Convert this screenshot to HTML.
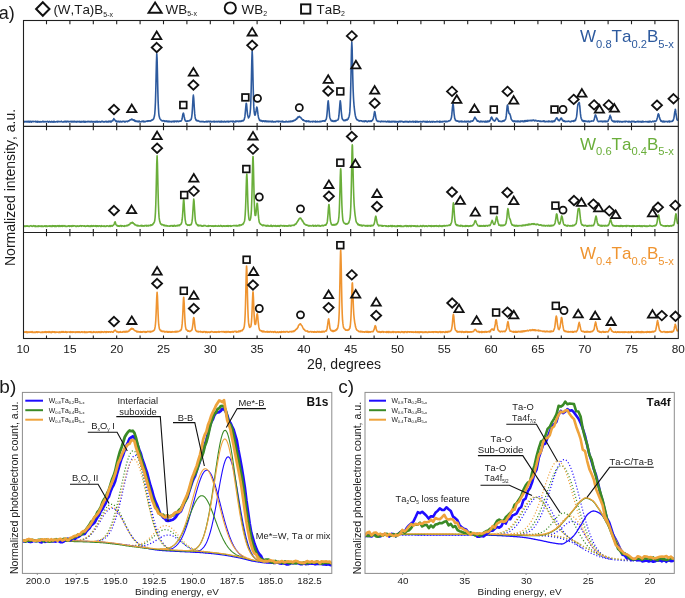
<!DOCTYPE html>
<html><head><meta charset="utf-8"><style>
html,body{margin:0;padding:0;background:#fff;}
body{width:685px;height:598px;overflow:hidden;}
svg{display:block;will-change:transform;}
text{font-family:"Liberation Sans", sans-serif;font-kerning:none;}
</style></head><body>
<svg width="685" height="598" viewBox="0 0 685 598" font-family="Liberation Sans, sans-serif">
<rect width="685" height="598" fill="#fff"/>
<path d="M24.1 121.37 L24.43 122.01 L24.76 121.94 L25.09 121.48 L25.42 121.7 L25.75 121.65 L26.08 121.84 L26.41 121.96 L26.74 121.33 L27.07 121.28 L27.4 122 L27.73 121.64 L28.06 121.94 L28.39 121.25 L28.72 121.65 L29.05 121.9 L29.38 121.46 L29.71 122.1 L30.04 122.06 L30.37 121.28 L30.7 121.27 L31.03 121.74 L31.36 122.1 L31.69 121.59 L32.02 121.44 L32.35 121.63 L32.68 121.28 L33.01 121.45 L33.34 121.64 L33.67 121.7 L34 121.46 L34.33 121.46 L34.66 121.45 L34.99 121.66 L35.32 121.51 L35.65 121.27 L35.98 122 L36.31 121.75 L36.64 121.83 L36.97 121.42 L37.3 122.14 L37.63 122.02 L37.96 121.36 L38.29 121.55 L38.62 121.9 L38.95 121.89 L39.28 122.09 L39.61 121.63 L39.94 122 L40.27 121.85 L40.6 121.52 L40.93 121.78 L41.26 122.04 L41.59 122.01 L41.92 121.7 L42.25 121.78 L42.58 121.28 L42.91 121.47 L43.24 121.97 L43.57 121.62 L43.9 121.41 L44.23 121.74 L44.56 121.88 L44.89 121.86 L45.22 121.59 L45.55 121.65 L45.88 121.71 L46.21 121.95 L46.54 121.72 L46.87 121.6 L47.2 121.69 L47.53 121.28 L47.86 121.29 L48.19 121.88 L48.52 122.13 L48.85 121.78 L49.18 121.6 L49.51 121.4 L49.84 121.7 L50.17 122.13 L50.5 121.94 L50.83 121.74 L51.16 122.02 L51.49 121.46 L51.82 121.71 L52.15 122.11 L52.48 121.77 L52.81 121.66 L53.14 121.49 L53.47 121.74 L53.8 122.11 L54.13 121.25 L54.46 121.95 L54.79 121.99 L55.12 122.05 L55.45 121.92 L55.78 121.98 L56.11 121.72 L56.44 121.75 L56.77 121.63 L57.1 121.3 L57.43 122.03 L57.76 121.76 L58.09 121.43 L58.42 121.7 L58.75 121.69 L59.08 121.57 L59.41 121.56 L59.74 121.73 L60.07 121.81 L60.4 121.8 L60.73 121.66 L61.06 121.27 L61.39 121.46 L61.72 121.41 L62.05 121.78 L62.38 122.02 L62.71 121.97 L63.04 121.97 L63.37 121.98 L63.7 121.48 L64.03 122.01 L64.36 121.86 L64.69 121.32 L65.02 121.26 L65.35 121.26 L65.68 121.93 L66.01 121.47 L66.34 121.35 L66.67 121.81 L67 121.56 L67.33 121.31 L67.66 121.39 L67.99 121.72 L68.32 121.4 L68.65 121.5 L68.98 121.89 L69.31 121.66 L69.64 121.54 L69.97 121.68 L70.3 121.27 L70.63 121.6 L70.96 121.63 L71.29 121.42 L71.62 121.35 L71.95 122.06 L72.28 121.71 L72.61 121.44 L72.94 121.79 L73.27 121.98 L73.6 121.27 L73.93 121.26 L74.26 121.38 L74.59 121.89 L74.92 121.39 L75.25 121.88 L75.58 121.86 L75.91 121.74 L76.24 121.45 L76.57 122.12 L76.9 121.96 L77.23 121.71 L77.56 121.45 L77.89 121.83 L78.22 121.6 L78.55 121.76 L78.88 121.54 L79.21 121.81 L79.54 121.3 L79.87 121.52 L80.2 122.12 L80.53 122.03 L80.86 121.52 L81.19 122.02 L81.52 121.53 L81.85 122.09 L82.18 121.92 L82.51 121.62 L82.84 121.47 L83.17 121.25 L83.5 122.04 L83.83 121.28 L84.16 121.98 L84.49 122.11 L84.82 121.76 L85.15 121.4 L85.48 122.03 L85.81 122.12 L86.14 121.88 L86.47 121.7 L86.8 121.59 L87.13 121.56 L87.46 121.43 L87.79 121.85 L88.12 121.63 L88.45 121.42 L88.78 121.34 L89.11 121.84 L89.44 121.51 L89.77 121.69 L90.1 121.54 L90.43 122.03 L90.76 122.05 L91.09 121.26 L91.42 121.42 L91.75 121.54 L92.08 122.13 L92.41 121.95 L92.74 121.55 L93.07 121.43 L93.4 121.85 L93.73 122 L94.06 122.08 L94.39 121.55 L94.72 122.04 L95.05 121.86 L95.38 121.68 L95.71 122.13 L96.04 121.45 L96.37 121.89 L96.7 121.32 L97.03 121.38 L97.36 122.05 L97.69 121.42 L98.02 121.91 L98.35 121.77 L98.68 121.99 L99.01 121.56 L99.34 121.53 L99.67 121.49 L100 122.01 L100.33 121.77 L100.66 122.08 L100.99 122.02 L101.32 121.35 L101.65 121.72 L101.98 121.32 L102.31 121.26 L102.64 121.29 L102.97 122 L103.3 121.93 L103.63 121.96 L103.96 121.52 L104.29 121.77 L104.62 121.92 L104.95 121.55 L105.28 121.73 L105.61 121.41 L105.94 121.28 L106.27 121.45 L106.6 122.01 L106.93 121.71 L107.26 122.03 L107.59 121.61 L107.92 121.44 L108.25 121.9 L108.58 121.93 L108.91 121.19 L109.24 121.77 L109.57 121.24 L109.9 121.26 L110.23 121.94 L110.56 121.16 L110.89 121.32 L111.22 121.96 L111.55 121.41 L111.88 121.06 L112.21 120.97 L112.54 120.78 L112.87 120.8 L113.2 119.6 L113.53 119.61 L113.86 118.61 L114.19 119.19 L114.52 119.71 L114.85 119.87 L115.18 120.43 L115.51 121.03 L115.84 120.92 L116.17 121.54 L116.5 121.06 L116.83 121.07 L117.16 121.97 L117.49 121.37 L117.82 121.65 L118.15 121.53 L118.48 121.41 L118.81 121.19 L119.14 121.96 L119.47 122.02 L119.8 122.02 L120.13 121.25 L120.46 121.34 L120.79 121.7 L121.12 122.03 L121.45 121.63 L121.78 121.76 L122.11 121.73 L122.44 121.37 L122.77 121.62 L123.1 121.4 L123.43 121.34 L123.76 121.19 L124.09 121.36 L124.42 121.98 L124.75 121.49 L125.08 121.66 L125.41 121.64 L125.74 121.89 L126.07 121.37 L126.4 121.26 L126.73 121.25 L127.06 121.19 L127.39 121.61 L127.72 121.58 L128.05 120.96 L128.38 120.89 L128.71 120.96 L129.04 120.85 L129.37 120.7 L129.7 120.21 L130.03 119.82 L130.36 119.83 L130.69 119.49 L131.02 119.75 L131.35 119.18 L131.68 119.09 L132.01 119.56 L132.34 119.28 L132.67 119.83 L133 119.7 L133.33 120.2 L133.66 119.74 L133.99 120.25 L134.32 120.69 L134.65 120.22 L134.98 121.16 L135.31 120.6 L135.64 121.26 L135.97 121.55 L136.3 121.48 L136.63 121.1 L136.96 120.96 L137.29 121.37 L137.62 121.76 L137.95 121.22 L138.28 121.78 L138.61 121.12 L138.94 121.82 L139.27 121.04 L139.6 121.3 L139.93 121.84 L140.26 121.75 L140.59 121.84 L140.92 121.78 L141.25 121.7 L141.58 121.65 L141.91 121.18 L142.24 121.41 L142.57 121.16 L142.9 121.66 L143.23 121.61 L143.56 121.23 L143.89 121.05 L144.22 121.85 L144.55 121.7 L144.88 121.46 L145.21 121.44 L145.54 121.71 L145.87 121.33 L146.2 121.27 L146.53 121.2 L146.86 121.1 L147.19 120.87 L147.52 121.41 L147.85 121.17 L148.18 121.28 L148.51 120.79 L148.84 121.01 L149.17 120.77 L149.5 120.71 L149.83 120.77 L150.16 121.22 L150.49 120.75 L150.82 120.66 L151.15 120.74 L151.48 120.28 L151.81 119.92 L152.14 120.21 L152.47 119.96 L152.8 119.81 L153.13 119.27 L153.46 119.04 L153.79 118.47 L154.12 117.15 L154.45 115.99 L154.78 113.56 L155.11 109.06 L155.44 101.98 L155.77 91.05 L156.1 76.89 L156.43 62.15 L156.76 53.71 L156.8 53.94 L157.09 58.49 L157.42 72.38 L157.75 87.75 L158.08 100.08 L158.41 107.56 L158.74 113 L159.07 115.87 L159.4 116.94 L159.73 118.25 L160.06 119.06 L160.39 119.11 L160.72 119.78 L161.05 120.11 L161.38 120.22 L161.71 120.64 L162.04 120.84 L162.37 121.03 L162.7 120.79 L163.03 120.53 L163.36 120.68 L163.69 120.72 L164.02 121.09 L164.35 121.32 L164.68 120.73 L165.01 121.34 L165.34 121.4 L165.67 121.1 L166 121.28 L166.33 120.99 L166.66 121.53 L166.99 120.93 L167.32 121.79 L167.65 121.65 L167.98 121.51 L168.31 121.19 L168.64 121.79 L168.97 121.84 L169.3 121.11 L169.63 121.7 L169.96 121.76 L170.29 121.61 L170.62 121.65 L170.95 121.43 L171.28 121.86 L171.61 121.91 L171.94 121.38 L172.27 121.77 L172.6 121.44 L172.93 121.2 L173.26 121.34 L173.59 121.17 L173.92 121.87 L174.25 121.92 L174.58 121.16 L174.91 121.59 L175.24 121.42 L175.57 121.15 L175.9 121.31 L176.23 121.26 L176.56 121.71 L176.89 121.03 L177.22 121.18 L177.55 121.4 L177.88 121.01 L178.21 121.54 L178.54 121.5 L178.87 121.68 L179.2 121.08 L179.53 121.11 L179.86 121.3 L180.19 120.99 L180.52 121.17 L180.85 120.73 L181.18 120.86 L181.51 120.5 L181.84 119.71 L182.17 118.57 L182.5 116.43 L182.83 114.43 L183.16 113.39 L183.3 113.16 L183.49 113.26 L183.82 114.6 L184.15 116.45 L184.48 117.97 L184.81 119.79 L185.14 119.9 L185.47 120.87 L185.8 120.9 L186.13 121.39 L186.46 121.27 L186.79 121.49 L187.12 120.76 L187.45 121.09 L187.78 121.14 L188.11 120.88 L188.44 121.01 L188.77 120.82 L189.1 120.9 L189.43 120.33 L189.76 120.6 L190.09 120.43 L190.42 120.07 L190.75 119.8 L191.08 119.59 L191.41 118.52 L191.74 116.61 L192.07 113.82 L192.4 109.15 L192.73 103.3 L193.06 97.51 L193.39 95.11 L193.4 95.4 L193.72 98.03 L194.05 103.51 L194.38 108.97 L194.71 113.91 L195.04 116.46 L195.37 118.61 L195.7 119.24 L196.03 120.13 L196.36 120.71 L196.69 120.35 L197.02 120.41 L197.35 120.96 L197.68 120.99 L198.01 120.93 L198.34 120.68 L198.67 121.09 L199 121.18 L199.33 121.2 L199.66 121.65 L199.99 121.43 L200.32 121.59 L200.65 121.76 L200.98 121.65 L201.31 121.44 L201.64 121.68 L201.97 121.6 L202.3 121.62 L202.63 121.62 L202.96 121.43 L203.29 121.64 L203.62 121.65 L203.95 121.93 L204.28 121.8 L204.61 121.86 L204.94 121.8 L205.27 121.85 L205.6 121.66 L205.93 121.44 L206.26 121.36 L206.59 121.77 L206.92 121.92 L207.25 121.63 L207.58 121.28 L207.91 121.89 L208.24 121.58 L208.57 121.57 L208.9 121.19 L209.23 121.61 L209.56 121.82 L209.89 121.54 L210.22 121.48 L210.55 121.75 L210.88 121.18 L211.21 121.62 L211.54 122.01 L211.87 121.79 L212.2 121.53 L212.53 121.79 L212.86 121.71 L213.19 121.36 L213.52 121.36 L213.85 121.97 L214.18 121.41 L214.51 121.24 L214.84 121.92 L215.17 121.64 L215.5 121.5 L215.83 121.63 L216.16 121.83 L216.49 121.32 L216.82 121.77 L217.15 121.82 L217.48 121.91 L217.81 121.42 L218.14 121.73 L218.47 121.39 L218.8 121.68 L219.13 121.33 L219.46 121.89 L219.79 121.96 L220.12 121.47 L220.45 121.38 L220.78 122.04 L221.11 121.81 L221.44 121.93 L221.77 121.2 L222.1 121.98 L222.43 121.73 L222.76 121.46 L223.09 121.56 L223.42 121.85 L223.75 121.88 L224.08 121.34 L224.41 121.73 L224.74 121.31 L225.07 122.04 L225.4 121.56 L225.73 121.98 L226.06 121.81 L226.39 121.7 L226.72 121.39 L227.05 121.63 L227.38 121.27 L227.71 121.27 L228.04 121.79 L228.37 121.47 L228.7 121.82 L229.03 121.35 L229.36 121.78 L229.69 121.78 L230.02 121.4 L230.35 121.22 L230.68 121.48 L231.01 121.56 L231.34 121.2 L231.67 121.28 L232 121.15 L232.33 121.64 L232.66 121.89 L232.99 121.28 L233.32 121.11 L233.65 121.71 L233.98 121.8 L234.31 121.93 L234.64 121.61 L234.97 121.36 L235.3 121.79 L235.63 121.14 L235.96 121.64 L236.29 121.1 L236.62 121.36 L236.95 121.43 L237.28 121.31 L237.61 121.11 L237.94 121.15 L238.27 121.66 L238.6 121.32 L238.93 121.4 L239.26 121.05 L239.59 121.47 L239.92 121.09 L240.25 121.29 L240.58 121.54 L240.91 121.57 L241.24 120.67 L241.57 121.28 L241.9 121.27 L242.23 120.7 L242.56 120.65 L242.89 120.7 L243.22 120.84 L243.55 120.15 L243.88 120.24 L244.21 119.56 L244.54 118 L244.87 116.94 L245.2 113.42 L245.53 109.88 L245.86 106.41 L246.19 103.24 L246.3 103.31 L246.52 103.76 L246.85 107.12 L247.18 111.19 L247.51 114.37 L247.84 115.67 L248.17 116.81 L248.5 117.95 L248.83 117.2 L249.16 117.04 L249.49 116.18 L249.82 114.9 L250.15 112.57 L250.48 108.99 L250.81 101.99 L251.14 90.95 L251.47 76.45 L251.8 60.89 L252.13 51.54 L252.2 51.43 L252.46 55.98 L252.79 69.44 L253.12 84.57 L253.45 97.02 L253.78 106.39 L254.11 111.18 L254.44 113.64 L254.77 115.03 L255.1 115.11 L255.43 114.36 L255.76 112.48 L256.09 110.71 L256.42 108.62 L256.75 107.05 L256.9 107.56 L257.08 107.54 L257.41 109.67 L257.74 112.35 L258.07 114.9 L258.4 116.92 L258.73 118.41 L259.06 118.92 L259.39 120.17 L259.72 119.81 L260.05 120.74 L260.38 120.86 L260.71 120.99 L261.04 120.38 L261.37 120.51 L261.7 121.23 L262.03 120.99 L262.36 120.95 L262.69 121.55 L263.02 120.75 L263.35 121.23 L263.68 121.18 L264.01 120.93 L264.34 121.19 L264.67 121.5 L265 121.68 L265.33 120.92 L265.66 121.39 L265.99 121.02 L266.32 121.67 L266.65 121.04 L266.98 121.01 L267.31 121.33 L267.64 121.66 L267.97 121.29 L268.3 121.13 L268.63 121.74 L268.96 121.76 L269.29 121.81 L269.62 121.32 L269.95 121.43 L270.28 121.28 L270.61 121.56 L270.94 121.37 L271.27 121.38 L271.6 121.78 L271.93 121.94 L272.26 121.61 L272.59 121.18 L272.92 121.68 L273.25 121.5 L273.58 121.99 L273.91 121.75 L274.24 121.86 L274.57 121.74 L274.9 121.59 L275.23 121.92 L275.56 121.86 L275.89 121.38 L276.22 121.26 L276.55 121.45 L276.88 121.59 L277.21 121.21 L277.54 121.43 L277.87 121.64 L278.2 121.16 L278.53 121.85 L278.86 121.71 L279.19 121.4 L279.52 121.39 L279.85 121.44 L280.18 121.41 L280.51 121.79 L280.84 121.57 L281.17 121.59 L281.5 121.25 L281.83 121.94 L282.16 121.4 L282.49 121.4 L282.82 121.17 L283.15 121.99 L283.48 121.53 L283.81 121.92 L284.14 121.93 L284.47 121.97 L284.8 121.82 L285.13 121.92 L285.46 121.91 L285.79 121.8 L286.12 121.19 L286.45 121.54 L286.78 121.58 L287.11 121.95 L287.44 121.75 L287.77 121.67 L288.1 121.71 L288.43 121.35 L288.76 121.86 L289.09 121.58 L289.42 121.35 L289.75 121.39 L290.08 121.84 L290.41 121.42 L290.74 121.07 L291.07 121.03 L291.4 121.49 L291.73 121.34 L292.06 121.6 L292.39 120.9 L292.72 121.05 L293.05 121.26 L293.38 120.56 L293.71 120.5 L294.04 120.77 L294.37 120.37 L294.7 120.05 L295.03 119.99 L295.36 120.09 L295.69 119.73 L296.02 119.03 L296.35 118.71 L296.68 119.07 L297.01 118.52 L297.34 117.74 L297.67 118 L298 116.91 L298.33 116.94 L298.66 117.14 L298.99 116.88 L299.3 116.45 L299.32 116.99 L299.65 116.79 L299.98 117.18 L300.31 117.44 L300.64 117.31 L300.97 117.87 L301.3 118.11 L301.63 118.84 L301.96 119.06 L302.29 119.33 L302.62 119.73 L302.95 120.18 L303.28 119.77 L303.61 119.95 L303.94 120.64 L304.27 120.84 L304.6 120.75 L304.93 120.85 L305.26 120.88 L305.59 121.39 L305.92 121.39 L306.25 121.25 L306.58 120.81 L306.91 121.58 L307.24 121.26 L307.57 121.05 L307.9 121.17 L308.23 121.54 L308.56 120.94 L308.89 121.06 L309.22 121.23 L309.55 121.77 L309.88 121.66 L310.21 121.87 L310.54 121.49 L310.87 121.52 L311.2 121.51 L311.53 121.49 L311.86 121.51 L312.19 121.76 L312.52 121.9 L312.85 121.41 L313.18 121.61 L313.51 121.33 L313.84 121.32 L314.17 121.51 L314.5 121.58 L314.83 121.55 L315.16 121.93 L315.49 121.2 L315.82 121.62 L316.15 121.94 L316.48 121.71 L316.81 121.55 L317.14 121.37 L317.47 121.4 L317.8 121.87 L318.13 121.83 L318.46 121.62 L318.79 121.82 L319.12 121.84 L319.45 121.76 L319.78 121.33 L320.11 121.39 L320.44 121.68 L320.77 121.28 L321.1 121.6 L321.43 121.34 L321.76 121.18 L322.09 121.27 L322.42 120.93 L322.75 121.1 L323.08 121.11 L323.41 120.7 L323.74 120.78 L324.07 120.78 L324.4 121.21 L324.73 120.85 L325.06 120.41 L325.39 120.81 L325.72 119.79 L326.05 119.43 L326.38 118.59 L326.71 116.73 L327.04 113.59 L327.37 109.83 L327.7 104.91 L328.03 101.57 L328.2 100.81 L328.36 101.73 L328.69 104.96 L329.02 109.05 L329.35 113.17 L329.68 116.86 L330.01 118.03 L330.34 118.9 L330.67 119.69 L331 120.24 L331.33 120.88 L331.66 120.54 L331.99 120.94 L332.32 121.13 L332.65 120.52 L332.98 121.03 L333.31 121.41 L333.64 121.03 L333.97 121.02 L334.3 120.85 L334.63 121.38 L334.96 121.38 L335.29 120.57 L335.62 120.93 L335.95 120.75 L336.28 120.9 L336.61 120.3 L336.94 120.3 L337.27 120.13 L337.6 120.05 L337.93 119.93 L338.26 119.28 L338.59 117.96 L338.92 115.73 L339.25 111.93 L339.58 107.87 L339.91 103.62 L340.24 100.7 L340.3 100.82 L340.57 102.51 L340.9 105.87 L341.23 111.06 L341.56 114.05 L341.89 116.8 L342.22 118.77 L342.55 118.97 L342.88 119.71 L343.21 119.88 L343.54 120.46 L343.87 120.66 L344.2 120.08 L344.53 120.29 L344.86 120.65 L345.19 120.31 L345.52 119.97 L345.85 120.38 L346.18 119.9 L346.51 119.91 L346.84 119.32 L347.17 119.99 L347.5 119.43 L347.83 119.35 L348.16 118.97 L348.49 117.79 L348.82 117.3 L349.15 116.15 L349.48 114.74 L349.81 111.88 L350.14 106.16 L350.47 97.52 L350.8 84.81 L351.13 67.63 L351.46 50.48 L351.79 41.98 L351.8 42.26 L352.12 48 L352.45 62.87 L352.78 77.49 L353.11 89.13 L353.44 96.51 L353.6 99.53 L353.77 101.89 L354.1 106.21 L354.43 109.07 L354.76 111.74 L355.09 114.09 L355.42 115.91 L355.75 117.09 L356.08 118.27 L356.41 118.55 L356.74 119.65 L357.07 119.83 L357.4 119.95 L357.73 119.73 L358.06 120.14 L358.39 120.61 L358.72 120.68 L359.05 120.94 L359.38 121.1 L359.71 120.66 L360.04 120.89 L360.37 120.8 L360.7 120.67 L361.03 120.73 L361.36 120.87 L361.69 120.76 L362.02 121.2 L362.35 121.37 L362.68 121.28 L363.01 121.41 L363.34 121.02 L363.67 121.01 L364 121.36 L364.33 121.66 L364.66 121.26 L364.99 120.9 L365.32 120.92 L365.65 121.19 L365.98 121.47 L366.31 121 L366.64 121.13 L366.97 121.55 L367.3 121.82 L367.63 121.25 L367.96 121.48 L368.29 121.4 L368.62 120.95 L368.95 121.22 L369.28 121.04 L369.61 121.12 L369.94 121.57 L370.27 121.46 L370.6 120.85 L370.93 120.84 L371.26 121.37 L371.59 120.73 L371.92 120.81 L372.25 120.57 L372.58 120.04 L372.91 119.43 L373.24 118.52 L373.57 117.24 L373.9 115.73 L374.23 113.35 L374.56 111.54 L374.7 111.78 L374.89 111.71 L375.22 113.55 L375.55 115.52 L375.88 118.02 L376.21 118.93 L376.54 120.27 L376.87 120.67 L377.2 121.17 L377.53 121.14 L377.86 121.49 L378.19 121.16 L378.52 121.46 L378.85 121.46 L379.18 121.41 L379.51 121.48 L379.84 121.48 L380.17 121.37 L380.5 121.85 L380.83 121.62 L381.16 121.56 L381.49 121.13 L381.82 121.55 L382.15 121.26 L382.48 121.3 L382.81 121.51 L383.14 121.62 L383.47 121.36 L383.8 121.38 L384.13 121.62 L384.46 121.57 L384.79 121.51 L385.12 121.25 L385.45 121.49 L385.78 121.75 L386.11 121.65 L386.44 121.66 L386.77 121.93 L387.1 121.82 L387.43 121.79 L387.76 121.2 L388.09 121.46 L388.42 121.8 L388.75 121.33 L389.08 122.01 L389.41 121.32 L389.74 121.98 L390.07 121.39 L390.4 121.95 L390.73 121.96 L391.06 121.5 L391.39 122 L391.72 121.34 L392.05 121.96 L392.38 121.55 L392.71 121.6 L393.04 121.31 L393.37 121.74 L393.7 121.45 L394.03 121.8 L394.36 121.92 L394.69 121.75 L395.02 121.21 L395.35 122.06 L395.68 122.04 L396.01 121.79 L396.34 121.55 L396.67 121.72 L397 122.01 L397.33 121.62 L397.66 121.91 L397.99 121.75 L398.32 121.59 L398.65 122.05 L398.98 121.58 L399.31 121.76 L399.64 121.26 L399.97 121.64 L400.3 121.25 L400.63 121.85 L400.96 121.22 L401.29 121.26 L401.62 121.32 L401.95 121.35 L402.28 121.68 L402.61 121.54 L402.94 121.47 L403.27 122.11 L403.6 122.04 L403.93 121.81 L404.26 121.94 L404.59 121.96 L404.92 121.44 L405.25 121.95 L405.58 121.44 L405.91 121.73 L406.24 121.55 L406.57 121.37 L406.9 121.92 L407.23 122.05 L407.56 121.51 L407.89 122.02 L408.22 121.54 L408.55 121.82 L408.88 122.12 L409.21 121.92 L409.54 121.28 L409.87 121.62 L410.2 121.57 L410.53 121.49 L410.86 121.96 L411.19 121.62 L411.52 121.86 L411.85 121.81 L412.18 121.71 L412.51 121.29 L412.84 121.84 L413.17 122.04 L413.5 121.39 L413.83 121.82 L414.16 121.68 L414.49 121.55 L414.82 121.88 L415.15 122.12 L415.48 121.26 L415.81 122.05 L416.14 121.58 L416.47 121.99 L416.8 121.4 L417.13 121.88 L417.46 121.33 L417.79 121.54 L418.12 122.11 L418.45 121.83 L418.78 121.94 L419.11 121.65 L419.44 121.66 L419.77 121.68 L420.1 121.93 L420.43 121.89 L420.76 121.41 L421.09 121.63 L421.42 121.72 L421.75 121.75 L422.08 122.07 L422.41 121.99 L422.74 121.37 L423.07 121.57 L423.4 121.33 L423.73 121.26 L424.06 121.3 L424.39 121.4 L424.72 121.92 L425.05 121.83 L425.38 121.95 L425.71 121.49 L426.04 121.37 L426.37 122.11 L426.7 121.98 L427.03 122.08 L427.36 121.25 L427.69 121.59 L428.02 121.8 L428.35 121.89 L428.68 122.05 L429.01 121.71 L429.34 121.58 L429.67 121.23 L430 121.95 L430.33 122.11 L430.66 122.04 L430.99 121.82 L431.32 121.53 L431.65 121.44 L431.98 121.92 L432.31 122.06 L432.64 122.09 L432.97 121.38 L433.3 121.75 L433.63 121.68 L433.96 121.6 L434.29 121.93 L434.62 122.06 L434.95 121.87 L435.28 121.85 L435.61 121.84 L435.94 121.8 L436.27 121.69 L436.6 121.43 L436.93 121.91 L437.26 121.31 L437.59 121.78 L437.92 121.55 L438.25 121.7 L438.58 121.78 L438.91 121.63 L439.24 122.07 L439.57 121.41 L439.9 121.2 L440.23 122.05 L440.56 121.46 L440.89 121.43 L441.22 121.55 L441.55 121.71 L441.88 122.05 L442.21 121.8 L442.54 121.44 L442.87 121.63 L443.2 121.55 L443.53 121.59 L443.86 121.5 L444.19 121.27 L444.52 121.47 L444.85 121.45 L445.18 121.27 L445.51 121.81 L445.84 121.38 L446.17 121.17 L446.5 121.53 L446.83 121.75 L447.16 121.67 L447.49 121.49 L447.82 121.55 L448.15 121.14 L448.48 120.91 L448.81 120.94 L449.14 120.94 L449.47 120.76 L449.8 120.78 L450.13 120.28 L450.46 119.94 L450.79 119.52 L451.12 118.55 L451.45 117.55 L451.78 114.91 L452.11 111.29 L452.44 107.67 L452.77 104.93 L453 103.89 L453.1 104.02 L453.43 106.22 L453.76 109.79 L454.09 113.78 L454.42 116.06 L454.75 118.56 L455.08 119.04 L455.41 120.32 L455.74 120.38 L456.07 120.89 L456.4 120.98 L456.73 120.69 L457.06 121.15 L457.39 120.81 L457.72 121.02 L458.05 121.2 L458.38 121.16 L458.71 121.53 L459.04 121.85 L459.37 121.31 L459.7 121.77 L460.03 121.23 L460.36 121.68 L460.69 121.37 L461.02 121.55 L461.35 121.16 L461.68 121.84 L462.01 121.29 L462.34 121.52 L462.67 121.37 L463 121.85 L463.33 121.66 L463.66 121.68 L463.99 121.81 L464.32 121.36 L464.65 121.19 L464.98 121.88 L465.31 121.42 L465.64 121.87 L465.97 122 L466.3 121.7 L466.63 121.23 L466.96 121.9 L467.29 121.7 L467.62 121.35 L467.95 121.31 L468.28 121.57 L468.61 121.22 L468.94 121.92 L469.27 121.73 L469.6 121.82 L469.93 121.41 L470.26 121.88 L470.59 121.15 L470.92 121.65 L471.25 121.2 L471.58 120.93 L471.91 120.96 L472.24 120.92 L472.57 121.26 L472.9 120.64 L473.23 120.32 L473.56 119.88 L473.89 118.88 L474.22 118.43 L474.55 117.75 L474.88 117.56 L475 117.15 L475.21 117.57 L475.54 118.19 L475.87 118.76 L476.2 119.21 L476.53 119.74 L476.86 120.1 L477.19 121.12 L477.52 120.73 L477.85 121.27 L478.18 121.27 L478.51 120.97 L478.84 121.16 L479.17 121.74 L479.5 121.51 L479.83 121.87 L480.16 121.87 L480.49 121.15 L480.82 121.69 L481.15 121.13 L481.48 121.47 L481.81 121.5 L482.14 121.96 L482.47 121.64 L482.8 121.28 L483.13 121.57 L483.46 121.58 L483.79 121.28 L484.12 121.43 L484.45 121.89 L484.78 121.98 L485.11 121.79 L485.44 121.14 L485.77 121.89 L486.1 121.48 L486.43 121.81 L486.76 121.2 L487.09 121.16 L487.42 121.82 L487.75 121.24 L488.08 120.98 L488.41 121.35 L488.74 121.72 L489.07 121.48 L489.4 120.9 L489.73 121.14 L490.06 120.5 L490.39 119.89 L490.72 118.88 L491.05 117.77 L491.38 117.56 L491.6 117.01 L491.71 117.46 L492.04 117.61 L492.37 118.76 L492.7 119.22 L493.03 119.86 L493.36 120.5 L493.69 120.55 L494.02 120.53 L494.35 120.94 L494.68 121.06 L495.01 120.29 L495.34 120.4 L495.67 119.75 L496 119.06 L496.33 118.1 L496.66 118.32 L496.99 118.34 L497.32 118.74 L497.65 119.03 L497.98 120.08 L498.31 120.06 L498.64 121.19 L498.97 120.88 L499.3 121.03 L499.63 121.26 L499.96 121.37 L500.29 121.34 L500.62 121.26 L500.95 121.39 L501.28 121.58 L501.61 121.2 L501.94 121.23 L502.27 121.47 L502.6 120.71 L502.93 120.8 L503.26 120.89 L503.59 120.7 L503.92 121.22 L504.25 120.41 L504.58 120.18 L504.91 120.09 L505.24 119.8 L505.57 119.3 L505.9 118.14 L506.23 115.95 L506.56 112.82 L506.89 108.82 L507.22 105.71 L507.5 105.03 L507.55 105.19 L507.88 106.09 L508.21 109.43 L508.54 111.53 L508.87 113.09 L509.2 113.74 L509.53 113.4 L509.8 113.74 L509.86 114.54 L510.19 114.88 L510.52 116.03 L510.85 117.53 L511.18 119.04 L511.51 119.45 L511.84 119.96 L512.17 120.38 L512.5 120.78 L512.83 121.16 L513.16 120.87 L513.49 121.46 L513.82 121.61 L514.15 121.52 L514.48 120.89 L514.81 121.13 L515.14 121.71 L515.47 121.67 L515.8 121.04 L516.13 121.33 L516.46 121.27 L516.79 121.63 L517.12 120.99 L517.45 121.25 L517.78 121.64 L518.11 121.77 L518.44 121.01 L518.77 121.5 L519.1 121.57 L519.43 121.75 L519.76 121.34 L520.09 121.83 L520.42 121.12 L520.75 121.04 L521.08 121.04 L521.41 121.44 L521.74 121.01 L522.07 121.12 L522.4 121.04 L522.73 120.9 L523.06 121.7 L523.39 121.11 L523.72 121.65 L524.05 121.41 L524.38 120.94 L524.71 121.55 L525.04 120.69 L525.37 121.54 L525.7 120.65 L526.03 120.82 L526.36 121.06 L526.69 120.53 L527.02 121.18 L527.35 120.53 L527.68 121.15 L528.01 120.41 L528.34 120.82 L528.67 120.5 L529 120.53 L529.33 120.68 L529.66 120.54 L529.99 120.52 L530.32 120.73 L530.65 120.29 L530.98 120.25 L531.31 120.68 L531.64 120.31 L531.97 120.87 L532.3 120.4 L532.63 120.44 L532.96 120.03 L533.29 120.03 L533.62 120.11 L533.95 120.59 L534.28 120.64 L534.61 120.92 L534.94 120.47 L535.27 120.75 L535.6 120.45 L535.93 120.24 L536.26 120.58 L536.59 120.87 L536.92 121 L537.25 121.17 L537.58 121.09 L537.91 120.89 L538.24 120.91 L538.57 120.91 L538.9 120.92 L539.23 121.14 L539.56 121.08 L539.89 121.37 L540.22 121.04 L540.55 121.09 L540.88 121.44 L541.21 121.33 L541.54 121.22 L541.87 121.29 L542.2 121.53 L542.53 121.37 L542.86 121.08 L543.19 121.15 L543.52 121.44 L543.85 120.95 L544.18 121.34 L544.51 121.75 L544.84 121.17 L545.17 121.37 L545.5 121.61 L545.83 121.83 L546.16 121.63 L546.49 121.58 L546.82 121.37 L547.15 121.42 L547.48 121.61 L547.81 121.36 L548.14 121.75 L548.47 121.05 L548.8 121.72 L549.13 121.72 L549.46 121.32 L549.79 121.06 L550.12 121.35 L550.45 121.57 L550.78 121.74 L551.11 121.81 L551.44 121.21 L551.77 121.08 L552.1 121.1 L552.43 121.86 L552.76 121.53 L553.09 121.03 L553.42 121.49 L553.75 121.66 L554.08 121.24 L554.41 120.73 L554.74 121.12 L555.07 120.51 L555.4 119.54 L555.73 119.46 L556.06 118.6 L556.39 118.16 L556.72 117.78 L557.05 117.92 L557.38 118.53 L557.71 119.22 L558.04 119.69 L558.37 120.47 L558.7 120 L559.03 120.18 L559.36 120.74 L559.69 120.18 L560.02 119.77 L560.35 119.28 L560.68 118.43 L561.01 118.24 L561.34 118.06 L561.67 118.34 L562 119.61 L562.33 119.95 L562.66 120.57 L562.99 120.17 L563.32 121.09 L563.65 120.93 L563.98 121.22 L564.31 121.46 L564.64 120.93 L564.97 121.27 L565.3 121.46 L565.63 121.77 L565.96 121.45 L566.29 121.29 L566.62 121.55 L566.95 121.54 L567.28 121.28 L567.61 121.52 L567.94 121.27 L568.27 121.03 L568.6 121.3 L568.93 121.09 L569.26 121.45 L569.59 121.45 L569.92 121.77 L570.25 121.65 L570.58 121.64 L570.91 121.84 L571.24 121.17 L571.57 121.24 L571.9 121.09 L572.23 120.94 L572.56 121.28 L572.89 121.23 L573.22 120.84 L573.55 121.49 L573.88 121.46 L574.21 120.55 L574.54 120.37 L574.87 120.26 L575.2 120.63 L575.53 120.38 L575.86 119.08 L576.19 118.03 L576.52 116.88 L576.85 114.3 L577.18 110.89 L577.51 107.45 L577.84 104.87 L577.9 104.5 L578.17 103.63 L578.5 103.45 L578.83 102.74 L579.16 102.46 L579.4 103.05 L579.49 104.16 L579.82 106.53 L580.15 110.57 L580.48 113.9 L580.81 116.4 L581.14 118.22 L581.47 118.94 L581.8 119.72 L582.13 120.5 L582.46 120.85 L582.79 120.53 L583.12 120.62 L583.45 121.38 L583.78 120.73 L584.11 121.42 L584.44 121.55 L584.77 120.94 L585.1 121.59 L585.43 121.01 L585.76 120.94 L586.09 121.18 L586.42 121.25 L586.75 121.49 L587.08 121.37 L587.41 121.69 L587.74 121.59 L588.07 121.1 L588.4 121.18 L588.73 121.67 L589.06 121.11 L589.39 121.86 L589.72 121.73 L590.05 121.19 L590.38 121.24 L590.71 121.19 L591.04 121.33 L591.37 121.15 L591.7 120.92 L592.03 121.08 L592.36 120.97 L592.69 121.02 L593.02 120.97 L593.35 121.11 L593.68 120.51 L594.01 119.82 L594.34 119.11 L594.67 117.46 L595 116.16 L595.33 114.92 L595.6 115.11 L595.66 115.17 L595.99 115.85 L596.32 116.81 L596.65 117.69 L596.98 118.78 L597.31 120.27 L597.64 120.9 L597.97 120.92 L598.3 121.48 L598.63 121.61 L598.96 121.53 L599.29 121.24 L599.62 121.35 L599.95 121.29 L600.28 121.36 L600.61 121.44 L600.94 121.05 L601.27 121.16 L601.6 121.21 L601.93 121.58 L602.26 121.86 L602.59 121.72 L602.92 121.21 L603.25 121.49 L603.58 121.64 L603.91 121.2 L604.24 121.14 L604.57 121.61 L604.9 121.27 L605.23 121.62 L605.56 121.18 L605.89 121.77 L606.22 121.25 L606.55 121.33 L606.88 121.39 L607.21 121.62 L607.54 121.53 L607.87 121.28 L608.2 120.81 L608.53 119.74 L608.86 119.08 L609.19 118.36 L609.52 117.59 L609.85 116.3 L610.18 115.33 L610.2 115.48 L610.51 116.41 L610.84 117.02 L611.17 118.53 L611.5 119.58 L611.83 120.31 L612.16 120.72 L612.49 121.1 L612.82 121.02 L613.15 120.94 L613.48 121.76 L613.81 120.99 L614.14 121.25 L614.47 121.59 L614.8 121.93 L615.13 121.27 L615.46 121.32 L615.79 121.87 L616.12 121.42 L616.45 121.5 L616.78 121.47 L617.11 121.2 L617.44 122.01 L617.77 121.79 L618.1 121.18 L618.43 121.26 L618.76 121.3 L619.09 121.51 L619.42 121.99 L619.75 121.32 L620.08 121.4 L620.41 121.47 L620.74 121.66 L621.07 122.01 L621.4 121.69 L621.73 122.02 L622.06 121.69 L622.39 121.6 L622.72 121.99 L623.05 121.73 L623.38 121.64 L623.71 121.67 L624.04 121.53 L624.37 121.6 L624.7 121.28 L625.03 121.4 L625.36 121.9 L625.69 121.34 L626.02 121.41 L626.35 121.37 L626.68 121.55 L627.01 121.26 L627.34 121.54 L627.67 121.77 L628 121.83 L628.33 122 L628.66 121.3 L628.99 121.8 L629.32 121.4 L629.65 121.53 L629.98 121.74 L630.31 121.98 L630.64 121.83 L630.97 122.11 L631.3 121.24 L631.63 121.51 L631.96 121.66 L632.29 121.26 L632.62 121.27 L632.95 121.55 L633.28 121.73 L633.61 121.35 L633.94 121.29 L634.27 121.51 L634.6 121.89 L634.93 121.74 L635.26 122.12 L635.59 121.77 L635.92 122.03 L636.25 121.74 L636.58 121.66 L636.91 121.6 L637.24 121.29 L637.57 121.28 L637.9 121.82 L638.23 122 L638.56 121.24 L638.89 121.39 L639.22 121.52 L639.55 121.51 L639.88 121.98 L640.21 121.45 L640.54 121.5 L640.87 121.66 L641.2 122.08 L641.53 121.49 L641.86 121.79 L642.19 121.26 L642.52 121.61 L642.85 122.05 L643.18 121.41 L643.51 121.54 L643.84 121.81 L644.17 121.72 L644.5 121.73 L644.83 121.76 L645.16 121.82 L645.49 121.5 L645.82 121.53 L646.15 121.56 L646.48 121.68 L646.81 121.71 L647.14 121.99 L647.47 121.56 L647.8 121.6 L648.13 121.94 L648.46 122.06 L648.79 121.41 L649.12 121.84 L649.45 121.4 L649.78 121.84 L650.11 121.2 L650.44 121.62 L650.77 121.67 L651.1 121.78 L651.43 121.97 L651.76 121.85 L652.09 121.63 L652.42 121.56 L652.75 121.11 L653.08 121.57 L653.41 121.56 L653.74 121.7 L654.07 121.15 L654.4 121.5 L654.73 120.97 L655.06 121.51 L655.39 121.51 L655.72 121.04 L656.05 121.05 L656.38 120.68 L656.71 119.78 L657.04 118.69 L657.37 118.06 L657.7 116.18 L658.03 114.49 L658.36 113.76 L658.5 114.01 L658.69 114.31 L659.02 115.07 L659.35 116.97 L659.68 117.73 L660.01 119.2 L660.34 119.61 L660.67 120.35 L661 121.25 L661.33 120.71 L661.66 121.36 L661.99 121.31 L662.32 121.8 L662.65 121.84 L662.98 121.09 L663.31 121.25 L663.64 121.92 L663.97 121.34 L664.3 121.22 L664.63 121.89 L664.96 121.64 L665.29 121.37 L665.62 121.59 L665.95 121.48 L666.28 121.51 L666.61 121.6 L666.94 121.25 L667.27 121.65 L667.6 121.95 L667.93 121.62 L668.26 121.79 L668.59 121.33 L668.92 121.2 L669.25 121.05 L669.58 121.92 L669.91 121.12 L670.24 121.33 L670.57 121.55 L670.9 121.59 L671.23 121.44 L671.56 121.22 L671.89 121.48 L672.22 121.04 L672.55 121.25 L672.88 120.3 L673.21 120.47 L673.54 119.16 L673.87 118.16 L674.2 116.33 L674.53 113.67 L674.86 111.38 L675.19 110.15 L675.3 109.29 L675.52 109.91 L675.85 112.66 L676.18 114.76 L676.51 116.99 L676.84 119.12 L677.17 120.07 L677.5 120.16" fill="none" stroke="#2d5a9e" stroke-width="1.6" stroke-linejoin="round" stroke-linecap="round" />
<path d="M24.1 226.51 L24.43 226.5 L24.76 225.7 L25.09 225.73 L25.42 226.4 L25.75 226.31 L26.08 226.25 L26.41 225.93 L26.74 226.2 L27.07 226.2 L27.4 226.17 L27.73 225.79 L28.06 226.04 L28.39 226 L28.72 226.3 L29.05 226.55 L29.38 226.5 L29.71 226.14 L30.04 226.05 L30.37 225.89 L30.7 225.68 L31.03 225.67 L31.36 226.07 L31.69 225.94 L32.02 225.99 L32.35 226.45 L32.68 226.12 L33.01 226.15 L33.34 225.86 L33.67 225.67 L34 225.94 L34.33 225.77 L34.66 226.11 L34.99 226.55 L35.32 226.26 L35.65 225.81 L35.98 226.45 L36.31 226.37 L36.64 226.31 L36.97 226.47 L37.3 226.34 L37.63 226.36 L37.96 225.97 L38.29 226.53 L38.62 226.52 L38.95 225.8 L39.28 226.33 L39.61 226.29 L39.94 226.07 L40.27 226.13 L40.6 226.09 L40.93 226.48 L41.26 226.1 L41.59 226.4 L41.92 225.97 L42.25 226.44 L42.58 226.46 L42.91 226.06 L43.24 226.16 L43.57 226.48 L43.9 226.3 L44.23 226.09 L44.56 225.85 L44.89 225.94 L45.22 226.28 L45.55 225.8 L45.88 226.47 L46.21 225.89 L46.54 226.47 L46.87 225.93 L47.2 226.51 L47.53 226.29 L47.86 226.1 L48.19 226.12 L48.52 226.24 L48.85 226.18 L49.18 225.93 L49.51 225.84 L49.84 226.11 L50.17 226.49 L50.5 226.21 L50.83 225.72 L51.16 226.39 L51.49 226.3 L51.82 226.47 L52.15 225.82 L52.48 226.32 L52.81 225.7 L53.14 226.24 L53.47 225.9 L53.8 225.85 L54.13 226.44 L54.46 225.75 L54.79 226.12 L55.12 226.42 L55.45 225.87 L55.78 225.84 L56.11 226.44 L56.44 226.03 L56.77 226.29 L57.1 225.68 L57.43 225.98 L57.76 225.8 L58.09 226.25 L58.42 225.72 L58.75 226.51 L59.08 225.67 L59.41 226.31 L59.74 225.67 L60.07 225.88 L60.4 226.38 L60.73 225.79 L61.06 225.81 L61.39 226.27 L61.72 226 L62.05 225.69 L62.38 226.54 L62.71 225.79 L63.04 225.68 L63.37 225.96 L63.7 226.2 L64.03 226.32 L64.36 225.75 L64.69 225.95 L65.02 225.68 L65.35 226.05 L65.68 226.34 L66.01 226.32 L66.34 226.46 L66.67 226.33 L67 226.43 L67.33 226.28 L67.66 226.07 L67.99 225.85 L68.32 226.24 L68.65 225.93 L68.98 225.74 L69.31 226.05 L69.64 226.44 L69.97 225.76 L70.3 226.18 L70.63 226 L70.96 226.11 L71.29 225.78 L71.62 226.51 L71.95 225.88 L72.28 226.19 L72.61 226.02 L72.94 225.66 L73.27 226.15 L73.6 225.77 L73.93 225.7 L74.26 225.68 L74.59 225.79 L74.92 225.73 L75.25 226.22 L75.58 226.1 L75.91 226.53 L76.24 226.49 L76.57 226.54 L76.9 225.85 L77.23 226.05 L77.56 225.87 L77.89 226.18 L78.22 226.21 L78.55 226.37 L78.88 226.28 L79.21 225.88 L79.54 226.03 L79.87 226.12 L80.2 225.65 L80.53 225.68 L80.86 226.01 L81.19 225.74 L81.52 226.3 L81.85 225.86 L82.18 225.73 L82.51 225.81 L82.84 225.85 L83.17 225.84 L83.5 226.11 L83.83 226.06 L84.16 225.92 L84.49 226.22 L84.82 225.83 L85.15 226.46 L85.48 226.51 L85.81 226.3 L86.14 226.03 L86.47 226.1 L86.8 226.17 L87.13 225.69 L87.46 226.02 L87.79 226.11 L88.12 225.81 L88.45 225.73 L88.78 226.36 L89.11 225.97 L89.44 226.11 L89.77 226.47 L90.1 226.19 L90.43 225.9 L90.76 226.53 L91.09 225.98 L91.42 225.66 L91.75 226.26 L92.08 225.73 L92.41 225.92 L92.74 226.4 L93.07 226.24 L93.4 225.65 L93.73 226.05 L94.06 226.01 L94.39 226.08 L94.72 225.83 L95.05 226.17 L95.38 225.7 L95.71 225.89 L96.04 225.97 L96.37 226.48 L96.7 225.71 L97.03 226.32 L97.36 225.8 L97.69 226.14 L98.02 225.98 L98.35 226.04 L98.68 226.3 L99.01 225.98 L99.34 225.73 L99.67 225.73 L100 225.69 L100.33 226.39 L100.66 226.2 L100.99 226.48 L101.32 226.24 L101.65 225.64 L101.98 226.21 L102.31 226.32 L102.64 226.27 L102.97 226.06 L103.3 225.93 L103.63 226.02 L103.96 226.33 L104.29 225.85 L104.62 226.08 L104.95 226.04 L105.28 226.46 L105.61 226.33 L105.94 226.44 L106.27 226.35 L106.6 225.86 L106.93 225.8 L107.26 226.03 L107.59 225.82 L107.92 225.97 L108.25 226.19 L108.58 226.4 L108.91 226.1 L109.24 226.3 L109.57 225.65 L109.9 225.87 L110.23 226.44 L110.56 225.66 L110.89 225.89 L111.22 225.56 L111.55 225.56 L111.88 226.26 L112.21 226.3 L112.54 225.94 L112.87 225.37 L113.2 225.34 L113.53 224.95 L113.86 224.78 L114.19 223.96 L114.52 222.79 L114.85 222.16 L115.18 221.82 L115.51 222.96 L115.84 224.28 L116.17 224.9 L116.5 224.85 L116.83 225.54 L117.16 225.89 L117.49 225.57 L117.82 226.19 L118.15 225.84 L118.48 226.08 L118.81 225.82 L119.14 226.37 L119.47 226.19 L119.8 226 L120.13 225.62 L120.46 225.89 L120.79 225.52 L121.12 226.03 L121.45 226.29 L121.78 225.65 L122.11 225.94 L122.44 225.91 L122.77 225.84 L123.1 226.11 L123.43 226.3 L123.76 226.08 L124.09 225.86 L124.42 226.29 L124.75 225.7 L125.08 226.06 L125.41 225.96 L125.74 226.02 L126.07 226.06 L126.4 225.45 L126.73 225.75 L127.06 225.49 L127.39 225.63 L127.72 225.8 L128.05 225.36 L128.38 224.63 L128.71 224.84 L129.04 224.84 L129.37 224.74 L129.7 224.26 L130.03 224.11 L130.36 223.08 L130.69 223.62 L131.02 223.15 L131.35 222.82 L131.68 222.95 L132.01 222.88 L132.34 222.23 L132.67 223.02 L133 223.2 L133.33 222.96 L133.66 223.74 L133.99 223.9 L134.32 223.84 L134.65 224.66 L134.98 224.31 L135.31 224.96 L135.64 224.99 L135.97 224.99 L136.3 225.4 L136.63 225.42 L136.96 225.27 L137.29 226.02 L137.62 225.27 L137.95 225.25 L138.28 225.71 L138.61 226.06 L138.94 225.91 L139.27 226.02 L139.6 225.79 L139.93 225.97 L140.26 225.67 L140.59 225.61 L140.92 225.83 L141.25 225.4 L141.58 225.45 L141.91 226.06 L142.24 225.54 L142.57 226.05 L142.9 226.08 L143.23 225.74 L143.56 225.98 L143.89 226.07 L144.22 226.13 L144.55 225.47 L144.88 225.49 L145.21 225.67 L145.54 225.74 L145.87 225.57 L146.2 225.3 L146.53 225.78 L146.86 226.13 L147.19 225.57 L147.52 225.7 L147.85 225.53 L148.18 225.56 L148.51 225.91 L148.84 225.37 L149.17 225.63 L149.5 225.44 L149.83 225.44 L150.16 225.71 L150.49 224.89 L150.82 225.48 L151.15 224.92 L151.48 225.11 L151.81 225.12 L152.14 224.83 L152.47 224.4 L152.8 224.57 L153.13 223.6 L153.46 223.72 L153.79 223.02 L154.12 222.5 L154.45 221.85 L154.78 220.29 L155.11 217.53 L155.44 212.6 L155.77 204.73 L156.1 193.17 L156.43 177.83 L156.76 162.95 L157.09 156.53 L157.1 155.76 L157.42 162.7 L157.75 176.99 L158.08 192.24 L158.41 204.21 L158.74 212.02 L159.07 217.16 L159.4 219.6 L159.73 221.4 L160.06 222.23 L160.39 223.44 L160.72 223.95 L161.05 223.89 L161.38 224.37 L161.71 224.87 L162.04 224.52 L162.37 224.47 L162.7 224.73 L163.03 224.8 L163.36 225.34 L163.69 225.14 L164.02 225.2 L164.35 225.66 L164.68 225.2 L165.01 225.77 L165.34 225.65 L165.67 225.48 L166 225.89 L166.33 225.48 L166.66 225.99 L166.99 226.06 L167.32 225.7 L167.65 225.88 L167.98 226.13 L168.31 225.96 L168.64 225.98 L168.97 226.1 L169.3 226.17 L169.63 226.01 L169.96 226.22 L170.29 225.61 L170.62 225.91 L170.95 225.96 L171.28 225.69 L171.61 225.72 L171.94 225.52 L172.27 226.23 L172.6 225.68 L172.93 225.79 L173.26 226.16 L173.59 225.52 L173.92 226.22 L174.25 225.46 L174.58 225.36 L174.91 225.65 L175.24 225.64 L175.57 226.13 L175.9 226.09 L176.23 225.96 L176.56 225.65 L176.89 225.72 L177.22 225.42 L177.55 225.92 L177.88 225.49 L178.21 225.35 L178.54 225.61 L178.87 225.11 L179.2 225.18 L179.53 225.63 L179.86 224.76 L180.19 224.65 L180.52 224.5 L180.85 224.26 L181.18 223.98 L181.51 223.13 L181.84 221.97 L182.17 219.71 L182.5 216.18 L182.83 211.5 L183.16 205.32 L183.49 200.49 L183.7 199.76 L183.82 199.48 L184.15 203.56 L184.48 210.1 L184.81 215.08 L185.14 219.31 L185.47 221.22 L185.8 223 L186.13 224.09 L186.46 224.1 L186.79 224.77 L187.12 224.82 L187.45 224.76 L187.78 225.4 L188.11 224.91 L188.44 225.02 L188.77 225.16 L189.1 224.88 L189.43 225.31 L189.76 225.03 L190.09 224.92 L190.42 224.73 L190.75 224.93 L191.08 224.62 L191.41 223.99 L191.74 222.78 L192.07 221.19 L192.4 218.61 L192.73 214.03 L193.06 208.52 L193.39 203.41 L193.72 199.04 L193.8 199.61 L194.05 200.9 L194.38 206.33 L194.71 211.54 L195.04 216.66 L195.37 220.48 L195.7 221.83 L196.03 223.1 L196.36 223.98 L196.69 224.23 L197.02 224.49 L197.35 225.15 L197.68 224.79 L198.01 225.7 L198.34 225.51 L198.67 225.05 L199 225.88 L199.33 225.35 L199.66 225.61 L199.99 225.72 L200.32 225.38 L200.65 225.73 L200.98 225.36 L201.31 225.51 L201.64 226.18 L201.97 226.11 L202.3 225.85 L202.63 226.01 L202.96 226.2 L203.29 225.55 L203.62 225.88 L203.95 225.56 L204.28 225.56 L204.61 225.56 L204.94 225.66 L205.27 225.52 L205.6 225.67 L205.93 225.83 L206.26 226.05 L206.59 226.27 L206.92 226.31 L207.25 226.15 L207.58 225.96 L207.91 226.33 L208.24 225.66 L208.57 225.61 L208.9 226.25 L209.23 226.08 L209.56 225.71 L209.89 225.86 L210.22 225.79 L210.55 225.92 L210.88 225.92 L211.21 225.89 L211.54 226.25 L211.87 226.26 L212.2 226.04 L212.53 225.96 L212.86 225.79 L213.19 226.23 L213.52 226.43 L213.85 225.75 L214.18 226.17 L214.51 226.17 L214.84 226.13 L215.17 225.57 L215.5 226.04 L215.83 225.72 L216.16 225.72 L216.49 226.06 L216.82 226.12 L217.15 226.11 L217.48 226.22 L217.81 226.18 L218.14 225.98 L218.47 225.59 L218.8 226.24 L219.13 226.29 L219.46 226.3 L219.79 226.08 L220.12 225.58 L220.45 225.72 L220.78 225.64 L221.11 226.11 L221.44 226.03 L221.77 225.71 L222.1 226.4 L222.43 226.42 L222.76 226.34 L223.09 225.95 L223.42 225.79 L223.75 225.72 L224.08 226.27 L224.41 226.15 L224.74 225.77 L225.07 226.33 L225.4 226.03 L225.73 225.89 L226.06 225.88 L226.39 226.16 L226.72 225.91 L227.05 226.09 L227.38 225.61 L227.71 226.13 L228.04 225.74 L228.37 226.31 L228.7 225.67 L229.03 225.78 L229.36 225.96 L229.69 225.82 L230.02 225.94 L230.35 226.29 L230.68 225.63 L231.01 226.14 L231.34 226.06 L231.67 226.14 L232 225.83 L232.33 225.82 L232.66 225.72 L232.99 225.82 L233.32 225.62 L233.65 225.55 L233.98 225.79 L234.31 225.53 L234.64 225.76 L234.97 225.84 L235.3 225.59 L235.63 225.45 L235.96 225.82 L236.29 226.03 L236.62 225.44 L236.95 225.77 L237.28 225.78 L237.61 225.96 L237.94 225.75 L238.27 225.38 L238.6 225.25 L238.93 225.78 L239.26 225.25 L239.59 224.94 L239.92 225.65 L240.25 224.97 L240.58 225 L240.91 224.92 L241.24 224.76 L241.57 225.07 L241.9 224.59 L242.23 224.51 L242.56 224.29 L242.89 224.41 L243.22 223.37 L243.55 223.48 L243.88 222.54 L244.21 221.77 L244.54 220.93 L244.87 218.55 L245.2 214.45 L245.53 208.63 L245.86 199.69 L246.19 188.01 L246.52 177.4 L246.8 173.99 L246.85 174.2 L247.18 179.61 L247.51 190.84 L247.84 202.19 L248.17 210.26 L248.5 214.8 L248.83 218.17 L249.16 219.79 L249.49 220.15 L249.82 220.37 L250.15 219.91 L250.48 218.87 L250.81 217.27 L251.14 214.08 L251.47 209.12 L251.8 199.59 L252.13 187.05 L252.46 171.45 L252.79 158.86 L253 156.54 L253.12 156.94 L253.45 167.39 L253.78 182.56 L254.11 196.19 L254.44 206.12 L254.77 212.37 L255.1 215.48 L255.43 215.42 L255.76 215.08 L256.09 212.39 L256.42 208.45 L256.75 205.58 L257.08 203.23 L257.2 203.24 L257.41 203.66 L257.74 207.25 L258.07 211.49 L258.4 215.71 L258.73 218.7 L259.06 221.06 L259.39 222.55 L259.72 223 L260.05 223.39 L260.38 224.16 L260.71 224.11 L261.04 224.32 L261.37 224.64 L261.7 224.96 L262.03 225.14 L262.36 225.27 L262.69 225.61 L263.02 224.92 L263.35 225.4 L263.68 225.02 L264.01 225.6 L264.34 225.43 L264.67 225.2 L265 225.39 L265.33 225.73 L265.66 225.59 L265.99 226.04 L266.32 225.53 L266.65 225.54 L266.98 226.08 L267.31 225.81 L267.64 225.38 L267.97 226.01 L268.3 225.64 L268.63 226.18 L268.96 225.91 L269.29 226.07 L269.62 226.16 L269.95 225.82 L270.28 226.24 L270.61 225.41 L270.94 225.7 L271.27 226.15 L271.6 225.41 L271.93 226.01 L272.26 226.31 L272.59 226.06 L272.92 226.2 L273.25 225.5 L273.58 225.92 L273.91 225.99 L274.24 225.83 L274.57 225.82 L274.9 226.16 L275.23 225.6 L275.56 225.49 L275.89 225.99 L276.22 226.33 L276.55 226.2 L276.88 226.07 L277.21 225.73 L277.54 226.28 L277.87 225.5 L278.2 225.69 L278.53 226.17 L278.86 226.27 L279.19 225.83 L279.52 226.28 L279.85 225.57 L280.18 226 L280.51 225.53 L280.84 225.67 L281.17 225.63 L281.5 225.46 L281.83 225.82 L282.16 225.9 L282.49 225.7 L282.82 226.03 L283.15 225.49 L283.48 225.9 L283.81 225.91 L284.14 225.79 L284.47 226.25 L284.8 225.54 L285.13 225.8 L285.46 225.82 L285.79 225.74 L286.12 226.27 L286.45 225.91 L286.78 225.85 L287.11 225.77 L287.44 225.76 L287.77 226.21 L288.1 226.07 L288.43 225.92 L288.76 225.47 L289.09 225.84 L289.42 225.41 L289.75 225.59 L290.08 225.28 L290.41 225.87 L290.74 226.09 L291.07 225.76 L291.4 225.67 L291.73 225.35 L292.06 225.48 L292.39 225.44 L292.72 225.35 L293.05 225.14 L293.38 225.01 L293.71 225.39 L294.04 225.45 L294.37 225.18 L294.7 224.83 L295.03 224.08 L295.36 224.08 L295.69 224.27 L296.02 224.05 L296.35 223.28 L296.68 222.86 L297.01 222.49 L297.34 221.57 L297.67 221.43 L298 220.55 L298.33 220.4 L298.66 219.49 L298.99 219.16 L299.32 218.62 L299.65 218.28 L299.98 218.02 L300.2 218.43 L300.31 218.26 L300.64 218.09 L300.97 218.45 L301.3 219.21 L301.63 219.57 L301.96 220.03 L302.29 220.88 L302.62 220.7 L302.95 221.7 L303.28 222.25 L303.61 222.6 L303.94 223.5 L304.27 223.91 L304.6 223.75 L304.93 224.26 L305.26 224.65 L305.59 224.81 L305.92 224.7 L306.25 225.25 L306.58 224.97 L306.91 224.91 L307.24 225.46 L307.57 225.52 L307.9 225.36 L308.23 225.49 L308.56 225.97 L308.89 225.84 L309.22 225.51 L309.55 225.99 L309.88 225.71 L310.21 225.58 L310.54 225.82 L310.87 225.96 L311.2 226.07 L311.53 225.88 L311.86 225.89 L312.19 225.66 L312.52 225.34 L312.85 225.73 L313.18 225.44 L313.51 226.19 L313.84 225.67 L314.17 225.89 L314.5 226.01 L314.83 225.52 L315.16 226.11 L315.49 225.65 L315.82 225.43 L316.15 225.9 L316.48 225.72 L316.81 226.19 L317.14 225.76 L317.47 225.45 L317.8 225.37 L318.13 225.38 L318.46 225.79 L318.79 225.99 L319.12 225.38 L319.45 225.63 L319.78 225.75 L320.11 226.12 L320.44 226.18 L320.77 226.08 L321.1 225.85 L321.43 225.78 L321.76 225.44 L322.09 225.77 L322.42 225.34 L322.75 225.44 L323.08 225.88 L323.41 225.6 L323.74 225.7 L324.07 225.41 L324.4 225.17 L324.73 225.29 L325.06 225.25 L325.39 224.82 L325.72 225.2 L326.05 225.09 L326.38 224.02 L326.71 223.5 L327.04 223 L327.37 221.16 L327.7 217.86 L328.03 214.12 L328.36 209 L328.69 205.62 L328.9 204.5 L329.02 204.71 L329.35 207.63 L329.68 212.62 L330.01 217 L330.34 220.06 L330.67 221.9 L331 223.07 L331.33 224.16 L331.66 224.72 L331.99 224.87 L332.32 224.81 L332.65 225.07 L332.98 224.54 L333.31 224.65 L333.64 225.11 L333.97 224.47 L334.3 224.52 L334.63 225.11 L334.96 224.53 L335.29 224.44 L335.62 224.52 L335.95 224.79 L336.28 223.88 L336.61 224.45 L336.94 223.66 L337.27 223.55 L337.6 223 L337.93 222.02 L338.26 221.75 L338.59 219.32 L338.92 216.81 L339.25 211.57 L339.58 202.82 L339.91 191.78 L340.24 178.22 L340.57 169.41 L340.7 168.8 L340.9 170.53 L341.23 181.45 L341.56 193.97 L341.89 205.08 L342.22 212.26 L342.55 216.75 L342.88 220.22 L343.21 221.11 L343.54 222.18 L343.87 222.48 L344.2 223.29 L344.53 223.46 L344.86 223.43 L345.19 223.42 L345.52 223.78 L345.85 224.23 L346.18 223.67 L346.51 223.71 L346.84 224 L347.17 223.91 L347.5 223.91 L347.83 223.56 L348.16 223.48 L348.49 222.5 L348.82 222.73 L349.15 221.3 L349.48 220.51 L349.81 219.16 L350.14 217.53 L350.47 213.33 L350.8 206.82 L351.13 195.83 L351.46 180.24 L351.79 161.81 L352.12 147.17 L352.3 144.83 L352.45 145.77 L352.78 156.78 L353.11 173.13 L353.44 186.62 L353.77 196.57 L354.1 203.71 L354.43 208.39 L354.76 212.15 L355.09 215.07 L355.42 217.02 L355.75 219.56 L356.08 221.31 L356.41 222.16 L356.74 222.78 L357.07 223.19 L357.4 223.39 L357.73 224.21 L358.06 224.75 L358.39 224.18 L358.72 224.97 L359.05 225.17 L359.38 224.8 L359.71 225.34 L360.04 224.81 L360.37 225.02 L360.7 225.33 L361.03 225.67 L361.36 225.41 L361.69 225.05 L362.02 225.85 L362.35 225.57 L362.68 225.79 L363.01 225.32 L363.34 225.44 L363.67 225.25 L364 225.36 L364.33 225.6 L364.66 225.6 L364.99 225.83 L365.32 226.01 L365.65 225.57 L365.98 226.12 L366.31 225.88 L366.64 225.61 L366.97 225.48 L367.3 226.18 L367.63 225.91 L367.96 225.36 L368.29 225.94 L368.62 225.67 L368.95 225.71 L369.28 226.02 L369.61 225.52 L369.94 225.56 L370.27 225.79 L370.6 226.11 L370.93 225.35 L371.26 226 L371.59 225.87 L371.92 225.35 L372.25 225.73 L372.58 225.63 L372.91 225.61 L373.24 225.3 L373.57 224.83 L373.9 224.52 L374.23 223.46 L374.56 222.36 L374.89 220.53 L375.22 218.18 L375.55 216.57 L375.8 216.18 L375.88 216.28 L376.21 217.61 L376.54 219.78 L376.87 221.34 L377.2 223.17 L377.53 224.04 L377.86 224.58 L378.19 224.87 L378.52 225.82 L378.85 225.92 L379.18 225.92 L379.51 225.39 L379.84 225.42 L380.17 225.42 L380.5 225.63 L380.83 225.77 L381.16 225.41 L381.49 225.81 L381.82 226.06 L382.15 226.21 L382.48 225.64 L382.81 225.48 L383.14 226.21 L383.47 225.84 L383.8 225.79 L384.13 225.65 L384.46 225.76 L384.79 225.77 L385.12 225.76 L385.45 225.75 L385.78 226.01 L386.11 226.28 L386.44 225.83 L386.77 225.93 L387.1 225.99 L387.43 226.32 L387.76 226.25 L388.09 226.45 L388.42 225.72 L388.75 226.29 L389.08 225.84 L389.41 226.1 L389.74 226.05 L390.07 226.1 L390.4 225.87 L390.73 225.65 L391.06 225.59 L391.39 226.42 L391.72 226.39 L392.05 226 L392.38 225.67 L392.71 226.35 L393.04 226.05 L393.37 226.02 L393.7 226.17 L394.03 225.74 L394.36 225.79 L394.69 226.33 L395.02 226.26 L395.35 226.48 L395.68 225.99 L396.01 226.47 L396.34 226.4 L396.67 226.06 L397 226.41 L397.33 225.75 L397.66 225.67 L397.99 226.34 L398.32 225.73 L398.65 226.07 L398.98 226.27 L399.31 226.22 L399.64 225.81 L399.97 226.32 L400.3 225.65 L400.63 226.12 L400.96 226.43 L401.29 226.11 L401.62 225.89 L401.95 226.52 L402.28 226.27 L402.61 226.33 L402.94 226.43 L403.27 226.46 L403.6 226.14 L403.93 226.36 L404.26 226.07 L404.59 225.85 L404.92 225.87 L405.25 225.86 L405.58 225.65 L405.91 226.18 L406.24 225.98 L406.57 226.44 L406.9 225.67 L407.23 226.33 L407.56 225.8 L407.89 225.92 L408.22 225.89 L408.55 226.49 L408.88 226.21 L409.21 226.05 L409.54 225.79 L409.87 225.67 L410.2 225.96 L410.53 226.5 L410.86 226.03 L411.19 226.23 L411.52 226.42 L411.85 225.67 L412.18 225.91 L412.51 226.01 L412.84 225.84 L413.17 225.98 L413.5 226.25 L413.83 225.76 L414.16 226.26 L414.49 225.91 L414.82 226.23 L415.15 225.79 L415.48 226.35 L415.81 226.01 L416.14 226.39 L416.47 226.51 L416.8 226.16 L417.13 225.66 L417.46 225.97 L417.79 226.51 L418.12 226.22 L418.45 226.32 L418.78 226.06 L419.11 226.48 L419.44 226.45 L419.77 226.19 L420.1 226.17 L420.43 225.73 L420.76 225.64 L421.09 225.82 L421.42 226.28 L421.75 226.4 L422.08 226.33 L422.41 226.43 L422.74 225.66 L423.07 225.66 L423.4 225.86 L423.73 225.65 L424.06 226.16 L424.39 226.47 L424.72 226.44 L425.05 225.73 L425.38 226.23 L425.71 226.23 L426.04 226.22 L426.37 226 L426.7 225.84 L427.03 226.43 L427.36 226.44 L427.69 226.27 L428.02 226.12 L428.35 225.66 L428.68 225.87 L429.01 225.84 L429.34 225.84 L429.67 225.82 L430 226.22 L430.33 226.23 L430.66 225.78 L430.99 226.43 L431.32 225.62 L431.65 226.48 L431.98 226.14 L432.31 226.2 L432.64 225.87 L432.97 226.24 L433.3 226.4 L433.63 225.8 L433.96 225.73 L434.29 226.32 L434.62 225.83 L434.95 225.7 L435.28 226.05 L435.61 225.77 L435.94 225.8 L436.27 225.86 L436.6 225.68 L436.93 226.34 L437.26 226.11 L437.59 226.18 L437.92 225.85 L438.25 226.29 L438.58 226.45 L438.91 226.48 L439.24 225.62 L439.57 225.86 L439.9 225.66 L440.23 226 L440.56 226.16 L440.89 226.11 L441.22 225.88 L441.55 226.42 L441.88 226.11 L442.21 226.44 L442.54 225.92 L442.87 226.11 L443.2 225.61 L443.53 226 L443.86 226.09 L444.19 225.71 L444.52 226.05 L444.85 225.59 L445.18 225.87 L445.51 225.99 L445.84 225.86 L446.17 225.54 L446.5 225.55 L446.83 225.69 L447.16 225.91 L447.49 225.68 L447.82 225.43 L448.15 225.5 L448.48 225.42 L448.81 225.19 L449.14 225.51 L449.47 225.3 L449.8 225.03 L450.13 224.56 L450.46 225.13 L450.79 223.97 L451.12 223.43 L451.45 222.54 L451.78 221.21 L452.11 218.51 L452.44 214.34 L452.77 209.01 L453.1 205.19 L453.4 202.8 L453.43 202.89 L453.76 205.2 L454.09 210.23 L454.42 215 L454.75 218.83 L455.08 221.74 L455.41 223.19 L455.74 224.13 L456.07 224.16 L456.4 225.17 L456.73 225.41 L457.06 225.5 L457.39 224.96 L457.72 225.63 L458.05 225.54 L458.38 225.62 L458.71 225.43 L459.04 225.93 L459.37 226 L459.7 226 L460.03 225.61 L460.36 226.03 L460.69 225.46 L461.02 226.02 L461.35 225.45 L461.68 225.44 L462.01 225.54 L462.34 226.04 L462.67 226.35 L463 225.89 L463.33 226.06 L463.66 226.01 L463.99 226.25 L464.32 226.37 L464.65 226.23 L464.98 225.8 L465.31 225.57 L465.64 226.31 L465.97 225.76 L466.3 226.19 L466.63 226.28 L466.96 225.65 L467.29 225.68 L467.62 225.88 L467.95 226.25 L468.28 226.26 L468.61 226.38 L468.94 225.72 L469.27 226.03 L469.6 226.24 L469.93 225.78 L470.26 225.95 L470.59 225.61 L470.92 226.15 L471.25 225.74 L471.58 225.74 L471.91 225.83 L472.24 225.44 L472.57 225.74 L472.9 225.2 L473.23 224.82 L473.56 224.58 L473.89 223.83 L474.22 223 L474.55 222.2 L474.88 221.29 L475.21 220.47 L475.3 220.65 L475.54 221.02 L475.87 220.97 L476.2 222.44 L476.53 223.25 L476.86 223.93 L477.19 224.28 L477.52 224.86 L477.85 225.56 L478.18 225.86 L478.51 226.06 L478.84 225.93 L479.17 226.09 L479.5 226.08 L479.83 225.51 L480.16 226.01 L480.49 226.19 L480.82 226.1 L481.15 225.68 L481.48 226.07 L481.81 225.8 L482.14 225.84 L482.47 226.12 L482.8 226.07 L483.13 225.58 L483.46 226.04 L483.79 225.52 L484.12 225.65 L484.45 226.2 L484.78 226.28 L485.11 225.68 L485.44 226.13 L485.77 225.6 L486.1 225.87 L486.43 225.73 L486.76 225.48 L487.09 225.77 L487.42 225.86 L487.75 226.11 L488.08 225.41 L488.41 225.54 L488.74 225.23 L489.07 225.35 L489.4 225.3 L489.73 225.64 L490.06 225.49 L490.39 224.42 L490.72 224.03 L491.05 223.22 L491.38 222.2 L491.71 221.69 L492.04 221.18 L492.1 220.34 L492.37 220.89 L492.7 221.74 L493.03 222.77 L493.36 223.48 L493.69 224.32 L494.02 223.98 L494.35 224.32 L494.68 224.36 L495.01 223.11 L495.34 222.04 L495.67 220.95 L496 218.78 L496.33 217.54 L496.66 216.38 L496.7 216.43 L496.99 217.08 L497.32 218.98 L497.65 220.62 L497.98 222.23 L498.31 223.48 L498.64 224.12 L498.97 225.17 L499.3 225.14 L499.63 225.35 L499.96 224.96 L500.29 225.19 L500.62 225.54 L500.95 225.9 L501.28 225.7 L501.61 225.12 L501.94 225.79 L502.27 225.25 L502.6 225.57 L502.93 225.18 L503.26 225.02 L503.59 225.6 L503.92 225.27 L504.25 225.28 L504.58 225.24 L504.91 224.97 L505.24 224.55 L505.57 224.04 L505.9 223.51 L506.23 222.03 L506.56 220.08 L506.89 217.74 L507.22 213.77 L507.55 210.65 L507.88 208.79 L507.9 208.58 L508.21 209.8 L508.54 212.06 L508.87 214.49 L509.2 217.19 L509.53 218.19 L509.86 218.84 L510 219.3 L510.19 219.34 L510.52 220.48 L510.85 221.88 L511.18 223.22 L511.51 223.56 L511.84 224.62 L512.17 225.21 L512.5 224.84 L512.83 224.8 L513.16 225.04 L513.49 225.57 L513.82 225.24 L514.15 225.95 L514.48 225.22 L514.81 225.97 L515.14 225.51 L515.47 226.04 L515.8 225.54 L516.13 225.34 L516.46 225.86 L516.79 225.53 L517.12 226.11 L517.45 226.01 L517.78 225.5 L518.11 225.71 L518.44 225.76 L518.77 225.95 L519.1 225.48 L519.43 225.74 L519.76 225.69 L520.09 225.74 L520.42 225.69 L520.75 225.56 L521.08 225.5 L521.41 225.49 L521.74 226 L522.07 225.55 L522.4 225.15 L522.73 225.37 L523.06 225.68 L523.39 225.56 L523.72 224.98 L524.05 225.24 L524.38 225.23 L524.71 225.54 L525.04 224.97 L525.37 225.51 L525.7 225.36 L526.03 224.6 L526.36 224.97 L526.69 224.94 L527.02 224.97 L527.35 225.14 L527.68 224.47 L528.01 224.97 L528.34 224.17 L528.67 224.85 L529 224.28 L529.33 224.01 L529.66 224.66 L529.99 224.74 L530.32 224.41 L530.65 224.47 L530.98 224.09 L531.31 223.91 L531.64 224.26 L531.97 224.36 L532.3 223.85 L532.63 223.94 L532.96 223.84 L533.29 223.84 L533.62 224.39 L533.95 223.63 L534.28 223.67 L534.61 223.85 L534.94 224.43 L535.27 224.27 L535.6 224.49 L535.93 224.49 L536.26 224.71 L536.59 224.5 L536.92 224.05 L537.25 224.18 L537.58 224.52 L537.91 224.32 L538.24 224.55 L538.57 224.58 L538.9 225.28 L539.23 225.32 L539.56 225.12 L539.89 224.95 L540.22 224.99 L540.55 224.74 L540.88 225.13 L541.21 224.9 L541.54 225.3 L541.87 225.6 L542.2 225.27 L542.53 225.58 L542.86 225.72 L543.19 225.84 L543.52 225.43 L543.85 225.29 L544.18 225.91 L544.51 225.58 L544.84 225.4 L545.17 225.79 L545.5 225.97 L545.83 226.1 L546.16 225.57 L546.49 225.48 L546.82 225.48 L547.15 225.53 L547.48 225.47 L547.81 226.1 L548.14 225.85 L548.47 225.33 L548.8 225.37 L549.13 225.45 L549.46 226.15 L549.79 225.58 L550.12 225.99 L550.45 225.45 L550.78 225.41 L551.11 226.06 L551.44 225.25 L551.77 225.6 L552.1 225.59 L552.43 225.37 L552.76 225.69 L553.09 225.7 L553.42 225.03 L553.75 224.94 L554.08 224.86 L554.41 224.45 L554.74 223.91 L555.07 222.97 L555.4 221 L555.73 219.48 L556.06 216.73 L556.39 214.35 L556.7 213.94 L556.72 214.04 L557.05 214.63 L557.38 217.28 L557.71 219.27 L558.04 221.15 L558.37 222.36 L558.7 223.12 L559.03 223.72 L559.36 224.16 L559.69 223.97 L560.02 223.39 L560.35 221.78 L560.68 220.97 L561.01 219.07 L561.34 217.23 L561.67 215.93 L561.8 216.13 L562 216.51 L562.33 217.6 L562.66 219.41 L562.99 221.36 L563.32 223.07 L563.65 224.01 L563.98 224.77 L564.31 224.75 L564.64 225.26 L564.97 225.09 L565.3 225.5 L565.63 225.07 L565.96 225.59 L566.29 225.81 L566.62 226.01 L566.95 225.66 L567.28 226.03 L567.61 225.45 L567.94 225.29 L568.27 225.79 L568.6 225.61 L568.93 225.66 L569.26 225.85 L569.59 225.99 L569.92 226.09 L570.25 225.6 L570.58 225.83 L570.91 225.86 L571.24 225.9 L571.57 225.79 L571.9 225.66 L572.23 225.95 L572.56 225.21 L572.89 225.87 L573.22 225.27 L573.55 225.23 L573.88 225.6 L574.21 225.33 L574.54 225.12 L574.87 224.75 L575.2 224.54 L575.53 224.45 L575.86 223.83 L576.19 223.58 L576.52 221.82 L576.85 219.97 L577.18 217.27 L577.51 214.29 L577.84 211.43 L578 210.23 L578.17 209.13 L578.5 208.47 L578.83 208.59 L579.16 208.45 L579.4 209.51 L579.49 209.56 L579.82 212.8 L580.15 215.93 L580.48 218.94 L580.81 221.18 L581.14 223.25 L581.47 223.98 L581.8 224.58 L582.13 225.17 L582.46 224.66 L582.79 225.28 L583.12 225.2 L583.45 225.21 L583.78 225.81 L584.11 225.34 L584.44 225.54 L584.77 225.6 L585.1 225.37 L585.43 225.55 L585.76 225.3 L586.09 225.76 L586.42 225.9 L586.75 226.24 L587.08 226.22 L587.41 225.66 L587.74 226.24 L588.07 225.47 L588.4 225.51 L588.73 225.85 L589.06 225.99 L589.39 225.9 L589.72 225.39 L590.05 225.72 L590.38 225.78 L590.71 225.67 L591.04 225.98 L591.37 225.94 L591.7 225.31 L592.03 225.61 L592.36 225.75 L592.69 225.76 L593.02 225.54 L593.35 225.63 L593.68 225.1 L594.01 224.25 L594.34 223.79 L594.67 222.31 L595 220.61 L595.33 218.67 L595.66 217.1 L595.99 216.31 L596 216.08 L596.32 217.05 L596.65 218.4 L596.98 220.63 L597.31 222.5 L597.64 223.46 L597.97 224 L598.3 225.24 L598.63 224.94 L598.96 225.14 L599.29 225.11 L599.62 225.54 L599.95 225.58 L600.28 226.01 L600.61 225.46 L600.94 225.68 L601.27 226.06 L601.6 225.41 L601.93 225.77 L602.26 225.55 L602.59 226.12 L602.92 225.7 L603.25 225.56 L603.58 225.54 L603.91 225.63 L604.24 226.07 L604.57 225.54 L604.9 225.47 L605.23 225.64 L605.56 225.45 L605.89 226.05 L606.22 226.05 L606.55 225.82 L606.88 225.61 L607.21 225.29 L607.54 225.82 L607.87 225.27 L608.2 225.34 L608.53 225.38 L608.86 224.15 L609.19 223.72 L609.52 222.4 L609.85 221.24 L610.18 220.06 L610.5 219.9 L610.51 219.73 L610.84 219.77 L611.17 221.58 L611.5 222.3 L611.83 223.49 L612.16 224.42 L612.49 225.07 L612.82 225.57 L613.15 225.2 L613.48 225.56 L613.81 225.85 L614.14 225.77 L614.47 225.61 L614.8 226.14 L615.13 226.31 L615.46 226.05 L615.79 225.97 L616.12 225.64 L616.45 225.94 L616.78 226.23 L617.11 225.82 L617.44 225.94 L617.77 225.95 L618.1 225.84 L618.43 226.12 L618.76 225.83 L619.09 226.4 L619.42 226.33 L619.75 225.86 L620.08 225.64 L620.41 225.61 L620.74 226.32 L621.07 225.97 L621.4 225.7 L621.73 225.64 L622.06 226.3 L622.39 225.79 L622.72 226.43 L623.05 225.93 L623.38 226.17 L623.71 225.92 L624.04 226.2 L624.37 225.74 L624.7 225.85 L625.03 225.72 L625.36 225.67 L625.69 226.12 L626.02 226.51 L626.35 225.62 L626.68 226.4 L627.01 225.87 L627.34 225.76 L627.67 225.64 L628 225.93 L628.33 225.69 L628.66 226.06 L628.99 226.03 L629.32 225.77 L629.65 226.41 L629.98 226.14 L630.31 226.3 L630.64 225.84 L630.97 226.27 L631.3 226.25 L631.63 226.32 L631.96 225.79 L632.29 226.47 L632.62 226.03 L632.95 225.69 L633.28 226.45 L633.61 225.9 L633.94 226.43 L634.27 225.81 L634.6 225.69 L634.93 226.08 L635.26 226.11 L635.59 226.23 L635.92 226.2 L636.25 225.94 L636.58 226.3 L636.91 226.08 L637.24 225.75 L637.57 226.14 L637.9 225.93 L638.23 226.11 L638.56 225.76 L638.89 225.85 L639.22 225.86 L639.55 226.22 L639.88 225.64 L640.21 225.99 L640.54 225.98 L640.87 226.4 L641.2 225.73 L641.53 226.08 L641.86 226.34 L642.19 225.98 L642.52 226.47 L642.85 225.84 L643.18 226.05 L643.51 225.88 L643.84 225.86 L644.17 225.67 L644.5 226.3 L644.83 226.19 L645.16 226.35 L645.49 226.03 L645.82 225.76 L646.15 226.19 L646.48 226.43 L646.81 226.09 L647.14 225.82 L647.47 226.05 L647.8 226.35 L648.13 226.31 L648.46 226.13 L648.79 226.23 L649.12 225.59 L649.45 225.68 L649.78 225.56 L650.11 225.95 L650.44 225.97 L650.77 225.54 L651.1 226.25 L651.43 225.99 L651.76 226.15 L652.09 226.34 L652.42 226.14 L652.75 226.11 L653.08 225.99 L653.41 225.86 L653.74 226.04 L654.07 226.01 L654.4 225.52 L654.73 225.91 L655.06 225.24 L655.39 225.46 L655.72 225.63 L656.05 224.7 L656.38 224.81 L656.71 223.62 L657.04 222.59 L657.37 220.31 L657.7 218.09 L658.03 216.13 L658.36 215.05 L658.5 215.16 L658.69 215.15 L659.02 216.67 L659.35 218.72 L659.68 220.92 L660.01 222.79 L660.34 224.11 L660.67 224.4 L661 225.16 L661.33 225.14 L661.66 225.22 L661.99 225.15 L662.32 225.55 L662.65 225.79 L662.98 225.75 L663.31 225.73 L663.64 226.05 L663.97 225.8 L664.3 226.03 L664.63 225.93 L664.96 226.29 L665.29 225.75 L665.62 225.86 L665.95 226.16 L666.28 225.74 L666.61 226.19 L666.94 225.77 L667.27 225.62 L667.6 225.97 L667.93 225.98 L668.26 225.75 L668.59 225.72 L668.92 226.36 L669.25 225.91 L669.58 226.08 L669.91 225.81 L670.24 225.91 L670.57 225.65 L670.9 225.52 L671.23 226.09 L671.56 225.92 L671.89 225.53 L672.22 225.56 L672.55 225.62 L672.88 225.06 L673.21 225.39 L673.54 225.46 L673.87 224.7 L674.2 223.66 L674.53 221.96 L674.86 220.31 L675.19 217.81 L675.52 215.43 L675.85 214.28 L675.9 213.7 L676.18 214.32 L676.51 217.37 L676.84 219.58 L677.17 222.11 L677.5 223.43" fill="none" stroke="#6aae3a" stroke-width="1.6" stroke-linejoin="round" stroke-linecap="round" />
<path d="M24.1 331.86 L24.43 332.14 L24.76 331.98 L25.09 332.19 L25.42 332.21 L25.75 331.71 L26.08 331.66 L26.41 332.4 L26.74 331.88 L27.07 331.86 L27.4 332.55 L27.73 332.07 L28.06 332.4 L28.39 332.08 L28.72 332.23 L29.05 331.79 L29.38 332.22 L29.71 332.43 L30.04 332.12 L30.37 332.32 L30.7 332.25 L31.03 331.71 L31.36 332.33 L31.69 332.18 L32.02 331.92 L32.35 331.68 L32.68 332.43 L33.01 332.08 L33.34 332.3 L33.67 332.44 L34 332.29 L34.33 332.48 L34.66 332.01 L34.99 332.37 L35.32 332.05 L35.65 332.49 L35.98 332.44 L36.31 331.74 L36.64 331.77 L36.97 331.85 L37.3 332.52 L37.63 332.04 L37.96 332.21 L38.29 331.92 L38.62 332.11 L38.95 332 L39.28 331.97 L39.61 332.18 L39.94 332.18 L40.27 332.46 L40.6 332.26 L40.93 332.49 L41.26 332.42 L41.59 332.54 L41.92 332.25 L42.25 331.8 L42.58 332.42 L42.91 332.52 L43.24 332.46 L43.57 332.16 L43.9 332.29 L44.23 331.84 L44.56 332.4 L44.89 332.17 L45.22 331.91 L45.55 331.71 L45.88 332.42 L46.21 332.54 L46.54 331.73 L46.87 332.37 L47.2 332.02 L47.53 331.79 L47.86 331.91 L48.19 332.34 L48.52 332.44 L48.85 331.69 L49.18 332.2 L49.51 331.69 L49.84 332.3 L50.17 331.95 L50.5 332.44 L50.83 332.53 L51.16 332.1 L51.49 332.55 L51.82 331.93 L52.15 331.72 L52.48 332.19 L52.81 331.68 L53.14 331.83 L53.47 332.02 L53.8 332.2 L54.13 331.79 L54.46 331.69 L54.79 332.43 L55.12 331.93 L55.45 332.51 L55.78 332.46 L56.11 331.99 L56.44 332.06 L56.77 332.12 L57.1 332.23 L57.43 332.19 L57.76 332.15 L58.09 332.21 L58.42 332.5 L58.75 332.11 L59.08 332.04 L59.41 332.3 L59.74 331.86 L60.07 331.92 L60.4 332.53 L60.73 332.12 L61.06 332.14 L61.39 331.66 L61.72 332.02 L62.05 332.17 L62.38 331.67 L62.71 332.2 L63.04 332.22 L63.37 331.7 L63.7 332.21 L64.03 332.07 L64.36 332.26 L64.69 331.97 L65.02 332.29 L65.35 332.31 L65.68 331.67 L66.01 331.7 L66.34 332.26 L66.67 332.52 L67 331.88 L67.33 332.06 L67.66 332.18 L67.99 331.94 L68.32 331.98 L68.65 331.93 L68.98 331.98 L69.31 332.19 L69.64 331.92 L69.97 331.99 L70.3 332.34 L70.63 331.67 L70.96 332.16 L71.29 332.31 L71.62 331.93 L71.95 331.85 L72.28 332.37 L72.61 331.86 L72.94 331.82 L73.27 332.04 L73.6 332.27 L73.93 331.74 L74.26 331.94 L74.59 331.95 L74.92 332.4 L75.25 332.04 L75.58 332.42 L75.91 331.8 L76.24 331.95 L76.57 332.23 L76.9 332.44 L77.23 332.05 L77.56 331.85 L77.89 331.75 L78.22 332.12 L78.55 331.82 L78.88 332.37 L79.21 332.4 L79.54 331.81 L79.87 331.9 L80.2 332.37 L80.53 332.22 L80.86 332.37 L81.19 331.96 L81.52 331.76 L81.85 331.91 L82.18 332.36 L82.51 331.89 L82.84 331.96 L83.17 332.02 L83.5 332.02 L83.83 332.01 L84.16 332.47 L84.49 331.78 L84.82 331.65 L85.15 332.49 L85.48 332.44 L85.81 332.53 L86.14 332.03 L86.47 332.5 L86.8 332.48 L87.13 331.84 L87.46 332.31 L87.79 332.4 L88.12 332.24 L88.45 332.11 L88.78 331.9 L89.11 331.95 L89.44 331.85 L89.77 331.7 L90.1 332.17 L90.43 331.9 L90.76 332.37 L91.09 331.68 L91.42 332.46 L91.75 332.27 L92.08 332.47 L92.41 332.45 L92.74 332.45 L93.07 332.16 L93.4 331.65 L93.73 332.31 L94.06 331.8 L94.39 331.91 L94.72 332.24 L95.05 332.11 L95.38 332.01 L95.71 332.48 L96.04 332.19 L96.37 331.95 L96.7 331.87 L97.03 332.41 L97.36 332.06 L97.69 332.34 L98.02 331.95 L98.35 331.81 L98.68 332.11 L99.01 332.37 L99.34 331.78 L99.67 332.34 L100 332.46 L100.33 332.35 L100.66 332.37 L100.99 331.64 L101.32 332.19 L101.65 332.4 L101.98 331.67 L102.31 331.87 L102.64 331.87 L102.97 332.1 L103.3 332 L103.63 332.05 L103.96 332.32 L104.29 331.62 L104.62 331.67 L104.95 331.73 L105.28 331.73 L105.61 331.68 L105.94 332.49 L106.27 332.38 L106.6 331.69 L106.93 332.06 L107.26 331.9 L107.59 331.89 L107.92 331.92 L108.25 332.19 L108.58 332.13 L108.91 331.92 L109.24 331.77 L109.57 331.89 L109.9 331.7 L110.23 332.08 L110.56 332.22 L110.89 331.91 L111.22 331.63 L111.55 331.71 L111.88 331.87 L112.21 332.06 L112.54 332.19 L112.87 331.78 L113.2 332.07 L113.53 331.74 L113.86 331.28 L114.19 330.82 L114.52 330.45 L114.85 330.28 L115.18 330.05 L115.51 330.67 L115.84 330.93 L116.17 331.13 L116.5 331.67 L116.83 331.97 L117.16 331.49 L117.49 331.85 L117.82 331.87 L118.15 332.3 L118.48 332.36 L118.81 331.86 L119.14 332.34 L119.47 332.24 L119.8 331.77 L120.13 331.95 L120.46 331.64 L120.79 332.26 L121.12 332.12 L121.45 332.32 L121.78 332.23 L122.11 332.11 L122.44 332.17 L122.77 332.01 L123.1 331.59 L123.43 332.01 L123.76 331.47 L124.09 331.59 L124.42 332.14 L124.75 331.47 L125.08 331.49 L125.41 331.47 L125.74 332.15 L126.07 331.48 L126.4 331.29 L126.73 331.97 L127.06 331.25 L127.39 331.81 L127.72 331.55 L128.05 331.56 L128.38 331.5 L128.71 330.97 L129.04 330.94 L129.37 330 L129.7 330.38 L130.03 329.86 L130.36 329.73 L130.69 328.89 L131.02 329.2 L131.35 329.14 L131.68 328.21 L132.01 328.4 L132.34 328.67 L132.67 329.06 L133 328.75 L133.33 328.97 L133.66 329.33 L133.99 329.96 L134.32 330.38 L134.65 330.33 L134.98 330.55 L135.31 330.8 L135.64 330.95 L135.97 331.17 L136.3 331 L136.63 331.48 L136.96 332 L137.29 331.56 L137.62 331.92 L137.95 331.43 L138.28 331.94 L138.61 332.03 L138.94 331.98 L139.27 331.85 L139.6 331.84 L139.93 331.99 L140.26 332.23 L140.59 331.56 L140.92 331.52 L141.25 332.11 L141.58 332.27 L141.91 331.91 L142.24 331.85 L142.57 332.1 L142.9 331.62 L143.23 331.69 L143.56 331.63 L143.89 331.98 L144.22 331.73 L144.55 331.65 L144.88 332.06 L145.21 332.29 L145.54 331.7 L145.87 332.06 L146.2 331.79 L146.53 332.18 L146.86 331.93 L147.19 331.63 L147.52 331.57 L147.85 331.38 L148.18 331.78 L148.51 331.67 L148.84 331.46 L149.17 331.61 L149.5 331.55 L149.83 331.93 L150.16 331.33 L150.49 332.05 L150.82 331.54 L151.15 331.6 L151.48 331.42 L151.81 331.67 L152.14 331.57 L152.47 331.22 L152.8 331.02 L153.13 331.07 L153.46 330.99 L153.79 330.3 L154.12 330.24 L154.45 329.91 L154.78 328.62 L155.11 326.92 L155.44 324.31 L155.77 320.33 L156.1 313.64 L156.43 305.34 L156.76 296.81 L157.09 292.28 L157.1 292.23 L157.42 295.86 L157.75 304.1 L158.08 313.19 L158.41 320.12 L158.74 324.69 L159.07 326.82 L159.4 328.9 L159.73 329.28 L160.06 329.93 L160.39 330.58 L160.72 330.27 L161.05 330.49 L161.38 331.33 L161.71 330.97 L162.04 331.14 L162.37 331.43 L162.7 331.59 L163.03 331.05 L163.36 331.4 L163.69 331.54 L164.02 331.62 L164.35 331.41 L164.68 331.77 L165.01 332.13 L165.34 331.65 L165.67 331.8 L166 331.44 L166.33 331.59 L166.66 331.96 L166.99 331.47 L167.32 332.18 L167.65 332.21 L167.98 331.48 L168.31 332.25 L168.64 331.75 L168.97 332.11 L169.3 332.1 L169.63 331.69 L169.96 332.03 L170.29 332.01 L170.62 332.15 L170.95 331.66 L171.28 332.1 L171.61 332.28 L171.94 332.02 L172.27 331.89 L172.6 331.51 L172.93 331.85 L173.26 331.71 L173.59 332.03 L173.92 331.99 L174.25 331.88 L174.58 331.52 L174.91 331.92 L175.24 331.89 L175.57 331.47 L175.9 332.09 L176.23 331.85 L176.56 331.35 L176.89 332.04 L177.22 331.3 L177.55 331.43 L177.88 331.73 L178.21 331.56 L178.54 331.45 L178.87 331.45 L179.2 331.17 L179.53 330.91 L179.86 330.63 L180.19 330.33 L180.52 330.65 L180.85 330.31 L181.18 329.57 L181.51 328.83 L181.84 326.86 L182.17 323.93 L182.5 319.43 L182.83 313.3 L183.16 304.78 L183.49 298.83 L183.7 297.19 L183.82 298.13 L184.15 303.01 L184.48 310.73 L184.81 317.81 L185.14 323.08 L185.47 326.56 L185.8 328.07 L186.13 329.58 L186.46 329.53 L186.79 330.06 L187.12 330.18 L187.45 330.39 L187.78 331.14 L188.11 331.21 L188.44 330.8 L188.77 330.87 L189.1 331.11 L189.43 331.42 L189.76 331.48 L190.09 331.39 L190.42 331.19 L190.75 330.7 L191.08 330.77 L191.41 330.33 L191.74 330.17 L192.07 329.37 L192.4 327.59 L192.73 325.38 L193.06 322.82 L193.39 318.93 L193.72 317.67 L193.8 317.67 L194.05 318.55 L194.38 320.9 L194.71 324.32 L195.04 327.03 L195.37 328.92 L195.7 330.36 L196.03 330.75 L196.36 330.77 L196.69 331.5 L197.02 331.31 L197.35 331.53 L197.68 331.73 L198.01 331.15 L198.34 331.89 L198.67 331.84 L199 331.73 L199.33 331.79 L199.66 331.76 L199.99 331.54 L200.32 331.86 L200.65 331.44 L200.98 331.87 L201.31 332.01 L201.64 331.84 L201.97 331.96 L202.3 332.33 L202.63 332.28 L202.96 331.6 L203.29 332.2 L203.62 332.06 L203.95 331.55 L204.28 331.83 L204.61 331.72 L204.94 331.58 L205.27 332 L205.6 332.36 L205.93 331.82 L206.26 332.31 L206.59 332.16 L206.92 331.66 L207.25 332.31 L207.58 332.08 L207.91 332.38 L208.24 332.19 L208.57 332.21 L208.9 331.86 L209.23 332.27 L209.56 332.39 L209.89 332.33 L210.22 331.95 L210.55 332.23 L210.88 331.99 L211.21 331.65 L211.54 331.59 L211.87 331.63 L212.2 331.74 L212.53 331.7 L212.86 332.01 L213.19 332.19 L213.52 332.04 L213.85 331.94 L214.18 332.14 L214.51 331.83 L214.84 331.98 L215.17 332.24 L215.5 331.92 L215.83 331.72 L216.16 332.37 L216.49 332.21 L216.82 331.89 L217.15 331.9 L217.48 332.04 L217.81 332.1 L218.14 331.76 L218.47 331.56 L218.8 331.75 L219.13 332.26 L219.46 331.69 L219.79 331.97 L220.12 331.73 L220.45 331.74 L220.78 331.71 L221.11 331.91 L221.44 331.7 L221.77 331.57 L222.1 331.65 L222.43 331.7 L222.76 331.98 L223.09 331.6 L223.42 331.56 L223.75 331.94 L224.08 331.9 L224.41 332.17 L224.74 331.58 L225.07 331.89 L225.4 331.88 L225.73 331.55 L226.06 332.39 L226.39 331.71 L226.72 331.6 L227.05 331.94 L227.38 331.65 L227.71 332.06 L228.04 331.81 L228.37 331.6 L228.7 331.54 L229.03 332.14 L229.36 331.73 L229.69 332.18 L230.02 331.89 L230.35 332.3 L230.68 331.73 L231.01 331.67 L231.34 331.68 L231.67 332.17 L232 331.99 L232.33 331.73 L232.66 331.49 L232.99 332.01 L233.32 332.26 L233.65 331.91 L233.98 331.37 L234.31 331.38 L234.64 331.42 L234.97 331.47 L235.3 331.34 L235.63 331.33 L235.96 331.85 L236.29 332.05 L236.62 331.4 L236.95 332.07 L237.28 331.59 L237.61 331.86 L237.94 331.92 L238.27 331.91 L238.6 331.05 L238.93 331.24 L239.26 331.46 L239.59 331.7 L239.92 330.86 L240.25 330.95 L240.58 331.36 L240.91 330.59 L241.24 330.7 L241.57 330.5 L241.9 330.63 L242.23 330.63 L242.56 329.67 L242.89 329.84 L243.22 329.39 L243.55 328.9 L243.88 327.82 L244.21 326.86 L244.54 324.16 L244.87 320.31 L245.2 313.5 L245.53 303.72 L245.86 289.7 L246.19 274.93 L246.52 265.93 L246.6 266.02 L246.85 269.6 L247.18 282.45 L247.51 296.75 L247.84 308.81 L248.17 316.71 L248.5 322.15 L248.83 324.26 L249.16 326.1 L249.49 327.12 L249.82 327.4 L250.15 326.94 L250.48 326.8 L250.81 326.58 L251.14 324.79 L251.47 321.98 L251.8 316.93 L252.13 309.28 L252.46 301.04 L252.79 293.8 L253 291.87 L253.12 292.42 L253.45 298.01 L253.78 306.91 L254.11 315.16 L254.44 319.92 L254.77 323.59 L255.1 324.56 L255.43 324.49 L255.76 323.79 L256.09 321.21 L256.42 318.13 L256.75 315.29 L257.08 313.95 L257.2 313.8 L257.41 313.9 L257.74 316.68 L258.07 320.77 L258.4 323.33 L258.73 326.21 L259.06 327.91 L259.39 329.41 L259.72 329.98 L260.05 330.59 L260.38 330.66 L260.71 330.55 L261.04 330.69 L261.37 330.72 L261.7 331.5 L262.03 330.94 L262.36 330.93 L262.69 331.84 L263.02 331.2 L263.35 331.87 L263.68 331.18 L264.01 331.56 L264.34 331.37 L264.67 331.95 L265 331.78 L265.33 331.83 L265.66 331.96 L265.99 332.07 L266.32 331.62 L266.65 331.86 L266.98 331.74 L267.31 331.45 L267.64 332.11 L267.97 331.91 L268.3 332.12 L268.63 331.58 L268.96 331.88 L269.29 331.82 L269.62 332.07 L269.95 331.49 L270.28 331.74 L270.61 331.87 L270.94 331.5 L271.27 331.94 L271.6 332.11 L271.93 331.83 L272.26 332.04 L272.59 332.01 L272.92 331.66 L273.25 331.78 L273.58 332.37 L273.91 331.78 L274.24 331.86 L274.57 331.55 L274.9 331.68 L275.23 331.63 L275.56 332.32 L275.89 332.14 L276.22 332.27 L276.55 332.38 L276.88 332.04 L277.21 332.33 L277.54 331.97 L277.87 331.87 L278.2 332.34 L278.53 332.3 L278.86 332.34 L279.19 331.93 L279.52 332.19 L279.85 331.85 L280.18 332.38 L280.51 332.31 L280.84 331.74 L281.17 332.31 L281.5 331.64 L281.83 331.55 L282.16 332.12 L282.49 331.73 L282.82 331.93 L283.15 332.03 L283.48 331.49 L283.81 332.12 L284.14 331.69 L284.47 331.83 L284.8 331.75 L285.13 332.1 L285.46 332.1 L285.79 331.68 L286.12 331.51 L286.45 331.68 L286.78 331.77 L287.11 331.46 L287.44 331.52 L287.77 332.06 L288.1 331.99 L288.43 332.23 L288.76 332.22 L289.09 332.11 L289.42 331.64 L289.75 331.44 L290.08 331.55 L290.41 331.67 L290.74 331.7 L291.07 331.69 L291.4 331.5 L291.73 331.91 L292.06 331.36 L292.39 331.46 L292.72 331.79 L293.05 331.65 L293.38 331.11 L293.71 330.97 L294.04 331.35 L294.37 330.49 L294.7 330.43 L295.03 330.58 L295.36 330.34 L295.69 329.72 L296.02 329.29 L296.35 329.05 L296.68 329.13 L297.01 328.39 L297.34 328.34 L297.67 327.63 L298 327.24 L298.33 325.83 L298.66 325.41 L298.99 324.76 L299.32 324.71 L299.65 324.3 L299.98 323.86 L300.2 324.27 L300.31 323.87 L300.64 324.2 L300.97 324.42 L301.3 325.31 L301.63 325.45 L301.96 325.84 L302.29 326.21 L302.62 327.12 L302.95 327.84 L303.28 328.41 L303.61 329.1 L303.94 329.45 L304.27 329.34 L304.6 329.58 L304.93 330.44 L305.26 330.73 L305.59 330.69 L305.92 331.16 L306.25 331.06 L306.58 330.94 L306.91 330.96 L307.24 330.91 L307.57 331.54 L307.9 331.83 L308.23 331.88 L308.56 331.53 L308.89 331.74 L309.22 332.01 L309.55 331.93 L309.88 331.76 L310.21 331.61 L310.54 331.72 L310.87 331.43 L311.2 331.45 L311.53 331.91 L311.86 332.2 L312.19 331.81 L312.52 331.7 L312.85 331.65 L313.18 331.76 L313.51 332.08 L313.84 331.77 L314.17 332.23 L314.5 331.51 L314.83 331.66 L315.16 331.85 L315.49 331.75 L315.82 332.15 L316.15 332.13 L316.48 332.22 L316.81 331.93 L317.14 331.41 L317.47 331.9 L317.8 331.88 L318.13 331.82 L318.46 331.63 L318.79 332.01 L319.12 332.19 L319.45 331.46 L319.78 331.96 L320.11 331.69 L320.44 331.81 L320.77 332.14 L321.1 332.19 L321.43 331.89 L321.76 331.47 L322.09 332.11 L322.42 331.42 L322.75 331.58 L323.08 331.96 L323.41 331.47 L323.74 331.39 L324.07 331.96 L324.4 331.9 L324.73 331.27 L325.06 331.26 L325.39 331.06 L325.72 330.78 L326.05 330.68 L326.38 331 L326.71 329.6 L327.04 328.71 L327.37 327 L327.7 324.47 L328.03 321.95 L328.36 319.63 L328.6 319.02 L328.69 318.93 L329.02 320.89 L329.35 323.04 L329.68 325.96 L330.01 328.56 L330.34 329.02 L330.67 329.93 L331 330.52 L331.33 330.54 L331.66 330.92 L331.99 330.54 L332.32 330.75 L332.65 331.42 L332.98 330.68 L333.31 331.35 L333.64 330.65 L333.97 331.34 L334.3 330.98 L334.63 330.87 L334.96 330.3 L335.29 330.09 L335.62 330.56 L335.95 329.83 L336.28 329.6 L336.61 329.86 L336.94 329.51 L337.27 328.26 L337.6 328.41 L337.93 327.08 L338.26 325.49 L338.59 322.76 L338.92 318.62 L339.25 311.56 L339.58 298.94 L339.91 282.36 L340.24 264.11 L340.57 251.38 L340.7 250.28 L340.9 253.79 L341.23 267.76 L341.56 286.15 L341.89 302.41 L342.22 313.43 L342.55 320.2 L342.88 323.41 L343.21 325.69 L343.54 327.52 L343.87 327.95 L344.2 328.75 L344.53 328.85 L344.86 328.92 L345.19 329.47 L345.52 330.03 L345.85 330.2 L346.18 330.11 L346.51 330.08 L346.84 330.18 L347.17 330.09 L347.5 330.13 L347.83 330.32 L348.16 329.63 L348.49 329.8 L348.82 329.85 L349.15 329.43 L349.48 328.32 L349.81 328.24 L350.14 326.8 L350.47 323.83 L350.8 319.79 L351.13 313.1 L351.46 303.61 L351.79 293.53 L352.12 284.31 L352.3 282.95 L352.45 282.9 L352.78 289.58 L353.11 299.82 L353.44 307.98 L353.77 314 L354.1 317.62 L354.43 320.3 L354.76 322.84 L355.09 324.21 L355.42 326.28 L355.75 327.53 L356.08 328.29 L356.41 329.45 L356.74 329.74 L357.07 330.28 L357.4 330.44 L357.73 330.59 L358.06 330.78 L358.39 331.12 L358.72 331.57 L359.05 331.62 L359.38 331.62 L359.71 331.66 L360.04 331.23 L360.37 331.91 L360.7 331.31 L361.03 331.22 L361.36 331.59 L361.69 331.83 L362.02 331.51 L362.35 331.81 L362.68 331.5 L363.01 332.14 L363.34 331.69 L363.67 331.73 L364 331.8 L364.33 332.12 L364.66 332.23 L364.99 331.83 L365.32 331.76 L365.65 331.93 L365.98 331.44 L366.31 331.77 L366.64 332.16 L366.97 332.1 L367.3 331.46 L367.63 332.18 L367.96 331.76 L368.29 332.3 L368.62 331.74 L368.95 331.61 L369.28 331.9 L369.61 332.2 L369.94 331.79 L370.27 332.17 L370.6 332.02 L370.93 331.69 L371.26 331.62 L371.59 331.77 L371.92 331.64 L372.25 331.57 L372.58 331.75 L372.91 331.82 L373.24 331.34 L373.57 330.55 L373.9 329.96 L374.23 329.13 L374.56 328.12 L374.89 326.45 L375.22 325.67 L375.3 325.86 L375.55 326.13 L375.88 326.97 L376.21 328.72 L376.54 330.18 L376.87 330.64 L377.2 331.34 L377.53 331.72 L377.86 331.9 L378.19 332.07 L378.52 331.71 L378.85 331.97 L379.18 331.5 L379.51 332.21 L379.84 331.78 L380.17 331.89 L380.5 332.28 L380.83 331.75 L381.16 331.67 L381.49 332.25 L381.82 332.06 L382.15 331.6 L382.48 331.56 L382.81 331.86 L383.14 331.55 L383.47 332.3 L383.8 331.72 L384.13 331.81 L384.46 331.91 L384.79 332.03 L385.12 331.96 L385.45 332.14 L385.78 332.17 L386.11 331.97 L386.44 331.67 L386.77 332.46 L387.1 332.21 L387.43 331.66 L387.76 331.98 L388.09 332.27 L388.42 332.48 L388.75 331.65 L389.08 331.6 L389.41 332.03 L389.74 331.98 L390.07 332.4 L390.4 332.34 L390.73 331.9 L391.06 331.98 L391.39 332.13 L391.72 332.4 L392.05 331.79 L392.38 331.96 L392.71 331.69 L393.04 332.18 L393.37 331.63 L393.7 332.45 L394.03 332.08 L394.36 332.12 L394.69 331.69 L395.02 331.82 L395.35 332.03 L395.68 332.38 L396.01 332.1 L396.34 331.87 L396.67 332.5 L397 332.21 L397.33 332.09 L397.66 331.8 L397.99 331.88 L398.32 332.42 L398.65 331.74 L398.98 332.09 L399.31 332.17 L399.64 331.94 L399.97 332.31 L400.3 332.44 L400.63 332.39 L400.96 332.29 L401.29 331.81 L401.62 331.68 L401.95 332.02 L402.28 331.91 L402.61 331.81 L402.94 332.41 L403.27 331.83 L403.6 332.37 L403.93 332.48 L404.26 331.74 L404.59 332.45 L404.92 331.99 L405.25 331.82 L405.58 331.8 L405.91 331.67 L406.24 332.08 L406.57 331.98 L406.9 332.4 L407.23 332.38 L407.56 331.68 L407.89 331.99 L408.22 331.98 L408.55 331.79 L408.88 331.86 L409.21 331.87 L409.54 332.26 L409.87 331.94 L410.2 331.73 L410.53 331.83 L410.86 332.03 L411.19 332.14 L411.52 331.85 L411.85 332.26 L412.18 331.83 L412.51 332.24 L412.84 332.19 L413.17 331.8 L413.5 332.32 L413.83 332 L414.16 332.13 L414.49 332.18 L414.82 332.21 L415.15 332.04 L415.48 331.69 L415.81 332.35 L416.14 332.41 L416.47 332.08 L416.8 332.16 L417.13 331.88 L417.46 332.45 L417.79 332.26 L418.12 331.84 L418.45 332.38 L418.78 332.53 L419.11 331.95 L419.44 332.54 L419.77 332.07 L420.1 331.8 L420.43 332.28 L420.76 331.94 L421.09 332.3 L421.42 332.16 L421.75 331.74 L422.08 332.11 L422.41 332.4 L422.74 332.07 L423.07 332.12 L423.4 332.41 L423.73 332.04 L424.06 332.08 L424.39 332.16 L424.72 332.38 L425.05 331.82 L425.38 331.72 L425.71 332.32 L426.04 332.13 L426.37 331.91 L426.7 332.44 L427.03 332.43 L427.36 332.12 L427.69 332.52 L428.02 332.39 L428.35 332.31 L428.68 331.89 L429.01 331.64 L429.34 332.24 L429.67 332.29 L430 331.95 L430.33 332.06 L430.66 332.14 L430.99 331.85 L431.32 332.26 L431.65 332.13 L431.98 331.97 L432.31 331.72 L432.64 332.12 L432.97 331.91 L433.3 332.28 L433.63 331.78 L433.96 331.98 L434.29 331.8 L434.62 331.99 L434.95 332.14 L435.28 331.71 L435.61 331.67 L435.94 332.05 L436.27 331.79 L436.6 332.07 L436.93 331.76 L437.26 331.7 L437.59 332.09 L437.92 332.44 L438.25 332.39 L438.58 332.07 L438.91 331.96 L439.24 331.66 L439.57 331.84 L439.9 331.88 L440.23 332.44 L440.56 331.69 L440.89 332.44 L441.22 332.01 L441.55 331.97 L441.88 331.81 L442.21 332.44 L442.54 331.73 L442.87 332.07 L443.2 332.01 L443.53 331.73 L443.86 331.74 L444.19 332.42 L444.52 332.24 L444.85 332.17 L445.18 332.32 L445.51 331.58 L445.84 332.11 L446.17 332.14 L446.5 331.65 L446.83 331.84 L447.16 332.28 L447.49 331.67 L447.82 332.03 L448.15 331.45 L448.48 331.86 L448.81 331.45 L449.14 331.6 L449.47 331.39 L449.8 331.74 L450.13 331.48 L450.46 331.08 L450.79 330.96 L451.12 330.26 L451.45 329.8 L451.78 327.95 L452.11 326.04 L452.44 323.02 L452.77 319.14 L453.1 315.48 L453.4 314.33 L453.43 314.76 L453.76 316.14 L454.09 320.16 L454.42 323.56 L454.75 326.87 L455.08 328.78 L455.41 329.91 L455.74 330.31 L456.07 330.44 L456.4 331.16 L456.73 331.51 L457.06 331.8 L457.39 331.25 L457.72 331.29 L458.05 332.09 L458.38 331.93 L458.71 331.74 L459.04 332.01 L459.37 331.51 L459.7 331.89 L460.03 332.02 L460.36 331.98 L460.69 331.6 L461.02 331.59 L461.35 332.04 L461.68 332.29 L462.01 331.63 L462.34 331.52 L462.67 331.59 L463 332.23 L463.33 331.88 L463.66 331.94 L463.99 332.43 L464.32 332.09 L464.65 331.78 L464.98 332.18 L465.31 331.55 L465.64 331.81 L465.97 332.18 L466.3 331.71 L466.63 331.59 L466.96 332.02 L467.29 331.85 L467.62 332.43 L467.95 331.65 L468.28 332.28 L468.61 331.9 L468.94 332.27 L469.27 331.95 L469.6 332.14 L469.93 331.83 L470.26 331.73 L470.59 331.93 L470.92 332.23 L471.25 331.81 L471.58 331.68 L471.91 331.82 L472.24 331.5 L472.57 331.63 L472.9 331.77 L473.23 331.58 L473.56 331.4 L473.89 330.82 L474.22 330.2 L474.55 329.79 L474.88 329.7 L475.21 329.37 L475.54 329.77 L475.87 329.79 L476.2 330.64 L476.53 330.9 L476.86 331.3 L477.19 331.63 L477.52 331.62 L477.85 331.66 L478.18 331.63 L478.51 331.46 L478.84 332.15 L479.17 331.91 L479.5 331.56 L479.83 332.32 L480.16 332.02 L480.49 332.06 L480.82 331.9 L481.15 331.62 L481.48 332.41 L481.81 331.66 L482.14 331.84 L482.47 332.41 L482.8 331.62 L483.13 331.96 L483.46 331.94 L483.79 331.73 L484.12 332.33 L484.45 331.87 L484.78 331.5 L485.11 331.91 L485.44 331.49 L485.77 332.11 L486.1 332.25 L486.43 332.27 L486.76 331.49 L487.09 332.04 L487.42 331.69 L487.75 331.82 L488.08 331.64 L488.41 331.62 L488.74 331.42 L489.07 331.82 L489.4 331.26 L489.73 331.93 L490.06 330.92 L490.39 331.47 L490.72 330.37 L491.05 329.74 L491.38 329.75 L491.71 329.05 L492.04 329.05 L492.37 328.99 L492.7 329.5 L493.03 329.41 L493.36 330.2 L493.69 330.06 L494.02 330.12 L494.35 328.46 L494.68 327.16 L495.01 325.78 L495.34 323.68 L495.67 320.96 L496 319.88 L496.1 319.67 L496.33 319.96 L496.66 321.87 L496.99 324.4 L497.32 326.13 L497.65 328.15 L497.98 329.77 L498.31 330.12 L498.64 330.79 L498.97 330.87 L499.3 331.14 L499.63 331.51 L499.96 331.68 L500.29 331.93 L500.62 331.54 L500.95 331.33 L501.28 331.47 L501.61 331.24 L501.94 331.41 L502.27 331.72 L502.6 331.75 L502.93 331.4 L503.26 331.33 L503.59 331.23 L503.92 331.27 L504.25 331.51 L504.58 331.22 L504.91 331.68 L505.24 331.25 L505.57 330.8 L505.9 330.46 L506.23 329.38 L506.56 328.83 L506.89 327.15 L507.22 324.69 L507.55 322.99 L507.88 321.61 L507.9 321.56 L508.21 322.35 L508.54 324.28 L508.87 326.79 L509.2 328.58 L509.53 329.89 L509.86 330.11 L510.19 331.16 L510.52 331.16 L510.85 331.23 L511.18 331.45 L511.51 331.47 L511.84 331.31 L512.17 331.53 L512.5 331.79 L512.83 331.88 L513.16 332.08 L513.49 331.45 L513.82 332.09 L514.15 332.02 L514.48 331.95 L514.81 332.19 L515.14 331.44 L515.47 332.01 L515.8 332.12 L516.13 331.42 L516.46 331.84 L516.79 332.15 L517.12 331.55 L517.45 332.05 L517.78 332.08 L518.11 331.64 L518.44 331.37 L518.77 331.42 L519.1 331.95 L519.43 331.56 L519.76 331.45 L520.09 331.54 L520.42 331.95 L520.75 331.32 L521.08 331.08 L521.41 331.89 L521.74 331.29 L522.07 331.32 L522.4 331.81 L522.73 331.15 L523.06 330.94 L523.39 331.62 L523.72 331 L524.05 330.93 L524.38 331.53 L524.71 330.85 L525.04 331.41 L525.37 330.85 L525.7 330.77 L526.03 330.64 L526.36 330.88 L526.69 330.84 L527.02 330.64 L527.35 330.69 L527.68 330.44 L528.01 330.88 L528.34 330.91 L528.67 330.69 L529 330.7 L529.33 329.98 L529.66 330.09 L529.99 330.01 L530.32 329.92 L530.65 330.61 L530.98 330.52 L531.31 330.5 L531.64 330.15 L531.97 329.74 L532.3 330 L532.63 329.66 L532.96 330.42 L533.29 329.84 L533.62 329.87 L533.95 330.48 L534.28 329.82 L534.61 330.5 L534.94 329.98 L535.27 330.33 L535.6 329.86 L535.93 330.61 L536.26 330.21 L536.59 330.2 L536.92 330.53 L537.25 330.52 L537.58 330.27 L537.91 330.21 L538.24 330.66 L538.57 330.22 L538.9 331.04 L539.23 330.61 L539.56 330.51 L539.89 330.7 L540.22 330.56 L540.55 330.79 L540.88 331.05 L541.21 330.97 L541.54 330.95 L541.87 330.95 L542.2 331.17 L542.53 331.47 L542.86 331.21 L543.19 331.54 L543.52 331.32 L543.85 331.02 L544.18 331.1 L544.51 331.74 L544.84 331.43 L545.17 331.37 L545.5 331.51 L545.83 331.83 L546.16 331.42 L546.49 331.42 L546.82 331.44 L547.15 331.13 L547.48 331.62 L547.81 331.57 L548.14 331.59 L548.47 331.55 L548.8 331.57 L549.13 331.78 L549.46 331.3 L549.79 332 L550.12 331.21 L550.45 331.86 L550.78 331.21 L551.11 331.74 L551.44 331.21 L551.77 331 L552.1 331.35 L552.43 331.53 L552.76 331.42 L553.09 331.3 L553.42 331.16 L553.75 329.97 L554.08 329.65 L554.41 328.4 L554.74 327.4 L555.07 324.86 L555.4 322.22 L555.73 319.15 L556.06 316.9 L556.3 315.97 L556.39 316.23 L556.72 317.58 L557.05 320.04 L557.38 323.77 L557.71 325.54 L558.04 327.32 L558.37 329.09 L558.7 329.16 L559.03 329.64 L559.36 328.82 L559.69 328.29 L560.02 327.49 L560.35 324.97 L560.68 322.89 L561.01 320.52 L561.34 317.67 L561.6 317.49 L561.67 317.58 L562 318.93 L562.33 321.71 L562.66 324.45 L562.99 326.22 L563.32 328.13 L563.65 329.61 L563.98 330.72 L564.31 330.48 L564.64 331.08 L564.97 330.84 L565.3 331.61 L565.63 331.35 L565.96 331.49 L566.29 331.68 L566.62 331.26 L566.95 331.83 L567.28 331.93 L567.61 332.01 L567.94 331.52 L568.27 331.5 L568.6 331.45 L568.93 332.13 L569.26 331.73 L569.59 331.7 L569.92 331.82 L570.25 331.99 L570.58 331.65 L570.91 331.67 L571.24 332.06 L571.57 332.07 L571.9 331.64 L572.23 331.44 L572.56 332.2 L572.89 332.01 L573.22 331.88 L573.55 331.7 L573.88 332.18 L574.21 331.68 L574.54 331.47 L574.87 331.33 L575.2 331.51 L575.53 331.68 L575.86 331.39 L576.19 331.81 L576.52 331.37 L576.85 330.91 L577.18 330.61 L577.51 329.77 L577.84 328.62 L578.17 326.93 L578.5 325.13 L578.83 323.43 L579.16 322.92 L579.2 322.33 L579.49 323.39 L579.82 324.49 L580.15 326.83 L580.48 327.79 L580.81 329.43 L581.14 330.27 L581.47 331.06 L581.8 330.93 L582.13 331.18 L582.46 331.18 L582.79 331.65 L583.12 331.73 L583.45 331.26 L583.78 331.45 L584.11 331.5 L584.44 332.21 L584.77 331.78 L585.1 331.89 L585.43 331.66 L585.76 332 L586.09 332.15 L586.42 332.03 L586.75 331.43 L587.08 331.83 L587.41 331.87 L587.74 331.47 L588.07 332.14 L588.4 331.71 L588.73 331.68 L589.06 331.98 L589.39 331.93 L589.72 331.84 L590.05 332.15 L590.38 331.82 L590.71 331.64 L591.04 331.36 L591.37 331.76 L591.7 331.54 L592.03 331.63 L592.36 331.37 L592.69 330.94 L593.02 330.77 L593.35 330.53 L593.68 329.89 L594.01 329.65 L594.34 328.06 L594.67 326.01 L595 324.53 L595.33 322.92 L595.6 321.93 L595.66 322.57 L595.99 323.03 L596.32 325.48 L596.65 326.6 L596.98 328.34 L597.31 329.49 L597.64 330.84 L597.97 331.28 L598.3 331.36 L598.63 331.15 L598.96 331.51 L599.29 331.84 L599.62 331.31 L599.95 332.14 L600.28 332.1 L600.61 332.21 L600.94 332.03 L601.27 331.98 L601.6 332.31 L601.93 331.69 L602.26 331.74 L602.59 331.58 L602.92 331.64 L603.25 332.2 L603.58 331.57 L603.91 332.16 L604.24 331.84 L604.57 332.28 L604.9 332.17 L605.23 332.09 L605.56 332.23 L605.89 331.49 L606.22 331.68 L606.55 331.75 L606.88 331.77 L607.21 331.95 L607.54 332.06 L607.87 331.81 L608.2 331.77 L608.53 331.23 L608.86 330.42 L609.19 329.89 L609.52 329.34 L609.85 328.71 L610.18 328 L610.51 328.24 L610.84 329.13 L611.17 329.56 L611.5 330.84 L611.83 330.57 L612.16 331.51 L612.49 331.58 L612.82 331.46 L613.15 331.88 L613.48 331.84 L613.81 332.32 L614.14 332.27 L614.47 332.02 L614.8 332.3 L615.13 332.32 L615.46 331.69 L615.79 332.29 L616.12 332.31 L616.45 332.46 L616.78 332.25 L617.11 331.93 L617.44 331.77 L617.77 332.17 L618.1 331.78 L618.43 332.27 L618.76 332.11 L619.09 332.34 L619.42 331.92 L619.75 331.87 L620.08 332.42 L620.41 332.2 L620.74 331.95 L621.07 332.11 L621.4 332 L621.73 332.19 L622.06 332.08 L622.39 331.87 L622.72 332.5 L623.05 332.41 L623.38 332.3 L623.71 331.87 L624.04 331.79 L624.37 332.28 L624.7 332.36 L625.03 332.21 L625.36 331.81 L625.69 332.27 L626.02 332.09 L626.35 331.96 L626.68 332.15 L627.01 332.03 L627.34 332.21 L627.67 332.3 L628 332.51 L628.33 331.73 L628.66 332.14 L628.99 332.48 L629.32 332.22 L629.65 332.15 L629.98 332.39 L630.31 331.65 L630.64 332.34 L630.97 332.19 L631.3 332.15 L631.63 331.91 L631.96 332.18 L632.29 331.74 L632.62 332.1 L632.95 331.86 L633.28 332.46 L633.61 332.35 L633.94 332.05 L634.27 332.3 L634.6 331.97 L634.93 332.1 L635.26 331.77 L635.59 332.4 L635.92 332.31 L636.25 332.31 L636.58 331.7 L636.91 332.36 L637.24 331.63 L637.57 332.13 L637.9 332.06 L638.23 331.67 L638.56 332 L638.89 332.42 L639.22 332.18 L639.55 331.9 L639.88 332.35 L640.21 331.94 L640.54 332.43 L640.87 331.98 L641.2 331.69 L641.53 332.49 L641.86 331.68 L642.19 331.84 L642.52 332.31 L642.85 331.71 L643.18 332.1 L643.51 332.38 L643.84 332.14 L644.17 331.92 L644.5 332.28 L644.83 332.34 L645.16 332.12 L645.49 332.16 L645.82 331.88 L646.15 331.96 L646.48 332.48 L646.81 332.46 L647.14 331.58 L647.47 331.75 L647.8 331.77 L648.13 332.28 L648.46 331.74 L648.79 331.71 L649.12 332.24 L649.45 331.69 L649.78 332.41 L650.11 331.93 L650.44 332.32 L650.77 332.24 L651.1 331.67 L651.43 332.17 L651.76 331.82 L652.09 331.62 L652.42 331.44 L652.75 332 L653.08 331.83 L653.41 331.55 L653.74 331.96 L654.07 331.31 L654.4 331.43 L654.73 330.94 L655.06 330.92 L655.39 330.97 L655.72 329.91 L656.05 328.46 L656.38 326.92 L656.71 325.23 L657.04 322.7 L657.37 321.56 L657.6 320.42 L657.7 321.22 L658.03 322.23 L658.36 324.51 L658.69 326.25 L659.02 327.81 L659.35 329.22 L659.68 330.49 L660.01 330.48 L660.34 330.87 L660.67 331.67 L661 331.88 L661.33 331.95 L661.66 332 L661.99 331.79 L662.32 332.12 L662.65 332 L662.98 331.9 L663.31 331.8 L663.64 331.46 L663.97 331.54 L664.3 331.69 L664.63 331.9 L664.96 331.6 L665.29 332.37 L665.62 332.02 L665.95 332.18 L666.28 332.32 L666.61 331.72 L666.94 332.32 L667.27 332.38 L667.6 331.76 L667.93 331.63 L668.26 332.24 L668.59 332.31 L668.92 332.22 L669.25 331.87 L669.58 332.03 L669.91 331.58 L670.24 331.68 L670.57 331.82 L670.9 332.1 L671.23 331.48 L671.56 332.2 L671.89 331.34 L672.22 332.12 L672.55 331.37 L672.88 331.74 L673.21 331.47 L673.54 331.12 L673.87 329.89 L674.2 328.91 L674.53 327 L674.86 325.9 L675.19 324.23 L675.3 324.85 L675.52 324.89 L675.85 325.71 L676.18 328.13 L676.51 329.01 L676.84 329.84 L677.17 330.69 L677.5 330.88" fill="none" stroke="#ef9430" stroke-width="1.6" stroke-linejoin="round" stroke-linecap="round" />
<rect x="23.5" y="20.5" width="654.8" height="318" fill="none" stroke="#202020" stroke-width="1.1"/>
<line x1="23.5" y1="126.4" x2="678.3" y2="126.4" stroke="#202020" stroke-width="1.1"/>
<line x1="23.5" y1="232.5" x2="678.3" y2="232.5" stroke="#202020" stroke-width="1.1"/>
<path d="M46.5 20.5 V24.3 M46.5 123 V130.2 M46.5 229.1 V236.3 M46.5 335.5 V338.5 M69.9 20.5 V24.3 M69.9 123 V130.2 M69.9 229.1 V236.3 M69.9 335.5 V338.5 M93.3 20.5 V24.3 M93.3 123 V130.2 M93.3 229.1 V236.3 M93.3 335.5 V338.5 M116.7 20.5 V24.3 M116.7 123 V130.2 M116.7 229.1 V236.3 M116.7 335.5 V338.5 M140.1 20.5 V24.3 M140.1 123 V130.2 M140.1 229.1 V236.3 M140.1 335.5 V338.5 M163.5 20.5 V24.3 M163.5 123 V130.2 M163.5 229.1 V236.3 M163.5 335.5 V338.5 M186.9 20.5 V24.3 M186.9 123 V130.2 M186.9 229.1 V236.3 M186.9 335.5 V338.5 M210.3 20.5 V24.3 M210.3 123 V130.2 M210.3 229.1 V236.3 M210.3 335.5 V338.5 M233.7 20.5 V24.3 M233.7 123 V130.2 M233.7 229.1 V236.3 M233.7 335.5 V338.5 M257.1 20.5 V24.3 M257.1 123 V130.2 M257.1 229.1 V236.3 M257.1 335.5 V338.5 M280.5 20.5 V24.3 M280.5 123 V130.2 M280.5 229.1 V236.3 M280.5 335.5 V338.5 M303.9 20.5 V24.3 M303.9 123 V130.2 M303.9 229.1 V236.3 M303.9 335.5 V338.5 M327.3 20.5 V24.3 M327.3 123 V130.2 M327.3 229.1 V236.3 M327.3 335.5 V338.5 M350.7 20.5 V24.3 M350.7 123 V130.2 M350.7 229.1 V236.3 M350.7 335.5 V338.5 M374.1 20.5 V24.3 M374.1 123 V130.2 M374.1 229.1 V236.3 M374.1 335.5 V338.5 M397.5 20.5 V24.3 M397.5 123 V130.2 M397.5 229.1 V236.3 M397.5 335.5 V338.5 M420.9 20.5 V24.3 M420.9 123 V130.2 M420.9 229.1 V236.3 M420.9 335.5 V338.5 M444.3 20.5 V24.3 M444.3 123 V130.2 M444.3 229.1 V236.3 M444.3 335.5 V338.5 M467.7 20.5 V24.3 M467.7 123 V130.2 M467.7 229.1 V236.3 M467.7 335.5 V338.5 M491.1 20.5 V24.3 M491.1 123 V130.2 M491.1 229.1 V236.3 M491.1 335.5 V338.5 M514.5 20.5 V24.3 M514.5 123 V130.2 M514.5 229.1 V236.3 M514.5 335.5 V338.5 M537.9 20.5 V24.3 M537.9 123 V130.2 M537.9 229.1 V236.3 M537.9 335.5 V338.5 M561.3 20.5 V24.3 M561.3 123 V130.2 M561.3 229.1 V236.3 M561.3 335.5 V338.5 M584.7 20.5 V24.3 M584.7 123 V130.2 M584.7 229.1 V236.3 M584.7 335.5 V338.5 M608.1 20.5 V24.3 M608.1 123 V130.2 M608.1 229.1 V236.3 M608.1 335.5 V338.5 M631.5 20.5 V24.3 M631.5 123 V130.2 M631.5 229.1 V236.3 M631.5 335.5 V338.5 M654.9 20.5 V24.3 M654.9 123 V130.2 M654.9 229.1 V236.3 M654.9 335.5 V338.5" stroke="#202020" stroke-width="1.1" fill="none"/>
<text x="23.1" y="353.4" font-size="11.8" fill="#1a1a1a" text-anchor="middle" font-weight="normal" >10</text>
<text x="69.9" y="353.4" font-size="11.8" fill="#1a1a1a" text-anchor="middle" font-weight="normal" >15</text>
<text x="116.7" y="353.4" font-size="11.8" fill="#1a1a1a" text-anchor="middle" font-weight="normal" >20</text>
<text x="163.5" y="353.4" font-size="11.8" fill="#1a1a1a" text-anchor="middle" font-weight="normal" >25</text>
<text x="210.3" y="353.4" font-size="11.8" fill="#1a1a1a" text-anchor="middle" font-weight="normal" >30</text>
<text x="257.1" y="353.4" font-size="11.8" fill="#1a1a1a" text-anchor="middle" font-weight="normal" >35</text>
<text x="303.9" y="353.4" font-size="11.8" fill="#1a1a1a" text-anchor="middle" font-weight="normal" >40</text>
<text x="350.7" y="353.4" font-size="11.8" fill="#1a1a1a" text-anchor="middle" font-weight="normal" >45</text>
<text x="397.5" y="353.4" font-size="11.8" fill="#1a1a1a" text-anchor="middle" font-weight="normal" >50</text>
<text x="444.3" y="353.4" font-size="11.8" fill="#1a1a1a" text-anchor="middle" font-weight="normal" >55</text>
<text x="491.1" y="353.4" font-size="11.8" fill="#1a1a1a" text-anchor="middle" font-weight="normal" >60</text>
<text x="537.9" y="353.4" font-size="11.8" fill="#1a1a1a" text-anchor="middle" font-weight="normal" >65</text>
<text x="584.7" y="353.4" font-size="11.8" fill="#1a1a1a" text-anchor="middle" font-weight="normal" >70</text>
<text x="631.5" y="353.4" font-size="11.8" fill="#1a1a1a" text-anchor="middle" font-weight="normal" >75</text>
<text x="678.3" y="353.4" font-size="11.8" fill="#1a1a1a" text-anchor="middle" font-weight="normal" >80</text>
<text x="307" y="368.6" font-size="14" fill="#1a1a1a" text-anchor="start" font-weight="normal" >2θ, degrees</text>
<text x="0" y="0" font-size="14" fill="#1a1a1a" text-anchor="start" font-weight="normal" transform="translate(15.2 266) rotate(-90)">Normalized intensity, a.u.</text>
<text x="-1.2" y="18.7" font-size="18" fill="#1a1a1a" text-anchor="start" font-weight="normal" >a)</text>
<path d="M42.8 2.2 L49.5 9 L42.8 15.8 L36.1 9 Z" fill="none" stroke="#111" stroke-width="2.0" stroke-linejoin="miter"/>
<text x="53.4" y="14.4" font-size="13.4" fill="#1a1a1a" ><tspan>(W,Ta)B</tspan><tspan font-size="7.0" dy="2.4">5-x</tspan></text>
<path d="M155.1 2.4 L161.7 12.7 L148.5 12.7 Z" fill="none" stroke="#111" stroke-width="1.9" stroke-linejoin="miter"/>
<text x="165.6" y="14" font-size="13.4" fill="#1a1a1a" ><tspan>WB</tspan><tspan font-size="7.0" dy="2.4">5-x</tspan></text>
<circle cx="230.3" cy="8" r="5.6" fill="none" stroke="#111" stroke-width="1.9"/>
<text x="241.6" y="14" font-size="13.4" fill="#1a1a1a" ><tspan>WB</tspan><tspan font-size="7.0" dy="2.4">2</tspan></text>
<rect x="301.05" y="4.35" width="9.3" height="9.3" fill="none" stroke="#111" stroke-width="1.9"/>
<text x="316.5" y="14" font-size="13.4" fill="#1a1a1a" ><tspan>TaB</tspan><tspan font-size="7.0" dy="2.4">2</tspan></text>
<text x="580" y="42.2" font-size="17.0" fill="#2d5a9e" ><tspan>W</tspan><tspan font-size="11.2" dy="5.8">0.8</tspan><tspan dy="-5.8">Ta</tspan><tspan font-size="11.2" dy="5.8">0.2</tspan><tspan dy="-5.8">B</tspan><tspan font-size="11.2" dy="5.8">5-x</tspan></text>
<text x="580" y="149.6" font-size="17.0" fill="#6aae3a" ><tspan>W</tspan><tspan font-size="11.2" dy="5.8">0.6</tspan><tspan dy="-5.8">Ta</tspan><tspan font-size="11.2" dy="5.8">0.4</tspan><tspan dy="-5.8">B</tspan><tspan font-size="11.2" dy="5.8">5-x</tspan></text>
<text x="580" y="259.4" font-size="17.0" fill="#ef9430" ><tspan>W</tspan><tspan font-size="11.2" dy="5.8">0.4</tspan><tspan dy="-5.8">Ta</tspan><tspan font-size="11.2" dy="5.8">0.6</tspan><tspan dy="-5.8">B</tspan><tspan font-size="11.2" dy="5.8">5-x</tspan></text>
<path d="M114 104.8 L119 109.5 L114 114.2 L109 109.5 Z" fill="none" stroke="#111" stroke-width="1.8" stroke-linejoin="miter"/>
<path d="M131.8 104.6 L136.4 112.2 L127.2 112.2 Z" fill="none" stroke="#111" stroke-width="1.8" stroke-linejoin="miter"/>
<path d="M156.7 31.5 L161.3 39.1 L152.1 39.1 Z" fill="none" stroke="#111" stroke-width="1.8" stroke-linejoin="miter"/>
<path d="M156.7 42.8 L161.7 47.5 L156.7 52.2 L151.7 47.5 Z" fill="none" stroke="#111" stroke-width="1.8" stroke-linejoin="miter"/>
<rect x="179.95" y="101.65" width="6.7" height="6.7" fill="none" stroke="#111" stroke-width="1.75"/>
<path d="M193.4 68 L198 75.6 L188.8 75.6 Z" fill="none" stroke="#111" stroke-width="1.8" stroke-linejoin="miter"/>
<path d="M193.4 80.3 L198.4 85 L193.4 89.7 L188.4 85 Z" fill="none" stroke="#111" stroke-width="1.8" stroke-linejoin="miter"/>
<rect x="242.05" y="94.05" width="6.7" height="6.7" fill="none" stroke="#111" stroke-width="1.75"/>
<path d="M252.2 27.9 L256.8 35.5 L247.6 35.5 Z" fill="none" stroke="#111" stroke-width="1.8" stroke-linejoin="miter"/>
<path d="M252.2 40.6 L257.2 45.3 L252.2 50 L247.2 45.3 Z" fill="none" stroke="#111" stroke-width="1.8" stroke-linejoin="miter"/>
<circle cx="257.5" cy="98.3" r="3.55" fill="none" stroke="#111" stroke-width="1.75"/>
<circle cx="299.3" cy="107.7" r="3.55" fill="none" stroke="#111" stroke-width="1.75"/>
<path d="M328.2 75.3 L332.8 82.9 L323.6 82.9 Z" fill="none" stroke="#111" stroke-width="1.8" stroke-linejoin="miter"/>
<path d="M328.2 86.3 L333.2 91 L328.2 95.7 L323.2 91 Z" fill="none" stroke="#111" stroke-width="1.8" stroke-linejoin="miter"/>
<rect x="336.95" y="88.05" width="6.7" height="6.7" fill="none" stroke="#111" stroke-width="1.75"/>
<path d="M351.8 31.2 L356.8 35.9 L351.8 40.6 L346.8 35.9 Z" fill="none" stroke="#111" stroke-width="1.8" stroke-linejoin="miter"/>
<path d="M355.9 60.8 L360.5 68.4 L351.3 68.4 Z" fill="none" stroke="#111" stroke-width="1.8" stroke-linejoin="miter"/>
<path d="M374.7 86.1 L379.3 93.7 L370.1 93.7 Z" fill="none" stroke="#111" stroke-width="1.8" stroke-linejoin="miter"/>
<path d="M374.7 98.5 L379.7 103.2 L374.7 107.9 L369.7 103.2 Z" fill="none" stroke="#111" stroke-width="1.8" stroke-linejoin="miter"/>
<path d="M452 86.7 L457 91.4 L452 96.1 L447 91.4 Z" fill="none" stroke="#111" stroke-width="1.8" stroke-linejoin="miter"/>
<path d="M456.8 95.2 L461.4 102.8 L452.2 102.8 Z" fill="none" stroke="#111" stroke-width="1.8" stroke-linejoin="miter"/>
<path d="M474.5 104.6 L479.1 112.2 L469.9 112.2 Z" fill="none" stroke="#111" stroke-width="1.8" stroke-linejoin="miter"/>
<rect x="490.45" y="106.15" width="6.7" height="6.7" fill="none" stroke="#111" stroke-width="1.75"/>
<path d="M507.5 86.7 L512.5 91.4 L507.5 96.1 L502.5 91.4 Z" fill="none" stroke="#111" stroke-width="1.8" stroke-linejoin="miter"/>
<path d="M513.7 96.1 L518.3 103.7 L509.1 103.7 Z" fill="none" stroke="#111" stroke-width="1.8" stroke-linejoin="miter"/>
<rect x="551.15" y="106.15" width="6.7" height="6.7" fill="none" stroke="#111" stroke-width="1.75"/>
<circle cx="563" cy="109.5" r="3.55" fill="none" stroke="#111" stroke-width="1.75"/>
<path d="M573.7 94.7 L578.7 99.4 L573.7 104.1 L568.7 99.4 Z" fill="none" stroke="#111" stroke-width="1.8" stroke-linejoin="miter"/>
<path d="M581.9 89.1 L586.5 96.7 L577.3 96.7 Z" fill="none" stroke="#111" stroke-width="1.8" stroke-linejoin="miter"/>
<path d="M594.1 100.2 L599.1 104.9 L594.1 109.6 L589.1 104.9 Z" fill="none" stroke="#111" stroke-width="1.8" stroke-linejoin="miter"/>
<path d="M599.4 105 L604 112.6 L594.8 112.6 Z" fill="none" stroke="#111" stroke-width="1.8" stroke-linejoin="miter"/>
<path d="M608.7 100.2 L613.7 104.9 L608.7 109.6 L603.7 104.9 Z" fill="none" stroke="#111" stroke-width="1.8" stroke-linejoin="miter"/>
<path d="M614.4 104.1 L619 111.7 L609.8 111.7 Z" fill="none" stroke="#111" stroke-width="1.8" stroke-linejoin="miter"/>
<path d="M657 100.5 L662 105.2 L657 109.9 L652 105.2 Z" fill="none" stroke="#111" stroke-width="1.8" stroke-linejoin="miter"/>
<path d="M673.5 94.1 L678.5 98.8 L673.5 103.5 L668.5 98.8 Z" fill="none" stroke="#111" stroke-width="1.8" stroke-linejoin="miter"/>
<path d="M114 205.8 L119 210.5 L114 215.2 L109 210.5 Z" fill="none" stroke="#111" stroke-width="1.8" stroke-linejoin="miter"/>
<path d="M131.6 205.6 L136.2 213.2 L127 213.2 Z" fill="none" stroke="#111" stroke-width="1.8" stroke-linejoin="miter"/>
<path d="M157.1 131.6 L161.7 139.2 L152.5 139.2 Z" fill="none" stroke="#111" stroke-width="1.8" stroke-linejoin="miter"/>
<path d="M157.1 143.5 L162.1 148.2 L157.1 152.9 L152.1 148.2 Z" fill="none" stroke="#111" stroke-width="1.8" stroke-linejoin="miter"/>
<rect x="180.85" y="191.65" width="6.7" height="6.7" fill="none" stroke="#111" stroke-width="1.75"/>
<path d="M193.8 174 L198.4 181.6 L189.2 181.6 Z" fill="none" stroke="#111" stroke-width="1.8" stroke-linejoin="miter"/>
<path d="M193.8 186.4 L198.8 191.1 L193.8 195.8 L188.8 191.1 Z" fill="none" stroke="#111" stroke-width="1.8" stroke-linejoin="miter"/>
<rect x="242.95" y="165.65" width="6.7" height="6.7" fill="none" stroke="#111" stroke-width="1.75"/>
<path d="M253 131.9 L257.6 139.5 L248.4 139.5 Z" fill="none" stroke="#111" stroke-width="1.8" stroke-linejoin="miter"/>
<path d="M253 144.4 L258 149.1 L253 153.8 L248 149.1 Z" fill="none" stroke="#111" stroke-width="1.8" stroke-linejoin="miter"/>
<circle cx="259.3" cy="197" r="3.55" fill="none" stroke="#111" stroke-width="1.75"/>
<circle cx="300.5" cy="208.8" r="3.55" fill="none" stroke="#111" stroke-width="1.75"/>
<path d="M328.9 180.4 L333.5 188 L324.3 188 Z" fill="none" stroke="#111" stroke-width="1.8" stroke-linejoin="miter"/>
<path d="M328.9 191.5 L333.9 196.2 L328.9 200.9 L323.9 196.2 Z" fill="none" stroke="#111" stroke-width="1.8" stroke-linejoin="miter"/>
<rect x="336.95" y="159.35" width="6.7" height="6.7" fill="none" stroke="#111" stroke-width="1.75"/>
<path d="M351.8 131.8 L356.8 136.5 L351.8 141.2 L346.8 136.5 Z" fill="none" stroke="#111" stroke-width="1.8" stroke-linejoin="miter"/>
<path d="M355.4 159.6 L360 167.2 L350.8 167.2 Z" fill="none" stroke="#111" stroke-width="1.8" stroke-linejoin="miter"/>
<path d="M377 189.4 L381.6 197 L372.4 197 Z" fill="none" stroke="#111" stroke-width="1.8" stroke-linejoin="miter"/>
<path d="M377 201.8 L382 206.5 L377 211.2 L372 206.5 Z" fill="none" stroke="#111" stroke-width="1.8" stroke-linejoin="miter"/>
<path d="M452 187.3 L457 192 L452 196.7 L447 192 Z" fill="none" stroke="#111" stroke-width="1.8" stroke-linejoin="miter"/>
<path d="M460.3 196.3 L464.9 203.9 L455.7 203.9 Z" fill="none" stroke="#111" stroke-width="1.8" stroke-linejoin="miter"/>
<path d="M475.3 208 L479.9 215.6 L470.7 215.6 Z" fill="none" stroke="#111" stroke-width="1.8" stroke-linejoin="miter"/>
<rect x="490.65" y="206.75" width="6.7" height="6.7" fill="none" stroke="#111" stroke-width="1.75"/>
<path d="M507.3 187.8 L512.3 192.5 L507.3 197.2 L502.3 192.5 Z" fill="none" stroke="#111" stroke-width="1.8" stroke-linejoin="miter"/>
<path d="M513.8 196.6 L518.4 204.2 L509.2 204.2 Z" fill="none" stroke="#111" stroke-width="1.8" stroke-linejoin="miter"/>
<rect x="552.05" y="202.25" width="6.7" height="6.7" fill="none" stroke="#111" stroke-width="1.75"/>
<circle cx="563" cy="210.1" r="3.55" fill="none" stroke="#111" stroke-width="1.75"/>
<path d="M574 195.8 L579 200.5 L574 205.2 L569 200.5 Z" fill="none" stroke="#111" stroke-width="1.8" stroke-linejoin="miter"/>
<path d="M581.4 198.2 L586 205.8 L576.8 205.8 Z" fill="none" stroke="#111" stroke-width="1.8" stroke-linejoin="miter"/>
<path d="M593.4 199.4 L598.4 204.1 L593.4 208.8 L588.4 204.1 Z" fill="none" stroke="#111" stroke-width="1.8" stroke-linejoin="miter"/>
<path d="M598.7 203.7 L603.3 211.3 L594.1 211.3 Z" fill="none" stroke="#111" stroke-width="1.8" stroke-linejoin="miter"/>
<path d="M609.3 206.2 L614.3 210.9 L609.3 215.6 L604.3 210.9 Z" fill="none" stroke="#111" stroke-width="1.8" stroke-linejoin="miter"/>
<path d="M615.7 210.5 L620.3 218.1 L611.1 218.1 Z" fill="none" stroke="#111" stroke-width="1.8" stroke-linejoin="miter"/>
<path d="M652.5 208.8 L657.1 216.4 L647.9 216.4 Z" fill="none" stroke="#111" stroke-width="1.8" stroke-linejoin="miter"/>
<path d="M658 202.5 L663 207.2 L658 211.9 L653 207.2 Z" fill="none" stroke="#111" stroke-width="1.8" stroke-linejoin="miter"/>
<path d="M675.3 200.7 L680.3 205.4 L675.3 210.1 L670.3 205.4 Z" fill="none" stroke="#111" stroke-width="1.8" stroke-linejoin="miter"/>
<path d="M114 316.8 L119 321.5 L114 326.2 L109 321.5 Z" fill="none" stroke="#111" stroke-width="1.8" stroke-linejoin="miter"/>
<path d="M131.8 316.4 L136.4 324 L127.2 324 Z" fill="none" stroke="#111" stroke-width="1.8" stroke-linejoin="miter"/>
<path d="M157.1 267 L161.7 274.6 L152.5 274.6 Z" fill="none" stroke="#111" stroke-width="1.8" stroke-linejoin="miter"/>
<path d="M157.1 278.8 L162.1 283.5 L157.1 288.2 L152.1 283.5 Z" fill="none" stroke="#111" stroke-width="1.8" stroke-linejoin="miter"/>
<rect x="180.45" y="287.45" width="6.7" height="6.7" fill="none" stroke="#111" stroke-width="1.75"/>
<path d="M193.8 291.3 L198.4 298.9 L189.2 298.9 Z" fill="none" stroke="#111" stroke-width="1.8" stroke-linejoin="miter"/>
<path d="M193.8 303.8 L198.8 308.5 L193.8 313.2 L188.8 308.5 Z" fill="none" stroke="#111" stroke-width="1.8" stroke-linejoin="miter"/>
<rect x="243.25" y="256.35" width="6.7" height="6.7" fill="none" stroke="#111" stroke-width="1.75"/>
<path d="M253.5 267.4 L258.1 275 L248.9 275 Z" fill="none" stroke="#111" stroke-width="1.8" stroke-linejoin="miter"/>
<path d="M253 280.3 L258 285 L253 289.7 L248 285 Z" fill="none" stroke="#111" stroke-width="1.8" stroke-linejoin="miter"/>
<circle cx="259.3" cy="308.5" r="3.55" fill="none" stroke="#111" stroke-width="1.75"/>
<circle cx="300.5" cy="314.8" r="3.55" fill="none" stroke="#111" stroke-width="1.75"/>
<path d="M328.6 290.5 L333.2 298.1 L324 298.1 Z" fill="none" stroke="#111" stroke-width="1.8" stroke-linejoin="miter"/>
<path d="M328.6 302.9 L333.6 307.6 L328.6 312.3 L323.6 307.6 Z" fill="none" stroke="#111" stroke-width="1.8" stroke-linejoin="miter"/>
<rect x="336.95" y="241.85" width="6.7" height="6.7" fill="none" stroke="#111" stroke-width="1.75"/>
<path d="M351.8 270.2 L356.8 274.9 L351.8 279.6 L346.8 274.9 Z" fill="none" stroke="#111" stroke-width="1.8" stroke-linejoin="miter"/>
<path d="M355.7 290 L360.3 297.6 L351.1 297.6 Z" fill="none" stroke="#111" stroke-width="1.8" stroke-linejoin="miter"/>
<path d="M376.2 298.1 L380.8 305.7 L371.6 305.7 Z" fill="none" stroke="#111" stroke-width="1.8" stroke-linejoin="miter"/>
<path d="M376.2 310.8 L381.2 315.5 L376.2 320.2 L371.2 315.5 Z" fill="none" stroke="#111" stroke-width="1.8" stroke-linejoin="miter"/>
<path d="M452.2 298.3 L457.2 303 L452.2 307.7 L447.2 303 Z" fill="none" stroke="#111" stroke-width="1.8" stroke-linejoin="miter"/>
<path d="M459 304.5 L463.6 312.1 L454.4 312.1 Z" fill="none" stroke="#111" stroke-width="1.8" stroke-linejoin="miter"/>
<path d="M476.6 316.2 L481.2 323.8 L472 323.8 Z" fill="none" stroke="#111" stroke-width="1.8" stroke-linejoin="miter"/>
<rect x="492.75" y="309.15" width="6.7" height="6.7" fill="none" stroke="#111" stroke-width="1.75"/>
<path d="M507.5 307.4 L512.5 312.1 L507.5 316.8 L502.5 312.1 Z" fill="none" stroke="#111" stroke-width="1.8" stroke-linejoin="miter"/>
<path d="M513.8 310.8 L518.4 318.4 L509.2 318.4 Z" fill="none" stroke="#111" stroke-width="1.8" stroke-linejoin="miter"/>
<rect x="552.45" y="302.45" width="6.7" height="6.7" fill="none" stroke="#111" stroke-width="1.75"/>
<circle cx="564" cy="310.5" r="3.55" fill="none" stroke="#111" stroke-width="1.75"/>
<path d="M578.2 309.7 L582.8 317.3 L573.6 317.3 Z" fill="none" stroke="#111" stroke-width="1.8" stroke-linejoin="miter"/>
<path d="M595.2 311.6 L599.8 319.2 L590.6 319.2 Z" fill="none" stroke="#111" stroke-width="1.8" stroke-linejoin="miter"/>
<path d="M611.1 317.4 L615.7 325 L606.5 325 Z" fill="none" stroke="#111" stroke-width="1.8" stroke-linejoin="miter"/>
<path d="M652.5 310.1 L657.1 317.7 L647.9 317.7 Z" fill="none" stroke="#111" stroke-width="1.8" stroke-linejoin="miter"/>
<path d="M661.8 310.9 L666.8 315.6 L661.8 320.3 L656.8 315.6 Z" fill="none" stroke="#111" stroke-width="1.8" stroke-linejoin="miter"/>
<path d="M675.5 311.6 L680.5 316.3 L675.5 321 L670.5 316.3 Z" fill="none" stroke="#111" stroke-width="1.8" stroke-linejoin="miter"/>
<defs><clipPath id="cb"><rect x="22.4" y="392.4" width="309.4" height="181"/></clipPath><clipPath id="cc"><rect x="365" y="392.4" width="309.3" height="181"/></clipPath></defs>
<g clip-path="url(#cb)">
<path d="M74.1 540.77 L74.6 540.75 L75.1 540.73 L75.6 540.71 L76.1 540.68 L76.6 540.64 L77.1 540.6 L77.6 540.56 L78.1 540.5 L78.6 540.45 L79.1 540.38 L79.6 540.31 L80.1 540.22 L80.6 540.13 L81.1 540.03 L81.6 539.91 L82.1 539.79 L82.6 539.65 L83.1 539.49 L83.6 539.32 L84.1 539.14 L84.6 538.94 L85.1 538.72 L85.6 538.48 L86.1 538.23 L86.6 537.95 L87.1 537.65 L87.6 537.33 L88.1 536.99 L88.6 536.62 L89.1 536.23 L89.6 535.82 L90.1 535.37 L90.6 534.91 L91.1 534.41 L91.6 533.89 L92.1 533.34 L92.6 532.77 L93.1 532.17 L93.6 531.54 L94.1 530.88 L94.6 530.21 L95.1 529.5 L95.6 528.78 L96.1 528.03 L96.6 527.26 L97.1 526.48 L97.6 525.68 L98.1 524.86 L98.6 524.03 L99.1 523.19 L99.6 522.34 L100.1 521.48 L100.6 520.63 L101.1 519.78 L101.6 518.94 L102.1 518.1 L102.6 517.28 L103.1 516.47 L103.6 515.69 L104.1 514.92 L104.6 514.18 L105.1 513.47 L105.6 512.8 L106.1 512.16 L106.6 511.55 L107.1 510.99 L107.6 510.48 L108.1 510.01 L108.6 509.59 L109.1 509.23 L109.6 508.91 L110.1 508.66 L110.6 508.46 L111.1 508.32 L111.6 508.24 L112.1 508.22 L112.6 508.26 L113.1 508.36 L113.6 508.52 L114.1 508.74 L114.6 509.02 L115.1 509.36 L115.6 509.75 L116.1 510.21 L116.6 510.71 L117.1 511.27 L117.6 511.88 L118.1 512.53 L118.6 513.22 L119.1 513.96 L119.6 514.73 L120.1 515.54 L120.6 516.37 L121.1 517.23 L121.6 518.12 L122.1 519.03 L122.6 519.95 L123.1 520.88 L123.6 521.83 L124.1 522.78 L124.6 523.73 L125.1 524.69 L125.6 525.64 L126.1 526.58 L126.6 527.52 L127.1 528.44 L127.6 529.35 L128.1 530.25 L128.6 531.13 L129.1 531.98 L129.6 532.82 L130.1 533.63 L130.6 534.43 L131.1 535.19 L131.6 535.93 L132.1 536.65 L132.6 537.34 L133.1 538 L133.6 538.63 L134.1 539.24 L134.6 539.82 L135.1 540.37 L135.6 540.9 L136.1 541.4 L136.6 541.88 L137.1 542.33 L137.6 542.77 L138.1 543.17 L138.6 543.56 L139.1 543.93 L139.6 544.29 L140.1 544.62 L140.6 544.94 L141.1 545.24 L141.6 545.52 L142.1 545.79 L142.6 546.05 L143.1 546.3 L143.6 546.53 L144.1 546.75 L144.6 546.96 L145.1 547.16 L145.6 547.35 L146.1 547.53 L146.6 547.7 L147.1 547.87 L147.6 548.03 L148.1 548.18 L148.6 548.32 L149.1 548.46 L149.6 548.59 L150.1 548.72 L150.6 548.84" fill="none" stroke="#1f0cff" stroke-width="1.25" stroke-linejoin="round"  stroke-dasharray="1.1 2.0" stroke-linecap="butt"/>
<path d="M96.14 541.25 L96.64 541.2 L97.14 541.14 L97.64 541.07 L98.14 540.99 L98.64 540.9 L99.14 540.8 L99.64 540.68 L100.14 540.55 L100.64 540.4 L101.14 540.23 L101.64 540.05 L102.14 539.85 L102.64 539.62 L103.14 539.37 L103.64 539.1 L104.14 538.79 L104.64 538.46 L105.14 538.09 L105.64 537.69 L106.14 537.25 L106.64 536.77 L107.14 536.25 L107.64 535.68 L108.14 535.07 L108.64 534.41 L109.14 533.7 L109.64 532.93 L110.14 532.11 L110.64 531.22 L111.14 530.28 L111.64 529.28 L112.14 528.21 L112.64 527.08 L113.14 525.88 L113.64 524.62 L114.14 523.29 L114.64 521.89 L115.14 520.43 L115.64 518.9 L116.14 517.3 L116.64 515.65 L117.14 513.93 L117.64 512.15 L118.14 510.31 L118.64 508.42 L119.14 506.48 L119.64 504.49 L120.14 502.45 L120.64 500.38 L121.14 498.28 L121.64 496.15 L122.14 494 L122.64 491.83 L123.14 489.66 L123.64 487.48 L124.14 485.32 L124.64 483.17 L125.14 481.04 L125.64 478.94 L126.14 476.88 L126.64 474.87 L127.14 472.91 L127.64 471.02 L128.14 469.2 L128.64 467.47 L129.14 465.82 L129.64 464.27 L130.14 462.82 L130.64 461.49 L131.14 460.27 L131.64 459.17 L132.14 458.21 L132.64 457.38 L133.14 456.68 L133.64 456.13 L134.14 455.73 L134.64 455.47 L135.14 455.36 L135.64 455.4 L136.14 455.59 L136.64 455.94 L137.14 456.43 L137.64 457.06 L138.14 457.85 L138.64 458.78 L139.14 459.84 L139.64 461.04 L140.14 462.36 L140.64 463.81 L141.14 465.37 L141.64 467.04 L142.14 468.81 L142.64 470.68 L143.14 472.62 L143.64 474.65 L144.14 476.74 L144.64 478.9 L145.14 481.1 L145.64 483.35 L146.14 485.63 L146.64 487.94 L147.14 490.27 L147.64 492.61 L148.14 494.94 L148.64 497.28 L149.14 499.6 L149.64 501.9 L150.14 504.17 L150.64 506.41 L151.14 508.62 L151.64 510.78 L152.14 512.9 L152.64 514.96 L153.14 516.97 L153.64 518.92 L154.14 520.81 L154.64 522.63 L155.14 524.39 L155.64 526.08 L156.14 527.7 L156.64 529.25 L157.14 530.73 L157.64 532.15 L158.14 533.49 L158.64 534.76 L159.14 535.97 L159.64 537.1 L160.14 538.18 L160.64 539.19 L161.14 540.13 L161.64 541.02 L162.14 541.86 L162.64 542.64 L163.14 543.36 L163.64 544.04 L164.14 544.67 L164.64 545.26 L165.14 545.8 L165.64 546.3 L166.14 546.77 L166.64 547.19 L167.14 547.59 L167.64 547.95 L168.14 548.29 L168.64 548.59 L169.14 548.87 L169.64 549.13 L170.14 549.36 L170.64 549.58 L171.14 549.78 L171.64 549.95 L172.14 550.12 L172.64 550.27 L173.14 550.4 L173.64 550.53 L174.14 550.64 L174.64 550.75" fill="none" stroke="#1f0cff" stroke-width="1.25" stroke-linejoin="round"  stroke-dasharray="1.1 2.0" stroke-linecap="butt"/>
<path d="M128.8 545.29 L129.3 545.35 L129.8 545.41 L130.3 545.46 L130.8 545.52 L131.3 545.57 L131.8 545.62 L132.3 545.67 L132.8 545.72 L133.3 545.76 L133.8 545.8 L134.3 545.84 L134.8 545.87 L135.3 545.9 L135.8 545.93 L136.3 545.95 L136.8 545.97 L137.3 545.98 L137.8 545.98 L138.3 545.99 L138.8 545.99 L139.3 545.98 L139.8 545.97 L140.3 545.95 L140.8 545.93 L141.3 545.9 L141.8 545.86 L142.3 545.81 L142.8 545.76 L143.3 545.69 L143.8 545.62 L144.3 545.53 L144.8 545.44 L145.3 545.34 L145.8 545.22 L146.3 545.1 L146.8 544.96 L147.3 544.81 L147.8 544.65 L148.3 544.47 L148.8 544.29 L149.3 544.09 L149.8 543.88 L150.3 543.66 L150.8 543.43 L151.3 543.19 L151.8 542.94 L152.3 542.67 L152.8 542.4 L153.3 542.12 L153.8 541.83 L154.3 541.53 L154.8 541.23 L155.3 540.91 L155.8 540.6 L156.3 540.28 L156.8 539.96 L157.3 539.63 L157.8 539.31 L158.3 538.99 L158.8 538.67 L159.3 538.35 L159.8 538.04 L160.3 537.73 L160.8 537.43 L161.3 537.14 L161.8 536.87 L162.3 536.61 L162.8 536.37 L163.3 536.14 L163.8 535.93 L164.3 535.74 L164.8 535.57 L165.3 535.42 L165.8 535.29 L166.3 535.18 L166.8 535.1 L167.3 535.04 L167.8 535.01 L168.3 535 L168.8 535.01 L169.3 535.06 L169.8 535.12 L170.3 535.21 L170.8 535.33 L171.3 535.47 L171.8 535.63 L172.3 535.82 L172.8 536.03 L173.3 536.26 L173.8 536.51 L174.3 536.78 L174.8 537.07 L175.3 537.38 L175.8 537.7 L176.3 538.04 L176.8 538.4 L177.3 538.76 L177.8 539.14 L178.3 539.52 L178.8 539.92 L179.3 540.32 L179.8 540.73 L180.3 541.14 L180.8 541.55 L181.3 541.96 L181.8 542.38 L182.3 542.79 L182.8 543.2 L183.3 543.6 L183.8 544 L184.3 544.4 L184.8 544.79 L185.3 545.17 L185.8 545.54 L186.3 545.9 L186.8 546.25 L187.3 546.6 L187.8 546.93 L188.3 547.26 L188.8 547.57 L189.3 547.87 L189.8 548.16 L190.3 548.44 L190.8 548.71 L191.3 548.96 L191.8 549.21 L192.3 549.44 L192.8 549.67 L193.3 549.88 L193.8 550.08 L194.3 550.27 L194.8 550.46 L195.3 550.63 L195.8 550.8 L196.3 550.95 L196.8 551.1 L197.3 551.24 L197.8 551.38 L198.3 551.5 L198.8 551.62 L199.3 551.74 L199.8 551.85 L200.3 551.95 L200.8 552.05 L201.3 552.15 L201.8 552.24 L202.3 552.32 L202.8 552.41 L203.3 552.49 L203.8 552.56 L204.3 552.64 L204.8 552.71 L205.3 552.78 L205.8 552.85 L206.3 552.92 L206.8 552.98 L207.3 553.05 L207.8 553.11 L208.3 553.17 L208.8 553.23" fill="none" stroke="#1f0cff" stroke-width="1.25" stroke-linejoin="round"  stroke-dasharray="1.1 2.0" stroke-linecap="butt"/>
<path d="M73.6 541.33 L74.1 541.31 L74.6 541.28 L75.1 541.25 L75.6 541.22 L76.1 541.18 L76.6 541.13 L77.1 541.08 L77.6 541.02 L78.1 540.95 L78.6 540.87 L79.1 540.79 L79.6 540.69 L80.1 540.58 L80.6 540.46 L81.1 540.33 L81.6 540.19 L82.1 540.03 L82.6 539.85 L83.1 539.66 L83.6 539.45 L84.1 539.22 L84.6 538.97 L85.1 538.7 L85.6 538.41 L86.1 538.09 L86.6 537.75 L87.1 537.39 L87.6 537 L88.1 536.58 L88.6 536.14 L89.1 535.67 L89.6 535.16 L90.1 534.63 L90.6 534.07 L91.1 533.48 L91.6 532.86 L92.1 532.21 L92.6 531.52 L93.1 530.81 L93.6 530.07 L94.1 529.3 L94.6 528.51 L95.1 527.68 L95.6 526.84 L96.1 525.97 L96.6 525.08 L97.1 524.17 L97.6 523.24 L98.1 522.3 L98.6 521.35 L99.1 520.38 L99.6 519.42 L100.1 518.45 L100.6 517.48 L101.1 516.52 L101.6 515.57 L102.1 514.64 L102.6 513.72 L103.1 512.82 L103.6 511.95 L104.1 511.11 L104.6 510.3 L105.1 509.53 L105.6 508.8 L106.1 508.11 L106.6 507.47 L107.1 506.88 L107.6 506.35 L108.1 505.87 L108.6 505.44 L109.1 505.08 L109.6 504.79 L110.1 504.56 L110.6 504.39 L111.1 504.29 L111.6 504.26 L112.1 504.3 L112.6 504.4 L113.1 504.58 L113.6 504.82 L114.1 505.13 L114.6 505.51 L115.1 505.95 L115.6 506.45 L116.1 507.02 L116.6 507.64 L117.1 508.32 L117.6 509.05 L118.1 509.83 L118.6 510.65 L119.1 511.52 L119.6 512.43 L120.1 513.36 L120.6 514.33 L121.1 515.33 L121.6 516.35 L122.1 517.39 L122.6 518.44 L123.1 519.5 L123.6 520.57 L124.1 521.64 L124.6 522.71 L125.1 523.78 L125.6 524.83 L126.1 525.88 L126.6 526.92 L127.1 527.94 L127.6 528.94 L128.1 529.93 L128.6 530.88 L129.1 531.82 L129.6 532.73 L130.1 533.61 L130.6 534.46 L131.1 535.29 L131.6 536.08 L132.1 536.84 L132.6 537.58 L133.1 538.28 L133.6 538.95 L134.1 539.58 L134.6 540.19 L135.1 540.77 L135.6 541.31 L136.1 541.83 L136.6 542.32 L137.1 542.78 L137.6 543.21 L138.1 543.62 L138.6 544.01 L139.1 544.37 L139.6 544.71 L140.1 545.03 L140.6 545.33 L141.1 545.61 L141.6 545.88 L142.1 546.12 L142.6 546.35 L143.1 546.57 L143.6 546.77 L144.1 546.96 L144.6 547.14 L145.1 547.3 L145.6 547.46 L146.1 547.6 L146.6 547.74 L147.1 547.87 L147.6 547.99 L148.1 548.1 L148.6 548.21 L149.1 548.31 L149.6 548.41 L150.1 548.5" fill="none" stroke="#3a8a26" stroke-width="1.25" stroke-linejoin="round"  stroke-dasharray="1.1 2.0" stroke-linecap="butt"/>
<path d="M94.14 541.72 L94.64 541.66 L95.14 541.6 L95.64 541.52 L96.14 541.44 L96.64 541.34 L97.14 541.23 L97.64 541.1 L98.14 540.96 L98.64 540.79 L99.14 540.61 L99.64 540.41 L100.14 540.18 L100.64 539.93 L101.14 539.66 L101.64 539.36 L102.14 539.02 L102.64 538.66 L103.14 538.26 L103.64 537.83 L104.14 537.36 L104.64 536.85 L105.14 536.29 L105.64 535.68 L106.14 535.03 L106.64 534.33 L107.14 533.57 L107.64 532.75 L108.14 531.88 L108.64 530.94 L109.14 529.95 L109.64 528.88 L110.14 527.75 L110.64 526.56 L111.14 525.29 L111.64 523.96 L112.14 522.55 L112.64 521.07 L113.14 519.52 L113.64 517.9 L114.14 516.22 L114.64 514.46 L115.14 512.65 L115.64 510.76 L116.14 508.82 L116.64 506.83 L117.14 504.77 L117.64 502.67 L118.14 500.53 L118.64 498.34 L119.14 496.12 L119.64 493.87 L120.14 491.6 L120.64 489.32 L121.14 487.02 L121.64 484.73 L122.14 482.44 L122.64 480.17 L123.14 477.92 L123.64 475.71 L124.14 473.54 L124.64 471.41 L125.14 469.35 L125.64 467.35 L126.14 465.43 L126.64 463.6 L127.14 461.86 L127.64 460.22 L128.14 458.69 L128.64 457.27 L129.14 455.98 L129.64 454.82 L130.14 453.8 L130.64 452.91 L131.14 452.17 L131.64 451.58 L132.14 451.15 L132.64 450.87 L133.14 450.74 L133.64 450.77 L134.14 450.97 L134.64 451.31 L135.14 451.82 L135.64 452.47 L136.14 453.28 L136.64 454.23 L137.14 455.33 L137.64 456.56 L138.14 457.93 L138.64 459.43 L139.14 461.04 L139.64 462.77 L140.14 464.6 L140.64 466.53 L141.14 468.55 L141.64 470.65 L142.14 472.82 L142.64 475.05 L143.14 477.33 L143.64 479.66 L144.14 482.03 L144.64 484.43 L145.14 486.84 L145.64 489.26 L146.14 491.69 L146.64 494.11 L147.14 496.51 L147.64 498.9 L148.14 501.26 L148.64 503.59 L149.14 505.88 L149.64 508.12 L150.14 510.32 L150.64 512.46 L151.14 514.54 L151.64 516.57 L152.14 518.53 L152.64 520.42 L153.14 522.25 L153.64 524.01 L154.14 525.69 L154.64 527.31 L155.14 528.85 L155.64 530.33 L156.14 531.73 L156.64 533.06 L157.14 534.32 L157.64 535.52 L158.14 536.64 L158.64 537.7 L159.14 538.7 L159.64 539.64 L160.14 540.51 L160.64 541.33 L161.14 542.1 L161.64 542.81 L162.14 543.48 L162.64 544.1 L163.14 544.67 L163.64 545.2 L164.14 545.69 L164.64 546.14 L165.14 546.56 L165.64 546.95 L166.14 547.3 L166.64 547.62 L167.14 547.92 L167.64 548.2 L168.14 548.45 L168.64 548.68 L169.14 548.89 L169.64 549.08 L170.14 549.25 L170.64 549.41 L171.14 549.56 L171.64 549.69 L172.14 549.81 L172.64 549.93" fill="none" stroke="#3a8a26" stroke-width="1.25" stroke-linejoin="round"  stroke-dasharray="1.1 2.0" stroke-linecap="butt"/>
<path d="M126 545.55 L126.5 545.61 L127 545.67 L127.5 545.72 L128 545.77 L128.5 545.82 L129 545.86 L129.5 545.9 L130 545.94 L130.5 545.97 L131 546 L131.5 546.02 L132 546.04 L132.5 546.05 L133 546.05 L133.5 546.05 L134 546.04 L134.5 546.03 L135 546 L135.5 545.97 L136 545.93 L136.5 545.87 L137 545.81 L137.5 545.74 L138 545.65 L138.5 545.56 L139 545.45 L139.5 545.34 L140 545.21 L140.5 545.07 L141 544.91 L141.5 544.75 L142 544.56 L142.5 544.37 L143 544.16 L143.5 543.93 L144 543.69 L144.5 543.44 L145 543.17 L145.5 542.89 L146 542.59 L146.5 542.28 L147 541.95 L147.5 541.61 L148 541.25 L148.5 540.88 L149 540.5 L149.5 540.11 L150 539.71 L150.5 539.3 L151 538.88 L151.5 538.45 L152 538.01 L152.5 537.57 L153 537.13 L153.5 536.68 L154 536.24 L154.5 535.79 L155 535.35 L155.5 534.91 L156 534.47 L156.5 534.05 L157 533.63 L157.5 533.23 L158 532.83 L158.5 532.46 L159 532.1 L159.5 531.75 L160 531.43 L160.5 531.13 L161 530.85 L161.5 530.6 L162 530.37 L162.5 530.17 L163 530 L163.5 529.86 L164 529.75 L164.5 529.67 L165 529.63 L165.5 529.61 L166 529.63 L166.5 529.68 L167 529.76 L167.5 529.87 L168 530.02 L168.5 530.2 L169 530.4 L169.5 530.64 L170 530.9 L170.5 531.2 L171 531.52 L171.5 531.86 L172 532.23 L172.5 532.62 L173 533.03 L173.5 533.46 L174 533.9 L174.5 534.37 L175 534.84 L175.5 535.33 L176 535.83 L176.5 536.33 L177 536.84 L177.5 537.36 L178 537.88 L178.5 538.4 L179 538.92 L179.5 539.44 L180 539.95 L180.5 540.46 L181 540.96 L181.5 541.46 L182 541.95 L182.5 542.42 L183 542.89 L183.5 543.34 L184 543.78 L184.5 544.21 L185 544.63 L185.5 545.03 L186 545.42 L186.5 545.79 L187 546.15 L187.5 546.49 L188 546.82 L188.5 547.13 L189 547.43 L189.5 547.72 L190 547.99 L190.5 548.24 L191 548.49 L191.5 548.72 L192 548.93 L192.5 549.14 L193 549.33 L193.5 549.51 L194 549.68 L194.5 549.85 L195 550 L195.5 550.14 L196 550.27 L196.5 550.4 L197 550.52 L197.5 550.63 L198 550.73 L198.5 550.83 L199 550.92 L199.5 551.01 L200 551.09 L200.5 551.17 L201 551.25 L201.5 551.32 L202 551.39 L202.5 551.46 L203 551.53 L203.5 551.59 L204 551.66 L204.5 551.72 L205 551.78 L205.5 551.84 L206 551.9" fill="none" stroke="#3a8a26" stroke-width="1.25" stroke-linejoin="round"  stroke-dasharray="1.1 2.0" stroke-linecap="butt"/>
<path d="M73.6 540.46 L74.1 540.44 L74.6 540.42 L75.1 540.39 L75.6 540.36 L76.1 540.32 L76.6 540.28 L77.1 540.24 L77.6 540.18 L78.1 540.12 L78.6 540.06 L79.1 539.98 L79.6 539.89 L80.1 539.8 L80.6 539.69 L81.1 539.58 L81.6 539.45 L82.1 539.31 L82.6 539.15 L83.1 538.98 L83.6 538.79 L84.1 538.59 L84.6 538.37 L85.1 538.13 L85.6 537.86 L86.1 537.58 L86.6 537.28 L87.1 536.96 L87.6 536.61 L88.1 536.23 L88.6 535.84 L89.1 535.41 L89.6 534.96 L90.1 534.49 L90.6 533.99 L91.1 533.46 L91.6 532.9 L92.1 532.32 L92.6 531.71 L93.1 531.07 L93.6 530.41 L94.1 529.72 L94.6 529 L95.1 528.27 L95.6 527.51 L96.1 526.73 L96.6 525.93 L97.1 525.12 L97.6 524.29 L98.1 523.44 L98.6 522.59 L99.1 521.73 L99.6 520.86 L100.1 519.99 L100.6 519.13 L101.1 518.27 L101.6 517.42 L102.1 516.58 L102.6 515.76 L103.1 514.96 L103.6 514.18 L104.1 513.43 L104.6 512.71 L105.1 512.02 L105.6 511.36 L106.1 510.75 L106.6 510.18 L107.1 509.66 L107.6 509.18 L108.1 508.75 L108.6 508.38 L109.1 508.06 L109.6 507.8 L110.1 507.6 L110.6 507.46 L111.1 507.38 L111.6 507.35 L112.1 507.39 L112.6 507.5 L113.1 507.66 L113.6 507.89 L114.1 508.17 L114.6 508.52 L115.1 508.93 L115.6 509.39 L116.1 509.91 L116.6 510.48 L117.1 511.1 L117.6 511.77 L118.1 512.49 L118.6 513.24 L119.1 514.03 L119.6 514.86 L120.1 515.72 L120.6 516.6 L121.1 517.51 L121.6 518.44 L122.1 519.39 L122.6 520.35 L123.1 521.32 L123.6 522.3 L124.1 523.28 L124.6 524.25 L125.1 525.23 L125.6 526.2 L126.1 527.16 L126.6 528.1 L127.1 529.04 L127.6 529.95 L128.1 530.85 L128.6 531.73 L129.1 532.58 L129.6 533.41 L130.1 534.22 L130.6 535 L131.1 535.76 L131.6 536.49 L132.1 537.18 L132.6 537.86 L133.1 538.5 L133.6 539.11 L134.1 539.7 L134.6 540.25 L135.1 540.78 L135.6 541.28 L136.1 541.76 L136.6 542.21 L137.1 542.63 L137.6 543.03 L138.1 543.4 L138.6 543.76 L139.1 544.09 L139.6 544.41 L140.1 544.7 L140.6 544.98 L141.1 545.24 L141.6 545.48 L142.1 545.71 L142.6 545.92 L143.1 546.12 L143.6 546.31 L144.1 546.49 L144.6 546.65 L145.1 546.81 L145.6 546.95 L146.1 547.09 L146.6 547.22 L147.1 547.34 L147.6 547.45 L148.1 547.56 L148.6 547.66 L149.1 547.76 L149.6 547.85 L150.1 547.94" fill="none" stroke="#eea33c" stroke-width="1.25" stroke-linejoin="round"  stroke-dasharray="1.1 2.0" stroke-linecap="butt"/>
<path d="M94.64 540.89 L95.14 540.85 L95.64 540.79 L96.14 540.73 L96.64 540.65 L97.14 540.57 L97.64 540.47 L98.14 540.36 L98.64 540.23 L99.14 540.08 L99.64 539.92 L100.14 539.74 L100.64 539.54 L101.14 539.32 L101.64 539.07 L102.14 538.81 L102.64 538.51 L103.14 538.19 L103.64 537.83 L104.14 537.45 L104.64 537.02 L105.14 536.56 L105.64 536.07 L106.14 535.52 L106.64 534.94 L107.14 534.3 L107.64 533.62 L108.14 532.89 L108.64 532.1 L109.14 531.26 L109.64 530.36 L110.14 529.41 L110.64 528.39 L111.14 527.31 L111.64 526.17 L112.14 524.97 L112.64 523.7 L113.14 522.36 L113.64 520.97 L114.14 519.51 L114.64 517.99 L115.14 516.42 L115.64 514.78 L116.14 513.09 L116.64 511.34 L117.14 509.54 L117.64 507.69 L118.14 505.8 L118.64 503.87 L119.14 501.9 L119.64 499.91 L120.14 497.88 L120.64 495.84 L121.14 493.78 L121.64 491.72 L122.14 489.65 L122.64 487.6 L123.14 485.55 L123.64 483.53 L124.14 481.54 L124.64 479.59 L125.14 477.68 L125.64 475.82 L126.14 474.03 L126.64 472.31 L127.14 470.66 L127.64 469.09 L128.14 467.62 L128.64 466.25 L129.14 464.98 L129.64 463.83 L130.14 462.79 L130.64 461.87 L131.14 461.09 L131.64 460.43 L132.14 459.91 L132.64 459.53 L133.14 459.28 L133.64 459.18 L134.14 459.22 L134.64 459.4 L135.14 459.73 L135.64 460.19 L136.14 460.8 L136.64 461.54 L137.14 462.41 L137.64 463.41 L138.14 464.53 L138.64 465.78 L139.14 467.14 L139.64 468.61 L140.14 470.18 L140.64 471.85 L141.14 473.61 L141.64 475.44 L142.14 477.35 L142.64 479.32 L143.14 481.35 L143.64 483.43 L144.14 485.55 L144.64 487.7 L145.14 489.87 L145.64 492.06 L146.14 494.27 L146.64 496.47 L147.14 498.67 L147.64 500.85 L148.14 503.02 L148.64 505.16 L149.14 507.28 L149.64 509.35 L150.14 511.39 L150.64 513.38 L151.14 515.33 L151.64 517.22 L152.14 519.06 L152.64 520.84 L153.14 522.56 L153.64 524.22 L154.14 525.82 L154.64 527.35 L155.14 528.82 L155.64 530.22 L156.14 531.56 L156.64 532.83 L157.14 534.04 L157.64 535.19 L158.14 536.27 L158.64 537.29 L159.14 538.26 L159.64 539.17 L160.14 540.02 L160.64 540.81 L161.14 541.56 L161.64 542.26 L162.14 542.91 L162.64 543.51 L163.14 544.07 L163.64 544.59 L164.14 545.07 L164.64 545.52 L165.14 545.93 L165.64 546.31 L166.14 546.66 L166.64 546.98 L167.14 547.28 L167.64 547.55 L168.14 547.8 L168.64 548.03 L169.14 548.24 L169.64 548.43 L170.14 548.6 L170.64 548.76 L171.14 548.91 L171.64 549.04 L172.14 549.17 L172.64 549.28 L173.14 549.38" fill="none" stroke="#eea33c" stroke-width="1.25" stroke-linejoin="round"  stroke-dasharray="1.1 2.0" stroke-linecap="butt"/>
<path d="M126 544.8 L126.5 544.86 L127 544.92 L127.5 544.98 L128 545.03 L128.5 545.08 L129 545.13 L129.5 545.17 L130 545.21 L130.5 545.24 L131 545.27 L131.5 545.29 L132 545.3 L132.5 545.31 L133 545.31 L133.5 545.31 L134 545.29 L134.5 545.26 L135 545.23 L135.5 545.18 L136 545.12 L136.5 545.05 L137 544.97 L137.5 544.88 L138 544.77 L138.5 544.65 L139 544.52 L139.5 544.38 L140 544.22 L140.5 544.04 L141 543.85 L141.5 543.65 L142 543.42 L142.5 543.19 L143 542.93 L143.5 542.66 L144 542.37 L144.5 542.06 L145 541.73 L145.5 541.39 L146 541.03 L146.5 540.65 L147 540.26 L147.5 539.85 L148 539.42 L148.5 538.98 L149 538.53 L149.5 538.06 L150 537.58 L150.5 537.09 L151 536.58 L151.5 536.07 L152 535.55 L152.5 535.03 L153 534.5 L153.5 533.97 L154 533.43 L154.5 532.9 L155 532.37 L155.5 531.85 L156 531.33 L156.5 530.83 L157 530.33 L157.5 529.85 L158 529.38 L158.5 528.93 L159 528.5 L159.5 528.1 L160 527.71 L160.5 527.35 L161 527.02 L161.5 526.72 L162 526.45 L162.5 526.21 L163 526 L163.5 525.83 L164 525.69 L164.5 525.59 L165 525.53 L165.5 525.5 L166 525.52 L166.5 525.57 L167 525.66 L167.5 525.78 L168 525.94 L168.5 526.14 L169 526.38 L169.5 526.65 L170 526.95 L170.5 527.29 L171 527.66 L171.5 528.05 L172 528.48 L172.5 528.93 L173 529.41 L173.5 529.9 L174 530.42 L174.5 530.96 L175 531.51 L175.5 532.08 L176 532.66 L176.5 533.25 L177 533.84 L177.5 534.45 L178 535.05 L178.5 535.66 L179 536.27 L179.5 536.88 L180 537.48 L180.5 538.08 L181 538.67 L181.5 539.25 L182 539.83 L182.5 540.39 L183 540.93 L183.5 541.47 L184 541.99 L184.5 542.5 L185 542.99 L185.5 543.46 L186 543.92 L186.5 544.36 L187 544.78 L187.5 545.19 L188 545.58 L188.5 545.95 L189 546.31 L189.5 546.65 L190 546.97 L190.5 547.28 L191 547.57 L191.5 547.84 L192 548.1 L192.5 548.35 L193 548.58 L193.5 548.8 L194 549 L194.5 549.2 L195 549.38 L195.5 549.55 L196 549.71 L196.5 549.86 L197 550.01 L197.5 550.14 L198 550.27 L198.5 550.39 L199 550.5 L199.5 550.61 L200 550.71 L200.5 550.8 L201 550.89 L201.5 550.98 L202 551.06 L202.5 551.14 L203 551.22 L203.5 551.29 L204 551.36 L204.5 551.43 L205 551.5 L205.5 551.56 L206 551.62" fill="none" stroke="#eea33c" stroke-width="1.25" stroke-linejoin="round"  stroke-dasharray="1.1 2.0" stroke-linecap="butt"/>
<path d="M22.4 540.4 L22.9 540.41 L23.4 540.41 L23.9 540.42 L24.4 540.42 L24.9 540.43 L25.4 540.43 L25.9 540.44 L26.4 540.44 L26.9 540.45 L27.4 540.45 L27.9 540.46 L28.4 540.46 L28.9 540.47 L29.4 540.47 L29.9 540.48 L30.4 540.48 L30.9 540.48 L31.4 540.49 L31.9 540.49 L32.4 540.5 L32.9 540.5 L33.4 540.51 L33.9 540.51 L34.4 540.51 L34.9 540.52 L35.4 540.52 L35.9 540.53 L36.4 540.53 L36.9 540.53 L37.4 540.54 L37.9 540.54 L38.4 540.55 L38.9 540.55 L39.4 540.55 L39.9 540.56 L40.4 540.56 L40.9 540.57 L41.4 540.57 L41.9 540.58 L42.4 540.58 L42.9 540.58 L43.4 540.59 L43.9 540.59 L44.4 540.6 L44.9 540.6 L45.4 540.61 L45.9 540.61 L46.4 540.61 L46.9 540.62 L47.4 540.62 L47.9 540.63 L48.4 540.63 L48.9 540.64 L49.4 540.64 L49.9 540.65 L50.4 540.65 L50.9 540.66 L51.4 540.66 L51.9 540.67 L52.4 540.67 L52.9 540.68 L53.4 540.68 L53.9 540.69 L54.4 540.69 L54.9 540.7 L55.4 540.7 L55.9 540.71 L56.4 540.71 L56.9 540.72 L57.4 540.72 L57.9 540.73 L58.4 540.74 L58.9 540.74 L59.4 540.75 L59.9 540.75 L60.4 540.76 L60.9 540.77 L61.4 540.77 L61.9 540.78 L62.4 540.79 L62.9 540.79 L63.4 540.8 L63.9 540.81 L64.4 540.81 L64.9 540.82 L65.4 540.83 L65.9 540.83 L66.4 540.84 L66.9 540.85 L67.4 540.86 L67.9 540.87 L68.4 540.87 L68.9 540.88 L69.4 540.89 L69.9 540.9 L70.4 540.91 L70.9 540.92 L71.4 540.92 L71.9 540.93 L72.4 540.94 L72.9 540.95 L73.4 540.96 L73.9 540.98 L74.4 540.99 L74.9 541 L75.4 541.01 L75.9 541.02 L76.4 541.03 L76.9 541.05 L77.4 541.06 L77.9 541.07 L78.4 541.09 L78.9 541.1 L79.4 541.12 L79.9 541.13 L80.4 541.15 L80.9 541.16 L81.4 541.18 L81.9 541.19 L82.4 541.21 L82.9 541.23 L83.4 541.24 L83.9 541.26 L84.4 541.28 L84.9 541.3 L85.4 541.31 L85.9 541.33 L86.4 541.35 L86.9 541.37 L87.4 541.39 L87.9 541.41 L88.4 541.43 L88.9 541.45 L89.4 541.47 L89.9 541.49 L90.4 541.52 L90.9 541.54 L91.4 541.56 L91.9 541.58 L92.4 541.61 L92.9 541.63 L93.4 541.65 L93.9 541.68 L94.4 541.7 L94.9 541.73 L95.4 541.75 L95.9 541.78 L96.4 541.8 L96.9 541.83 L97.4 541.86 L97.9 541.88 L98.4 541.91 L98.9 541.94 L99.4 541.97 L99.9 541.99 L100.4 542.02 L100.9 542.06 L101.4 542.09 L101.9 542.13 L102.4 542.17 L102.9 542.21 L103.4 542.25 L103.9 542.3 L104.4 542.34 L104.9 542.39 L105.4 542.44 L105.9 542.49 L106.4 542.55 L106.9 542.6 L107.4 542.66 L107.9 542.71 L108.4 542.77 L108.9 542.83 L109.4 542.88 L109.9 542.94 L110.4 543 L110.9 543.06 L111.4 543.12 L111.9 543.17 L112.4 543.23 L112.9 543.29 L113.4 543.35 L113.9 543.4 L114.4 543.46 L114.9 543.52 L115.4 543.58 L115.9 543.64 L116.4 543.7 L116.9 543.77 L117.4 543.83 L117.9 543.89 L118.4 543.95 L118.9 544.02 L119.4 544.08 L119.9 544.15 L120.4 544.21 L120.9 544.28 L121.4 544.35 L121.9 544.41 L122.4 544.48 L122.9 544.55 L123.4 544.62 L123.9 544.69 L124.4 544.76 L124.9 544.83 L125.4 544.9 L125.9 544.97 L126.4 545.04 L126.9 545.11 L127.4 545.18 L127.9 545.25 L128.4 545.33 L128.9 545.4 L129.4 545.47 L129.9 545.54 L130.4 545.62 L130.9 545.69 L131.4 545.76 L131.9 545.84 L132.4 545.91 L132.9 545.99 L133.4 546.06 L133.9 546.14 L134.4 546.21 L134.9 546.29 L135.4 546.36 L135.9 546.43 L136.4 546.51 L136.9 546.58 L137.4 546.66 L137.9 546.74 L138.4 546.82 L138.9 546.9 L139.4 546.99 L139.9 547.07 L140.4 547.16 L140.9 547.25 L141.4 547.34 L141.9 547.43 L142.4 547.52 L142.9 547.61 L143.4 547.71 L143.9 547.8 L144.4 547.9 L144.9 547.99 L145.4 548.09 L145.9 548.19 L146.4 548.28 L146.9 548.38 L147.4 548.47 L147.9 548.57 L148.4 548.66 L148.9 548.76 L149.4 548.85 L149.9 548.94 L150.4 549.03 L150.9 549.12 L151.4 549.21 L151.9 549.3 L152.4 549.39 L152.9 549.47 L153.4 549.55 L153.9 549.63 L154.4 549.71 L154.9 549.79 L155.4 549.86 L155.9 549.93 L156.4 550 L156.9 550.06 L157.4 550.13 L157.9 550.19 L158.4 550.24 L158.9 550.3 L159.4 550.35 L159.9 550.39 L160.4 550.43 L160.9 550.48 L161.4 550.52 L161.9 550.56 L162.4 550.6 L162.9 550.63 L163.4 550.67 L163.9 550.71 L164.4 550.74 L164.9 550.77 L165.4 550.81 L165.9 550.84 L166.4 550.87 L166.9 550.9 L167.4 550.93 L167.9 550.96 L168.4 550.99 L168.9 551.02 L169.4 551.05 L169.9 551.08 L170.4 551.1 L170.9 551.13 L171.4 551.16 L171.9 551.18 L172.4 551.21 L172.9 551.23 L173.4 551.26 L173.9 551.29 L174.4 551.31 L174.9 551.34 L175.4 551.36 L175.9 551.39 L176.4 551.41 L176.9 551.44 L177.4 551.46 L177.9 551.49 L178.4 551.51 L178.9 551.54 L179.4 551.57 L179.9 551.59 L180.4 551.62 L180.9 551.65 L181.4 551.67 L181.9 551.7 L182.4 551.72 L182.9 551.75 L183.4 551.77 L183.9 551.8 L184.4 551.82 L184.9 551.84 L185.4 551.87 L185.9 551.89 L186.4 551.91 L186.9 551.93 L187.4 551.95 L187.9 551.98 L188.4 552 L188.9 552.02 L189.4 552.04 L189.9 552.07 L190.4 552.09 L190.9 552.11 L191.4 552.13 L191.9 552.16 L192.4 552.18 L192.9 552.2 L193.4 552.23 L193.9 552.25 L194.4 552.28 L194.9 552.3 L195.4 552.33 L195.9 552.35 L196.4 552.38 L196.9 552.41 L197.4 552.44 L197.9 552.47 L198.4 552.5 L198.9 552.53 L199.4 552.56 L199.9 552.59 L200.4 552.63 L200.9 552.66 L201.4 552.7 L201.9 552.73 L202.4 552.77 L202.9 552.81 L203.4 552.85 L203.9 552.89 L204.4 552.93 L204.9 552.97 L205.4 553.02 L205.9 553.06 L206.4 553.1 L206.9 553.15 L207.4 553.2 L207.9 553.24 L208.4 553.29 L208.9 553.34 L209.4 553.39 L209.9 553.44 L210.4 553.49 L210.9 553.54 L211.4 553.59 L211.9 553.65 L212.4 553.7 L212.9 553.76 L213.4 553.81 L213.9 553.87 L214.4 553.92 L214.9 553.98 L215.4 554.04 L215.9 554.1 L216.4 554.16 L216.9 554.22 L217.4 554.28 L217.9 554.34 L218.4 554.4 L218.9 554.46 L219.4 554.52 L219.9 554.59 L220.4 554.65 L220.9 554.72 L221.4 554.78 L221.9 554.85 L222.4 554.92 L222.9 555 L223.4 555.07 L223.9 555.15 L224.4 555.22 L224.9 555.3 L225.4 555.38 L225.9 555.46 L226.4 555.54 L226.9 555.63 L227.4 555.71 L227.9 555.79 L228.4 555.88 L228.9 555.97 L229.4 556.06 L229.9 556.15 L230.4 556.24 L230.9 556.33 L231.4 556.42 L231.9 556.51 L232.4 556.61 L232.9 556.7 L233.4 556.8 L233.9 556.89 L234.4 556.99 L234.9 557.09 L235.4 557.18 L235.9 557.28 L236.4 557.38 L236.9 557.48 L237.4 557.58 L237.9 557.68 L238.4 557.78 L238.9 557.88 L239.4 557.98 L239.9 558.08 L240.4 558.18 L240.9 558.29 L241.4 558.4 L241.9 558.51 L242.4 558.63 L242.9 558.75 L243.4 558.88 L243.9 559 L244.4 559.13 L244.9 559.26 L245.4 559.39 L245.9 559.52 L246.4 559.65 L246.9 559.78 L247.4 559.92 L247.9 560.05 L248.4 560.18 L248.9 560.3 L249.4 560.43 L249.9 560.55 L250.4 560.67 L250.9 560.79 L251.4 560.91 L251.9 561.02 L252.4 561.12 L252.9 561.23 L253.4 561.32 L253.9 561.42 L254.4 561.5 L254.9 561.58 L255.4 561.66 L255.9 561.74 L256.4 561.81 L256.9 561.89 L257.4 561.97 L257.9 562.04 L258.4 562.12 L258.9 562.19 L259.4 562.26 L259.9 562.33 L260.4 562.41 L260.9 562.47 L261.4 562.54 L261.9 562.61 L262.4 562.67 L262.9 562.73 L263.4 562.79 L263.9 562.85 L264.4 562.91 L264.9 562.96 L265.4 563.01 L265.9 563.05 L266.4 563.1 L266.9 563.14 L267.4 563.17 L267.9 563.21 L268.4 563.23 L268.9 563.26 L269.4 563.28 L269.9 563.3 L270.4 563.31 L270.9 563.32 L271.4 563.34 L271.9 563.35 L272.4 563.36 L272.9 563.38 L273.4 563.39 L273.9 563.4 L274.4 563.41 L274.9 563.42 L275.4 563.44 L275.9 563.45 L276.4 563.46 L276.9 563.47 L277.4 563.48 L277.9 563.49 L278.4 563.5 L278.9 563.51 L279.4 563.52 L279.9 563.53 L280.4 563.54 L280.9 563.55 L281.4 563.56 L281.9 563.57 L282.4 563.58 L282.9 563.59 L283.4 563.59 L283.9 563.6 L284.4 563.61 L284.9 563.62 L285.4 563.63 L285.9 563.63 L286.4 563.64 L286.9 563.65 L287.4 563.66 L287.9 563.66 L288.4 563.67 L288.9 563.68 L289.4 563.69 L289.9 563.69 L290.4 563.7 L290.9 563.71 L291.4 563.71 L291.9 563.72 L292.4 563.72 L292.9 563.73 L293.4 563.74 L293.9 563.74 L294.4 563.75 L294.9 563.75 L295.4 563.76 L295.9 563.76 L296.4 563.77 L296.9 563.77 L297.4 563.78 L297.9 563.78 L298.4 563.79 L298.9 563.79 L299.4 563.8 L299.9 563.8 L300.4 563.81 L300.9 563.81 L301.4 563.82 L301.9 563.82 L302.4 563.83 L302.9 563.83 L303.4 563.84 L303.9 563.84 L304.4 563.84 L304.9 563.85 L305.4 563.85 L305.9 563.86 L306.4 563.86 L306.9 563.87 L307.4 563.87 L307.9 563.87 L308.4 563.88 L308.9 563.88 L309.4 563.89 L309.9 563.89 L310.4 563.89 L310.9 563.9 L311.4 563.9 L311.9 563.91 L312.4 563.91 L312.9 563.91 L313.4 563.92 L313.9 563.92 L314.4 563.93 L314.9 563.93 L315.4 563.93 L315.9 563.94 L316.4 563.94 L316.9 563.95 L317.4 563.95 L317.9 563.95 L318.4 563.96 L318.9 563.96 L319.4 563.97 L319.9 563.97 L320.4 563.98 L320.9 563.98 L321.4 563.99 L321.9 563.99 L322.4 563.99 L322.9 564 L323.4 564 L323.9 564.01 L324.4 564.01 L324.9 564.02 L325.4 564.02 L325.9 564.03 L326.4 564.03 L326.9 564.04 L327.4 564.05 L327.9 564.05 L328.4 564.06 L328.9 564.06 L329.4 564.07 L329.9 564.07 L330.4 564.08 L330.9 564.09 L331.4 564.09" fill="none" stroke="#1f0cff" stroke-width="1.1" stroke-linejoin="round" stroke-linecap="round" />
<path d="M161.78 550.29 L162.28 550.3 L162.78 550.29 L163.28 550.29 L163.78 550.27 L164.28 550.26 L164.78 550.23 L165.28 550.19 L165.78 550.15 L166.28 550.1 L166.78 550.04 L167.28 549.97 L167.78 549.88 L168.28 549.79 L168.78 549.68 L169.28 549.55 L169.78 549.42 L170.28 549.26 L170.78 549.09 L171.28 548.9 L171.78 548.69 L172.28 548.45 L172.78 548.2 L173.28 547.92 L173.78 547.61 L174.28 547.28 L174.78 546.92 L175.28 546.53 L175.78 546.1 L176.28 545.64 L176.78 545.15 L177.28 544.62 L177.78 544.05 L178.28 543.44 L178.78 542.8 L179.28 542.1 L179.78 541.37 L180.28 540.58 L180.78 539.75 L181.28 538.87 L181.78 537.94 L182.28 536.96 L182.78 535.93 L183.28 534.85 L183.78 533.71 L184.28 532.52 L184.78 531.28 L185.28 529.98 L185.78 528.64 L186.28 527.24 L186.78 525.79 L187.28 524.3 L187.78 522.76 L188.28 521.17 L188.78 519.54 L189.28 517.87 L189.78 516.16 L190.28 514.42 L190.78 512.65 L191.28 510.85 L191.78 509.03 L192.28 507.19 L192.78 505.33 L193.28 503.47 L193.78 501.6 L194.28 499.73 L194.78 497.88 L195.28 496.03 L195.78 494.2 L196.28 492.4 L196.78 490.62 L197.28 488.88 L197.78 487.19 L198.28 485.54 L198.78 483.95 L199.28 482.42 L199.78 480.96 L200.28 479.57 L200.78 478.25 L201.28 477.02 L201.78 475.88 L202.28 474.83 L202.78 473.87 L203.28 473.02 L203.78 472.28 L204.28 471.64 L204.78 471.11 L205.28 470.7 L205.78 470.4 L206.28 470.21 L206.78 470.15 L207.28 470.2 L207.78 470.37 L208.28 470.66 L208.78 471.07 L209.28 471.59 L209.78 472.22 L210.28 472.96 L210.78 473.81 L211.28 474.77 L211.78 475.82 L212.28 476.98 L212.78 478.22 L213.28 479.55 L213.78 480.97 L214.28 482.46 L214.78 484.02 L215.28 485.65 L215.78 487.33 L216.28 489.08 L216.78 490.86 L217.28 492.69 L217.78 494.56 L218.28 496.46 L218.78 498.38 L219.28 500.31 L219.78 502.26 L220.28 504.22 L220.78 506.18 L221.28 508.13 L221.78 510.07 L222.28 512.01 L222.78 513.92 L223.28 515.81 L223.78 517.68 L224.28 519.52 L224.78 521.32 L225.28 523.09 L225.78 524.81 L226.28 526.5 L226.78 528.14 L227.28 529.74 L227.78 531.28 L228.28 532.78 L228.78 534.23 L229.28 535.63 L229.78 536.98 L230.28 538.28 L230.78 539.52 L231.28 540.72 L231.78 541.86 L232.28 542.95 L232.78 544 L233.28 544.99 L233.78 545.94 L234.28 546.84 L234.78 547.69 L235.28 548.5 L235.78 549.27 L236.28 550 L236.78 550.69 L237.28 551.34 L237.78 551.95 L238.28 552.53 L238.78 553.08 L239.28 553.59 L239.78 554.07 L240.28 554.53 L240.78 554.96 L241.28 555.38 L241.78 555.77 L242.28 556.14 L242.78 556.5 L243.28 556.84 L243.78 557.16 L244.28 557.47 L244.78 557.76 L245.28 558.04 L245.78 558.31 L246.28 558.56 L246.78 558.81 L247.28 559.04 L247.78 559.26 L248.28 559.47 L248.78 559.68 L249.28 559.87 L249.78 560.05 L250.28 560.23 L250.78 560.4 L251.28 560.55 L251.78 560.7" fill="none" stroke="#1f0cff" stroke-width="1.1" stroke-linejoin="round" stroke-linecap="round" />
<path d="M193.28 551.92 L193.78 551.89 L194.28 551.85 L194.78 551.8 L195.28 551.74 L195.78 551.67 L196.28 551.59 L196.78 551.49 L197.28 551.37 L197.78 551.23 L198.28 551.07 L198.78 550.89 L199.28 550.68 L199.78 550.44 L200.28 550.17 L200.78 549.86 L201.28 549.52 L201.78 549.13 L202.28 548.69 L202.78 548.2 L203.28 547.66 L203.78 547.06 L204.28 546.39 L204.78 545.66 L205.28 544.86 L205.78 543.98 L206.28 543.02 L206.78 541.98 L207.28 540.85 L207.78 539.62 L208.28 538.31 L208.78 536.89 L209.28 535.38 L209.78 533.77 L210.28 532.05 L210.78 530.23 L211.28 528.3 L211.78 526.28 L212.28 524.15 L212.78 521.93 L213.28 519.61 L213.78 517.2 L214.28 514.71 L214.78 512.14 L215.28 509.49 L215.78 506.79 L216.28 504.03 L216.78 501.24 L217.28 498.41 L217.78 495.56 L218.28 492.71 L218.78 489.86 L219.28 487.04 L219.78 484.26 L220.28 481.52 L220.78 478.86 L221.28 476.29 L221.78 473.81 L222.28 471.45 L222.78 469.22 L223.28 467.14 L223.78 465.22 L224.28 463.46 L224.78 461.9 L225.28 460.53 L225.78 459.36 L226.28 458.41 L226.78 457.68 L227.28 457.17 L227.78 456.9 L228.28 456.86 L228.78 457.06 L229.28 457.48 L229.78 458.14 L230.28 459.03 L230.78 460.14 L231.28 461.46 L231.78 462.98 L232.28 464.71 L232.78 466.61 L233.28 468.7 L233.78 470.94 L234.28 473.32 L234.78 475.84 L235.28 478.47 L235.78 481.21 L236.28 484.03 L236.78 486.91 L237.28 489.86 L237.78 492.84 L238.28 495.84 L238.78 498.86 L239.28 501.87 L239.78 504.86 L240.28 507.82 L240.78 510.75 L241.28 513.62 L241.78 516.44 L242.28 519.19 L242.78 521.87 L243.28 524.46 L243.78 526.97 L244.28 529.39 L244.78 531.7 L245.28 533.92 L245.78 536.03 L246.28 538.05 L246.78 539.95 L247.28 541.76 L247.78 543.46 L248.28 545.06 L248.78 546.56 L249.28 547.96 L249.78 549.27 L250.28 550.49 L250.78 551.62 L251.28 552.66 L251.78 553.63 L252.28 554.51 L252.78 555.33 L253.28 556.07 L253.78 556.75 L254.28 557.37 L254.78 557.93 L255.28 558.44 L255.78 558.9 L256.28 559.32 L256.78 559.71 L257.28 560.06 L257.78 560.38 L258.28 560.67 L258.78 560.93 L259.28 561.17 L259.78 561.39 L260.28 561.59 L260.78 561.77 L261.28 561.94 L261.78 562.09 L262.28 562.23 L262.78 562.35 L263.28 562.47" fill="none" stroke="#1f0cff" stroke-width="1.1" stroke-linejoin="round" stroke-linecap="round" />
<path d="M22.4 541 L22.9 541.01 L23.4 541.01 L23.9 541.02 L24.4 541.02 L24.9 541.03 L25.4 541.03 L25.9 541.04 L26.4 541.04 L26.9 541.05 L27.4 541.05 L27.9 541.06 L28.4 541.06 L28.9 541.07 L29.4 541.07 L29.9 541.08 L30.4 541.08 L30.9 541.08 L31.4 541.09 L31.9 541.09 L32.4 541.1 L32.9 541.1 L33.4 541.11 L33.9 541.11 L34.4 541.11 L34.9 541.12 L35.4 541.12 L35.9 541.13 L36.4 541.13 L36.9 541.13 L37.4 541.14 L37.9 541.14 L38.4 541.15 L38.9 541.15 L39.4 541.15 L39.9 541.16 L40.4 541.16 L40.9 541.17 L41.4 541.17 L41.9 541.18 L42.4 541.18 L42.9 541.18 L43.4 541.19 L43.9 541.19 L44.4 541.2 L44.9 541.2 L45.4 541.21 L45.9 541.21 L46.4 541.21 L46.9 541.22 L47.4 541.22 L47.9 541.23 L48.4 541.23 L48.9 541.24 L49.4 541.24 L49.9 541.25 L50.4 541.25 L50.9 541.26 L51.4 541.26 L51.9 541.27 L52.4 541.27 L52.9 541.28 L53.4 541.28 L53.9 541.29 L54.4 541.29 L54.9 541.3 L55.4 541.3 L55.9 541.31 L56.4 541.31 L56.9 541.32 L57.4 541.32 L57.9 541.33 L58.4 541.34 L58.9 541.34 L59.4 541.35 L59.9 541.35 L60.4 541.36 L60.9 541.37 L61.4 541.37 L61.9 541.38 L62.4 541.39 L62.9 541.39 L63.4 541.4 L63.9 541.41 L64.4 541.41 L64.9 541.42 L65.4 541.43 L65.9 541.43 L66.4 541.44 L66.9 541.45 L67.4 541.46 L67.9 541.47 L68.4 541.47 L68.9 541.48 L69.4 541.49 L69.9 541.5 L70.4 541.51 L70.9 541.52 L71.4 541.52 L71.9 541.53 L72.4 541.54 L72.9 541.55 L73.4 541.56 L73.9 541.58 L74.4 541.59 L74.9 541.6 L75.4 541.61 L75.9 541.62 L76.4 541.63 L76.9 541.65 L77.4 541.66 L77.9 541.67 L78.4 541.69 L78.9 541.7 L79.4 541.72 L79.9 541.73 L80.4 541.75 L80.9 541.76 L81.4 541.78 L81.9 541.79 L82.4 541.81 L82.9 541.83 L83.4 541.84 L83.9 541.86 L84.4 541.88 L84.9 541.9 L85.4 541.91 L85.9 541.93 L86.4 541.95 L86.9 541.97 L87.4 541.99 L87.9 542.01 L88.4 542.03 L88.9 542.05 L89.4 542.07 L89.9 542.09 L90.4 542.12 L90.9 542.14 L91.4 542.16 L91.9 542.18 L92.4 542.21 L92.9 542.23 L93.4 542.25 L93.9 542.28 L94.4 542.3 L94.9 542.33 L95.4 542.35 L95.9 542.38 L96.4 542.4 L96.9 542.43 L97.4 542.46 L97.9 542.48 L98.4 542.51 L98.9 542.54 L99.4 542.57 L99.9 542.59 L100.4 542.62 L100.9 542.66 L101.4 542.69 L101.9 542.73 L102.4 542.77 L102.9 542.81 L103.4 542.85 L103.9 542.9 L104.4 542.94 L104.9 542.99 L105.4 543.04 L105.9 543.09 L106.4 543.15 L106.9 543.2 L107.4 543.26 L107.9 543.31 L108.4 543.37 L108.9 543.43 L109.4 543.48 L109.9 543.54 L110.4 543.6 L110.9 543.66 L111.4 543.72 L111.9 543.77 L112.4 543.83 L112.9 543.89 L113.4 543.95 L113.9 544 L114.4 544.06 L114.9 544.13 L115.4 544.19 L115.9 544.25 L116.4 544.32 L116.9 544.38 L117.4 544.45 L117.9 544.51 L118.4 544.58 L118.9 544.65 L119.4 544.72 L119.9 544.79 L120.4 544.86 L120.9 544.93 L121.4 545 L121.9 545.07 L122.4 545.15 L122.9 545.22 L123.4 545.29 L123.9 545.37 L124.4 545.44 L124.9 545.51 L125.4 545.59 L125.9 545.66 L126.4 545.73 L126.9 545.81 L127.4 545.88 L127.9 545.96 L128.4 546.03 L128.9 546.1 L129.4 546.17 L129.9 546.25 L130.4 546.32 L130.9 546.39 L131.4 546.46 L131.9 546.53 L132.4 546.6 L132.9 546.67 L133.4 546.74 L133.9 546.8 L134.4 546.87 L134.9 546.94 L135.4 547 L135.9 547.06 L136.4 547.13 L136.9 547.19 L137.4 547.25 L137.9 547.31 L138.4 547.37 L138.9 547.43 L139.4 547.49 L139.9 547.55 L140.4 547.61 L140.9 547.68 L141.4 547.74 L141.9 547.8 L142.4 547.86 L142.9 547.92 L143.4 547.98 L143.9 548.04 L144.4 548.1 L144.9 548.16 L145.4 548.22 L145.9 548.28 L146.4 548.34 L146.9 548.39 L147.4 548.45 L147.9 548.51 L148.4 548.57 L148.9 548.62 L149.4 548.68 L149.9 548.73 L150.4 548.79 L150.9 548.84 L151.4 548.9 L151.9 548.95 L152.4 549 L152.9 549.06 L153.4 549.11 L153.9 549.16 L154.4 549.21 L154.9 549.26 L155.4 549.3 L155.9 549.35 L156.4 549.4 L156.9 549.44 L157.4 549.49 L157.9 549.53 L158.4 549.57 L158.9 549.61 L159.4 549.65 L159.9 549.69 L160.4 549.73 L160.9 549.77 L161.4 549.81 L161.9 549.84 L162.4 549.88 L162.9 549.92 L163.4 549.95 L163.9 549.99 L164.4 550.02 L164.9 550.06 L165.4 550.09 L165.9 550.12 L166.4 550.16 L166.9 550.19 L167.4 550.22 L167.9 550.25 L168.4 550.28 L168.9 550.31 L169.4 550.35 L169.9 550.38 L170.4 550.41 L170.9 550.43 L171.4 550.46 L171.9 550.49 L172.4 550.52 L172.9 550.55 L173.4 550.58 L173.9 550.6 L174.4 550.63 L174.9 550.65 L175.4 550.68 L175.9 550.71 L176.4 550.73 L176.9 550.76 L177.4 550.78 L177.9 550.8 L178.4 550.83 L178.9 550.85 L179.4 550.87 L179.9 550.9 L180.4 550.92 L180.9 550.94 L181.4 550.96 L181.9 550.98 L182.4 551 L182.9 551.01 L183.4 551.03 L183.9 551.05 L184.4 551.07 L184.9 551.08 L185.4 551.1 L185.9 551.11 L186.4 551.13 L186.9 551.14 L187.4 551.16 L187.9 551.17 L188.4 551.19 L188.9 551.2 L189.4 551.21 L189.9 551.23 L190.4 551.24 L190.9 551.26 L191.4 551.27 L191.9 551.29 L192.4 551.3 L192.9 551.32 L193.4 551.33 L193.9 551.35 L194.4 551.37 L194.9 551.38 L195.4 551.4 L195.9 551.42 L196.4 551.44 L196.9 551.46 L197.4 551.48 L197.9 551.5 L198.4 551.52 L198.9 551.55 L199.4 551.57 L199.9 551.59 L200.4 551.62 L200.9 551.65 L201.4 551.68 L201.9 551.71 L202.4 551.74 L202.9 551.78 L203.4 551.81 L203.9 551.85 L204.4 551.89 L204.9 551.93 L205.4 551.97 L205.9 552.02 L206.4 552.06 L206.9 552.1 L207.4 552.15 L207.9 552.2 L208.4 552.25 L208.9 552.3 L209.4 552.35 L209.9 552.4 L210.4 552.45 L210.9 552.51 L211.4 552.56 L211.9 552.62 L212.4 552.67 L212.9 552.73 L213.4 552.79 L213.9 552.85 L214.4 552.91 L214.9 552.97 L215.4 553.03 L215.9 553.09 L216.4 553.15 L216.9 553.21 L217.4 553.27 L217.9 553.33 L218.4 553.4 L218.9 553.46 L219.4 553.52 L219.9 553.59 L220.4 553.65 L220.9 553.72 L221.4 553.78 L221.9 553.85 L222.4 553.92 L222.9 554 L223.4 554.07 L223.9 554.15 L224.4 554.22 L224.9 554.3 L225.4 554.38 L225.9 554.46 L226.4 554.54 L226.9 554.63 L227.4 554.71 L227.9 554.79 L228.4 554.88 L228.9 554.97 L229.4 555.06 L229.9 555.15 L230.4 555.24 L230.9 555.33 L231.4 555.42 L231.9 555.51 L232.4 555.61 L232.9 555.7 L233.4 555.8 L233.9 555.89 L234.4 555.99 L234.9 556.09 L235.4 556.18 L235.9 556.28 L236.4 556.38 L236.9 556.48 L237.4 556.58 L237.9 556.68 L238.4 556.78 L238.9 556.88 L239.4 556.98 L239.9 557.08 L240.4 557.18 L240.9 557.29 L241.4 557.4 L241.9 557.51 L242.4 557.63 L242.9 557.75 L243.4 557.88 L243.9 558 L244.4 558.13 L244.9 558.26 L245.4 558.39 L245.9 558.52 L246.4 558.65 L246.9 558.78 L247.4 558.92 L247.9 559.05 L248.4 559.18 L248.9 559.3 L249.4 559.43 L249.9 559.55 L250.4 559.67 L250.9 559.79 L251.4 559.91 L251.9 560.02 L252.4 560.12 L252.9 560.23 L253.4 560.32 L253.9 560.42 L254.4 560.5 L254.9 560.58 L255.4 560.66 L255.9 560.74 L256.4 560.81 L256.9 560.89 L257.4 560.97 L257.9 561.04 L258.4 561.12 L258.9 561.19 L259.4 561.26 L259.9 561.33 L260.4 561.41 L260.9 561.47 L261.4 561.54 L261.9 561.61 L262.4 561.67 L262.9 561.73 L263.4 561.79 L263.9 561.85 L264.4 561.91 L264.9 561.96 L265.4 562.01 L265.9 562.05 L266.4 562.1 L266.9 562.14 L267.4 562.17 L267.9 562.21 L268.4 562.23 L268.9 562.26 L269.4 562.28 L269.9 562.3 L270.4 562.31 L270.9 562.32 L271.4 562.34 L271.9 562.35 L272.4 562.36 L272.9 562.38 L273.4 562.39 L273.9 562.4 L274.4 562.41 L274.9 562.42 L275.4 562.44 L275.9 562.45 L276.4 562.46 L276.9 562.47 L277.4 562.48 L277.9 562.49 L278.4 562.5 L278.9 562.51 L279.4 562.52 L279.9 562.53 L280.4 562.54 L280.9 562.55 L281.4 562.56 L281.9 562.57 L282.4 562.58 L282.9 562.59 L283.4 562.59 L283.9 562.6 L284.4 562.61 L284.9 562.62 L285.4 562.63 L285.9 562.63 L286.4 562.64 L286.9 562.65 L287.4 562.66 L287.9 562.66 L288.4 562.67 L288.9 562.68 L289.4 562.69 L289.9 562.69 L290.4 562.7 L290.9 562.71 L291.4 562.71 L291.9 562.72 L292.4 562.72 L292.9 562.73 L293.4 562.74 L293.9 562.74 L294.4 562.75 L294.9 562.75 L295.4 562.76 L295.9 562.76 L296.4 562.77 L296.9 562.77 L297.4 562.78 L297.9 562.78 L298.4 562.79 L298.9 562.79 L299.4 562.8 L299.9 562.8 L300.4 562.81 L300.9 562.81 L301.4 562.82 L301.9 562.82 L302.4 562.83 L302.9 562.83 L303.4 562.84 L303.9 562.84 L304.4 562.84 L304.9 562.85 L305.4 562.85 L305.9 562.86 L306.4 562.86 L306.9 562.87 L307.4 562.87 L307.9 562.87 L308.4 562.88 L308.9 562.88 L309.4 562.89 L309.9 562.89 L310.4 562.89 L310.9 562.9 L311.4 562.9 L311.9 562.91 L312.4 562.91 L312.9 562.91 L313.4 562.92 L313.9 562.92 L314.4 562.93 L314.9 562.93 L315.4 562.93 L315.9 562.94 L316.4 562.94 L316.9 562.95 L317.4 562.95 L317.9 562.95 L318.4 562.96 L318.9 562.96 L319.4 562.97 L319.9 562.97 L320.4 562.98 L320.9 562.98 L321.4 562.99 L321.9 562.99 L322.4 562.99 L322.9 563 L323.4 563 L323.9 563.01 L324.4 563.01 L324.9 563.02 L325.4 563.02 L325.9 563.03 L326.4 563.03 L326.9 563.04 L327.4 563.05 L327.9 563.05 L328.4 563.06 L328.9 563.06 L329.4 563.07 L329.9 563.07 L330.4 563.08 L330.9 563.09 L331.4 563.09" fill="none" stroke="#3a8a26" stroke-width="1.1" stroke-linejoin="round" stroke-linecap="round" />
<path d="M157.8 549.35 L158.3 549.37 L158.8 549.38 L159.3 549.39 L159.8 549.4 L160.3 549.4 L160.8 549.39 L161.3 549.38 L161.8 549.37 L162.3 549.34 L162.8 549.31 L163.3 549.28 L163.8 549.23 L164.3 549.18 L164.8 549.11 L165.3 549.04 L165.8 548.96 L166.3 548.86 L166.8 548.75 L167.3 548.63 L167.8 548.49 L168.3 548.33 L168.8 548.16 L169.3 547.97 L169.8 547.76 L170.3 547.54 L170.8 547.29 L171.3 547.01 L171.8 546.72 L172.3 546.4 L172.8 546.05 L173.3 545.67 L173.8 545.27 L174.3 544.84 L174.8 544.38 L175.3 543.88 L175.8 543.35 L176.3 542.79 L176.8 542.2 L177.3 541.56 L177.8 540.9 L178.3 540.19 L178.8 539.45 L179.3 538.68 L179.8 537.86 L180.3 537.01 L180.8 536.12 L181.3 535.19 L181.8 534.23 L182.3 533.23 L182.8 532.2 L183.3 531.13 L183.8 530.03 L184.3 528.9 L184.8 527.74 L185.3 526.56 L185.8 525.35 L186.3 524.12 L186.8 522.87 L187.3 521.61 L187.8 520.33 L188.3 519.04 L188.8 517.75 L189.3 516.46 L189.8 515.17 L190.3 513.89 L190.8 512.62 L191.3 511.36 L191.8 510.12 L192.3 508.91 L192.8 507.72 L193.3 506.56 L193.8 505.45 L194.3 504.37 L194.8 503.34 L195.3 502.36 L195.8 501.44 L196.3 500.57 L196.8 499.76 L197.3 499.02 L197.8 498.34 L198.3 497.74 L198.8 497.21 L199.3 496.76 L199.8 496.39 L200.3 496.09 L200.8 495.88 L201.3 495.75 L201.8 495.71 L202.3 495.75 L202.8 495.88 L203.3 496.09 L203.8 496.38 L204.3 496.75 L204.8 497.21 L205.3 497.74 L205.8 498.35 L206.3 499.03 L206.8 499.79 L207.3 500.61 L207.8 501.49 L208.3 502.44 L208.8 503.45 L209.3 504.51 L209.8 505.62 L210.3 506.77 L210.8 507.96 L211.3 509.19 L211.8 510.46 L212.3 511.75 L212.8 513.06 L213.3 514.4 L213.8 515.74 L214.3 517.1 L214.8 518.47 L215.3 519.83 L215.8 521.2 L216.3 522.56 L216.8 523.91 L217.3 525.24 L217.8 526.57 L218.3 527.87 L218.8 529.15 L219.3 530.41 L219.8 531.64 L220.3 532.85 L220.8 534.02 L221.3 535.17 L221.8 536.28 L222.3 537.36 L222.8 538.41 L223.3 539.43 L223.8 540.4 L224.3 541.35 L224.8 542.26 L225.3 543.13 L225.8 543.96 L226.3 544.77 L226.8 545.53 L227.3 546.26 L227.8 546.96 L228.3 547.63 L228.8 548.26 L229.3 548.87 L229.8 549.44 L230.3 549.98 L230.8 550.5 L231.3 550.99 L231.8 551.45 L232.3 551.89 L232.8 552.3 L233.3 552.69 L233.8 553.06 L234.3 553.41 L234.8 553.75 L235.3 554.06 L235.8 554.36 L236.3 554.64 L236.8 554.9 L237.3 555.16 L237.8 555.4 L238.3 555.62 L238.8 555.84 L239.3 556.05 L239.8 556.24 L240.3 556.43 L240.8 556.62 L241.3 556.8 L241.8 556.97 L242.3 557.15 L242.8 557.32 L243.3 557.49 L243.8 557.66 L244.3 557.82 L244.8 557.99 L245.3 558.15 L245.8 558.3" fill="none" stroke="#3a8a26" stroke-width="1.1" stroke-linejoin="round" stroke-linecap="round" />
<path d="M189.16 550.82 L189.66 550.77 L190.16 550.71 L190.66 550.64 L191.16 550.55 L191.66 550.45 L192.16 550.33 L192.66 550.19 L193.16 550.04 L193.66 549.86 L194.16 549.65 L194.66 549.42 L195.16 549.16 L195.66 548.86 L196.16 548.52 L196.66 548.14 L197.16 547.72 L197.66 547.25 L198.16 546.72 L198.66 546.14 L199.16 545.49 L199.66 544.78 L200.16 543.99 L200.66 543.13 L201.16 542.19 L201.66 541.16 L202.16 540.05 L202.66 538.83 L203.16 537.52 L203.66 536.1 L204.16 534.58 L204.66 532.94 L205.16 531.19 L205.66 529.32 L206.16 527.33 L206.66 525.22 L207.16 522.99 L207.66 520.64 L208.16 518.16 L208.66 515.57 L209.16 512.86 L209.66 510.04 L210.16 507.11 L210.66 504.08 L211.16 500.96 L211.66 497.75 L212.16 494.46 L212.66 491.11 L213.16 487.71 L213.66 484.26 L214.16 480.79 L214.66 477.3 L215.16 473.82 L215.66 470.35 L216.16 466.92 L216.66 463.55 L217.16 460.24 L217.66 457.02 L218.16 453.91 L218.66 450.92 L219.16 448.07 L219.66 445.39 L220.16 442.87 L220.66 440.55 L221.16 438.44 L221.66 436.55 L222.16 434.89 L222.66 433.47 L223.16 432.31 L223.66 431.41 L224.16 430.78 L224.66 430.42 L225.16 430.34 L225.66 430.54 L226.16 431.01 L226.66 431.76 L227.16 432.77 L227.66 434.05 L228.16 435.58 L228.66 437.36 L229.16 439.37 L229.66 441.61 L230.16 444.05 L230.66 446.69 L231.16 449.51 L231.66 452.48 L232.16 455.61 L232.66 458.86 L233.16 462.22 L233.66 465.67 L234.16 469.19 L234.66 472.77 L235.16 476.39 L235.66 480.03 L236.16 483.68 L236.66 487.31 L237.16 490.92 L237.66 494.49 L238.16 498.01 L238.66 501.46 L239.16 504.84 L239.66 508.13 L240.16 511.33 L240.66 514.43 L241.16 517.43 L241.66 520.32 L242.16 523.1 L242.66 525.76 L243.16 528.3 L243.66 530.72 L244.16 533.03 L244.66 535.21 L245.16 537.27 L245.66 539.21 L246.16 541.03 L246.66 542.75 L247.16 544.35 L247.66 545.85 L248.16 547.24 L248.66 548.53 L249.16 549.73 L249.66 550.84 L250.16 551.86 L250.66 552.81 L251.16 553.67 L251.66 554.47 L252.16 555.19 L252.66 555.85 L253.16 556.45 L253.66 557 L254.16 557.49 L254.66 557.94 L255.16 558.34 L255.66 558.7 L256.16 559.04 L256.66 559.34 L257.16 559.61 L257.66 559.86 L258.16 560.09 L258.66 560.3 L259.16 560.5 L259.66 560.67 L260.16 560.83 L260.66 560.98 L261.16 561.12" fill="none" stroke="#3a8a26" stroke-width="1.1" stroke-linejoin="round" stroke-linecap="round" />
<path d="M22.4 540.1 L22.9 540.11 L23.4 540.11 L23.9 540.12 L24.4 540.12 L24.9 540.13 L25.4 540.13 L25.9 540.14 L26.4 540.14 L26.9 540.15 L27.4 540.15 L27.9 540.16 L28.4 540.16 L28.9 540.17 L29.4 540.17 L29.9 540.18 L30.4 540.18 L30.9 540.18 L31.4 540.19 L31.9 540.19 L32.4 540.2 L32.9 540.2 L33.4 540.21 L33.9 540.21 L34.4 540.21 L34.9 540.22 L35.4 540.22 L35.9 540.23 L36.4 540.23 L36.9 540.23 L37.4 540.24 L37.9 540.24 L38.4 540.25 L38.9 540.25 L39.4 540.25 L39.9 540.26 L40.4 540.26 L40.9 540.27 L41.4 540.27 L41.9 540.28 L42.4 540.28 L42.9 540.28 L43.4 540.29 L43.9 540.29 L44.4 540.3 L44.9 540.3 L45.4 540.31 L45.9 540.31 L46.4 540.31 L46.9 540.32 L47.4 540.32 L47.9 540.33 L48.4 540.33 L48.9 540.34 L49.4 540.34 L49.9 540.35 L50.4 540.35 L50.9 540.36 L51.4 540.36 L51.9 540.37 L52.4 540.37 L52.9 540.38 L53.4 540.38 L53.9 540.39 L54.4 540.39 L54.9 540.4 L55.4 540.4 L55.9 540.41 L56.4 540.41 L56.9 540.42 L57.4 540.42 L57.9 540.43 L58.4 540.44 L58.9 540.44 L59.4 540.45 L59.9 540.45 L60.4 540.46 L60.9 540.47 L61.4 540.47 L61.9 540.48 L62.4 540.49 L62.9 540.49 L63.4 540.5 L63.9 540.51 L64.4 540.51 L64.9 540.52 L65.4 540.53 L65.9 540.53 L66.4 540.54 L66.9 540.55 L67.4 540.56 L67.9 540.57 L68.4 540.57 L68.9 540.58 L69.4 540.59 L69.9 540.6 L70.4 540.61 L70.9 540.62 L71.4 540.62 L71.9 540.63 L72.4 540.64 L72.9 540.65 L73.4 540.66 L73.9 540.68 L74.4 540.69 L74.9 540.7 L75.4 540.71 L75.9 540.72 L76.4 540.73 L76.9 540.75 L77.4 540.76 L77.9 540.77 L78.4 540.79 L78.9 540.8 L79.4 540.82 L79.9 540.83 L80.4 540.85 L80.9 540.86 L81.4 540.88 L81.9 540.89 L82.4 540.91 L82.9 540.93 L83.4 540.94 L83.9 540.96 L84.4 540.98 L84.9 541 L85.4 541.01 L85.9 541.03 L86.4 541.05 L86.9 541.07 L87.4 541.09 L87.9 541.11 L88.4 541.13 L88.9 541.15 L89.4 541.17 L89.9 541.19 L90.4 541.22 L90.9 541.24 L91.4 541.26 L91.9 541.28 L92.4 541.31 L92.9 541.33 L93.4 541.35 L93.9 541.38 L94.4 541.4 L94.9 541.43 L95.4 541.45 L95.9 541.48 L96.4 541.5 L96.9 541.53 L97.4 541.56 L97.9 541.58 L98.4 541.61 L98.9 541.64 L99.4 541.67 L99.9 541.69 L100.4 541.72 L100.9 541.76 L101.4 541.79 L101.9 541.83 L102.4 541.87 L102.9 541.91 L103.4 541.95 L103.9 541.99 L104.4 542.04 L104.9 542.09 L105.4 542.14 L105.9 542.19 L106.4 542.24 L106.9 542.29 L107.4 542.35 L107.9 542.4 L108.4 542.46 L108.9 542.52 L109.4 542.58 L109.9 542.63 L110.4 542.69 L110.9 542.75 L111.4 542.81 L111.9 542.87 L112.4 542.93 L112.9 542.99 L113.4 543.05 L113.9 543.11 L114.4 543.17 L114.9 543.24 L115.4 543.3 L115.9 543.37 L116.4 543.44 L116.9 543.51 L117.4 543.58 L117.9 543.65 L118.4 543.73 L118.9 543.8 L119.4 543.88 L119.9 543.96 L120.4 544.03 L120.9 544.11 L121.4 544.19 L121.9 544.27 L122.4 544.35 L122.9 544.43 L123.4 544.51 L123.9 544.6 L124.4 544.68 L124.9 544.76 L125.4 544.84 L125.9 544.92 L126.4 545.01 L126.9 545.09 L127.4 545.17 L127.9 545.25 L128.4 545.33 L128.9 545.41 L129.4 545.49 L129.9 545.57 L130.4 545.65 L130.9 545.73 L131.4 545.81 L131.9 545.88 L132.4 545.96 L132.9 546.03 L133.4 546.11 L133.9 546.18 L134.4 546.25 L134.9 546.32 L135.4 546.39 L135.9 546.46 L136.4 546.52 L136.9 546.59 L137.4 546.65 L137.9 546.71 L138.4 546.78 L138.9 546.84 L139.4 546.9 L139.9 546.96 L140.4 547.03 L140.9 547.09 L141.4 547.15 L141.9 547.21 L142.4 547.27 L142.9 547.33 L143.4 547.39 L143.9 547.45 L144.4 547.51 L144.9 547.57 L145.4 547.63 L145.9 547.69 L146.4 547.75 L146.9 547.81 L147.4 547.87 L147.9 547.92 L148.4 547.98 L148.9 548.04 L149.4 548.09 L149.9 548.15 L150.4 548.2 L150.9 548.25 L151.4 548.31 L151.9 548.36 L152.4 548.41 L152.9 548.46 L153.4 548.51 L153.9 548.56 L154.4 548.61 L154.9 548.66 L155.4 548.71 L155.9 548.75 L156.4 548.8 L156.9 548.84 L157.4 548.89 L157.9 548.93 L158.4 548.97 L158.9 549.01 L159.4 549.05 L159.9 549.09 L160.4 549.13 L160.9 549.17 L161.4 549.2 L161.9 549.24 L162.4 549.28 L162.9 549.31 L163.4 549.35 L163.9 549.38 L164.4 549.41 L164.9 549.45 L165.4 549.48 L165.9 549.51 L166.4 549.54 L166.9 549.57 L167.4 549.6 L167.9 549.63 L168.4 549.66 L168.9 549.69 L169.4 549.72 L169.9 549.75 L170.4 549.78 L170.9 549.81 L171.4 549.83 L171.9 549.86 L172.4 549.89 L172.9 549.92 L173.4 549.94 L173.9 549.97 L174.4 550 L174.9 550.03 L175.4 550.05 L175.9 550.08 L176.4 550.11 L176.9 550.13 L177.4 550.16 L177.9 550.19 L178.4 550.21 L178.9 550.24 L179.4 550.27 L179.9 550.29 L180.4 550.32 L180.9 550.35 L181.4 550.37 L181.9 550.4 L182.4 550.42 L182.9 550.45 L183.4 550.47 L183.9 550.5 L184.4 550.52 L184.9 550.54 L185.4 550.57 L185.9 550.59 L186.4 550.61 L186.9 550.63 L187.4 550.65 L187.9 550.68 L188.4 550.7 L188.9 550.72 L189.4 550.74 L189.9 550.77 L190.4 550.79 L190.9 550.81 L191.4 550.83 L191.9 550.86 L192.4 550.88 L192.9 550.9 L193.4 550.93 L193.9 550.95 L194.4 550.98 L194.9 551 L195.4 551.03 L195.9 551.05 L196.4 551.08 L196.9 551.11 L197.4 551.14 L197.9 551.17 L198.4 551.2 L198.9 551.23 L199.4 551.26 L199.9 551.29 L200.4 551.33 L200.9 551.36 L201.4 551.4 L201.9 551.43 L202.4 551.47 L202.9 551.51 L203.4 551.55 L203.9 551.59 L204.4 551.63 L204.9 551.67 L205.4 551.72 L205.9 551.76 L206.4 551.8 L206.9 551.85 L207.4 551.9 L207.9 551.94 L208.4 551.99 L208.9 552.04 L209.4 552.09 L209.9 552.14 L210.4 552.19 L210.9 552.24 L211.4 552.29 L211.9 552.35 L212.4 552.4 L212.9 552.46 L213.4 552.51 L213.9 552.57 L214.4 552.62 L214.9 552.68 L215.4 552.74 L215.9 552.8 L216.4 552.86 L216.9 552.92 L217.4 552.98 L217.9 553.04 L218.4 553.1 L218.9 553.16 L219.4 553.22 L219.9 553.29 L220.4 553.35 L220.9 553.42 L221.4 553.48 L221.9 553.55 L222.4 553.62 L222.9 553.7 L223.4 553.77 L223.9 553.85 L224.4 553.92 L224.9 554 L225.4 554.08 L225.9 554.16 L226.4 554.24 L226.9 554.33 L227.4 554.41 L227.9 554.49 L228.4 554.58 L228.9 554.67 L229.4 554.76 L229.9 554.85 L230.4 554.94 L230.9 555.03 L231.4 555.12 L231.9 555.21 L232.4 555.31 L232.9 555.4 L233.4 555.5 L233.9 555.59 L234.4 555.69 L234.9 555.79 L235.4 555.88 L235.9 555.98 L236.4 556.08 L236.9 556.18 L237.4 556.28 L237.9 556.38 L238.4 556.48 L238.9 556.58 L239.4 556.68 L239.9 556.78 L240.4 556.88 L240.9 556.99 L241.4 557.1 L241.9 557.21 L242.4 557.33 L242.9 557.45 L243.4 557.58 L243.9 557.7 L244.4 557.83 L244.9 557.96 L245.4 558.09 L245.9 558.22 L246.4 558.35 L246.9 558.48 L247.4 558.62 L247.9 558.75 L248.4 558.88 L248.9 559 L249.4 559.13 L249.9 559.25 L250.4 559.37 L250.9 559.49 L251.4 559.61 L251.9 559.72 L252.4 559.82 L252.9 559.93 L253.4 560.02 L253.9 560.12 L254.4 560.2 L254.9 560.28 L255.4 560.36 L255.9 560.44 L256.4 560.51 L256.9 560.59 L257.4 560.67 L257.9 560.74 L258.4 560.82 L258.9 560.89 L259.4 560.96 L259.9 561.03 L260.4 561.11 L260.9 561.17 L261.4 561.24 L261.9 561.31 L262.4 561.37 L262.9 561.43 L263.4 561.49 L263.9 561.55 L264.4 561.61 L264.9 561.66 L265.4 561.71 L265.9 561.75 L266.4 561.8 L266.9 561.84 L267.4 561.87 L267.9 561.91 L268.4 561.93 L268.9 561.96 L269.4 561.98 L269.9 562 L270.4 562.01 L270.9 562.02 L271.4 562.04 L271.9 562.05 L272.4 562.06 L272.9 562.08 L273.4 562.09 L273.9 562.1 L274.4 562.11 L274.9 562.12 L275.4 562.14 L275.9 562.15 L276.4 562.16 L276.9 562.17 L277.4 562.18 L277.9 562.19 L278.4 562.2 L278.9 562.21 L279.4 562.22 L279.9 562.23 L280.4 562.24 L280.9 562.25 L281.4 562.26 L281.9 562.27 L282.4 562.28 L282.9 562.29 L283.4 562.29 L283.9 562.3 L284.4 562.31 L284.9 562.32 L285.4 562.33 L285.9 562.33 L286.4 562.34 L286.9 562.35 L287.4 562.36 L287.9 562.36 L288.4 562.37 L288.9 562.38 L289.4 562.39 L289.9 562.39 L290.4 562.4 L290.9 562.41 L291.4 562.41 L291.9 562.42 L292.4 562.42 L292.9 562.43 L293.4 562.44 L293.9 562.44 L294.4 562.45 L294.9 562.45 L295.4 562.46 L295.9 562.46 L296.4 562.47 L296.9 562.47 L297.4 562.48 L297.9 562.48 L298.4 562.49 L298.9 562.49 L299.4 562.5 L299.9 562.5 L300.4 562.51 L300.9 562.51 L301.4 562.52 L301.9 562.52 L302.4 562.53 L302.9 562.53 L303.4 562.54 L303.9 562.54 L304.4 562.54 L304.9 562.55 L305.4 562.55 L305.9 562.56 L306.4 562.56 L306.9 562.57 L307.4 562.57 L307.9 562.57 L308.4 562.58 L308.9 562.58 L309.4 562.59 L309.9 562.59 L310.4 562.59 L310.9 562.6 L311.4 562.6 L311.9 562.61 L312.4 562.61 L312.9 562.61 L313.4 562.62 L313.9 562.62 L314.4 562.63 L314.9 562.63 L315.4 562.63 L315.9 562.64 L316.4 562.64 L316.9 562.65 L317.4 562.65 L317.9 562.65 L318.4 562.66 L318.9 562.66 L319.4 562.67 L319.9 562.67 L320.4 562.68 L320.9 562.68 L321.4 562.69 L321.9 562.69 L322.4 562.69 L322.9 562.7 L323.4 562.7 L323.9 562.71 L324.4 562.71 L324.9 562.72 L325.4 562.72 L325.9 562.73 L326.4 562.73 L326.9 562.74 L327.4 562.75 L327.9 562.75 L328.4 562.76 L328.9 562.76 L329.4 562.77 L329.9 562.77 L330.4 562.78 L330.9 562.79 L331.4 562.79" fill="none" stroke="#eea33c" stroke-width="1.1" stroke-linejoin="round" stroke-linecap="round" />
<path d="M160.28 548.87 L160.78 548.87 L161.28 548.87 L161.78 548.86 L162.28 548.85 L162.78 548.83 L163.28 548.8 L163.78 548.77 L164.28 548.72 L164.78 548.67 L165.28 548.61 L165.78 548.54 L166.28 548.46 L166.78 548.37 L167.28 548.26 L167.78 548.14 L168.28 548 L168.78 547.85 L169.28 547.68 L169.78 547.49 L170.28 547.28 L170.78 547.05 L171.28 546.8 L171.78 546.52 L172.28 546.22 L172.78 545.89 L173.28 545.53 L173.78 545.14 L174.28 544.71 L174.78 544.26 L175.28 543.77 L175.78 543.24 L176.28 542.67 L176.78 542.06 L177.28 541.41 L177.78 540.72 L178.28 539.99 L178.78 539.2 L179.28 538.37 L179.78 537.49 L180.28 536.57 L180.78 535.59 L181.28 534.56 L181.78 533.47 L182.28 532.34 L182.78 531.15 L183.28 529.91 L183.78 528.62 L184.28 527.27 L184.78 525.87 L185.28 524.43 L185.78 522.93 L186.28 521.39 L186.78 519.8 L187.28 518.17 L187.78 516.5 L188.28 514.8 L188.78 513.05 L189.28 511.28 L189.78 509.48 L190.28 507.66 L190.78 505.82 L191.28 503.96 L191.78 502.1 L192.28 500.23 L192.78 498.36 L193.28 496.5 L193.78 494.65 L194.28 492.82 L194.78 491.02 L195.28 489.24 L195.78 487.5 L196.28 485.8 L196.78 484.16 L197.28 482.56 L197.78 481.03 L198.28 479.56 L198.78 478.17 L199.28 476.85 L199.78 475.62 L200.28 474.47 L200.78 473.42 L201.28 472.46 L201.78 471.61 L202.28 470.86 L202.78 470.22 L203.28 469.69 L203.78 469.27 L204.28 468.97 L204.78 468.78 L205.28 468.72 L205.78 468.77 L206.28 468.94 L206.78 469.22 L207.28 469.62 L207.78 470.14 L208.28 470.77 L208.78 471.51 L209.28 472.36 L209.78 473.31 L210.28 474.37 L210.78 475.52 L211.28 476.76 L211.78 478.09 L212.28 479.5 L212.78 480.99 L213.28 482.55 L213.78 484.17 L214.28 485.86 L214.78 487.6 L215.28 489.39 L215.78 491.22 L216.28 493.08 L216.78 494.97 L217.28 496.89 L217.78 498.83 L218.28 500.78 L218.78 502.73 L219.28 504.68 L219.78 506.63 L220.28 508.57 L220.78 510.5 L221.28 512.41 L221.78 514.3 L222.28 516.16 L222.78 517.99 L223.28 519.79 L223.78 521.55 L224.28 523.28 L224.78 524.96 L225.28 526.59 L225.78 528.19 L226.28 529.73 L226.78 531.23 L227.28 532.67 L227.78 534.07 L228.28 535.42 L228.78 536.71 L229.28 537.95 L229.78 539.14 L230.28 540.28 L230.78 541.37 L231.28 542.42 L231.78 543.41 L232.28 544.35 L232.78 545.25 L233.28 546.1 L233.78 546.91 L234.28 547.68 L234.78 548.41 L235.28 549.09 L235.78 549.74 L236.28 550.35 L236.78 550.93 L237.28 551.48 L237.78 551.99 L238.28 552.47 L238.78 552.93 L239.28 553.36 L239.78 553.76 L240.28 554.14 L240.78 554.5 L241.28 554.85 L241.78 555.18 L242.28 555.49 L242.78 555.79 L243.28 556.08 L243.78 556.35 L244.28 556.62 L244.78 556.87 L245.28 557.11 L245.78 557.34 L246.28 557.57 L246.78 557.78 L247.28 557.99 L247.78 558.18 L248.28 558.37 L248.78 558.56 L249.28 558.73 L249.78 558.9 L250.28 559.06" fill="none" stroke="#eea33c" stroke-width="1.1" stroke-linejoin="round" stroke-linecap="round" />
<path d="M188.96 550.37 L189.46 550.33 L189.96 550.28 L190.46 550.22 L190.96 550.15 L191.46 550.07 L191.96 549.97 L192.46 549.85 L192.96 549.71 L193.46 549.56 L193.96 549.37 L194.46 549.17 L194.96 548.93 L195.46 548.66 L195.96 548.36 L196.46 548.02 L196.96 547.64 L197.46 547.21 L197.96 546.73 L198.46 546.2 L198.96 545.61 L199.46 544.95 L199.96 544.23 L200.46 543.44 L200.96 542.58 L201.46 541.63 L201.96 540.6 L202.46 539.49 L202.96 538.27 L203.46 536.96 L203.96 535.56 L204.46 534.04 L204.96 532.42 L205.46 530.69 L205.96 528.85 L206.46 526.9 L206.96 524.83 L207.46 522.65 L207.96 520.36 L208.46 517.96 L208.96 515.45 L209.46 512.83 L209.96 510.12 L210.46 507.31 L210.96 504.41 L211.46 501.44 L211.96 498.39 L212.46 495.29 L212.96 492.13 L213.46 488.94 L213.96 485.72 L214.46 482.48 L214.96 479.25 L215.46 476.04 L215.96 472.86 L216.46 469.73 L216.96 466.67 L217.46 463.69 L217.96 460.81 L218.46 458.04 L218.96 455.4 L219.46 452.91 L219.96 450.59 L220.46 448.44 L220.96 446.48 L221.46 444.73 L221.96 443.2 L222.46 441.89 L222.96 440.82 L223.46 439.99 L223.96 439.41 L224.46 439.08 L224.96 439.01 L225.46 439.2 L225.96 439.64 L226.46 440.34 L226.96 441.28 L227.46 442.48 L227.96 443.9 L228.46 445.56 L228.96 447.43 L229.46 449.51 L229.96 451.78 L230.46 454.24 L230.96 456.85 L231.46 459.62 L231.96 462.52 L232.46 465.55 L232.96 468.67 L233.46 471.88 L233.96 475.15 L234.46 478.48 L234.96 481.84 L235.46 485.22 L235.96 488.61 L236.46 491.99 L236.96 495.34 L237.46 498.66 L237.96 501.93 L238.46 505.14 L238.96 508.28 L239.46 511.34 L239.96 514.31 L240.46 517.2 L240.96 519.98 L241.46 522.67 L241.96 525.25 L242.46 527.73 L242.96 530.1 L243.46 532.35 L243.96 534.49 L244.46 536.52 L244.96 538.44 L245.46 540.25 L245.96 541.96 L246.46 543.55 L246.96 545.05 L247.46 546.45 L247.96 547.75 L248.46 548.96 L248.96 550.08 L249.46 551.12 L249.96 552.08 L250.46 552.96 L250.96 553.77 L251.46 554.52 L251.96 555.2 L252.46 555.82 L252.96 556.39 L253.46 556.91 L253.96 557.37 L254.46 557.8 L254.96 558.18 L255.46 558.52 L255.96 558.83 L256.46 559.12 L256.96 559.38 L257.46 559.62 L257.96 559.84 L258.46 560.04 L258.96 560.22 L259.46 560.39 L259.96 560.54 L260.46 560.69 L260.96 560.82" fill="none" stroke="#eea33c" stroke-width="1.1" stroke-linejoin="round" stroke-linecap="round" />
<path d="M22.4 541.36 L24 541.07 L25.6 541.33 L27.2 540.56 L28.8 541.74 L30.4 541.99 L32 541.66 L33.6 540.51 L35.2 541.07 L36.8 540.75 L38.4 540.51 L40 542.01 L41.6 542.4 L43.2 540.38 L44.8 541.76 L46.4 541.47 L48 540.91 L49.6 540.58 L51.2 541.37 L52.8 541.03 L54.4 541.46 L56 541.48 L57.6 540.31 L59.2 541.45 L60.8 542.13 L62.4 542.14 L64 541.2 L65.6 539.58 L67.2 538.95 L68.8 538.89 L70.4 540.35 L72 538.86 L73.6 538.25 L75.2 538.82 L76.8 537.13 L78.4 536.77 L80 535.83 L81.6 534.13 L83.2 534.15 L84.8 533.84 L86.4 531.24 L88 529.57 L89.6 528.13 L91.2 525.38 L92.8 524.14 L94.4 522.7 L96 519.95 L97.6 516.98 L99.2 515.03 L100.8 511.04 L102.4 509.04 L104 505.91 L105.6 503.27 L107.2 498.96 L108.8 496.71 L110.4 491.81 L112 487.88 L113.6 485.11 L115.2 480.96 L116.8 474.72 L118.4 469.13 L120 463.41 L121.6 458.42 L123.2 454.59 L124.8 449.72 L126.4 445.54 L128 442.29 L129.6 438.67 L131.2 437.43 L132.8 436.31 L134.4 437.84 L136 440.73 L137.6 444.81 L139.2 449.79 L140.8 453.51 L142.4 459.57 L144 463.79 L145.6 468.59 L147.2 473.27 L148.8 479.51 L150.4 485.49 L152 490.42 L153.6 496.51 L155.2 501.18 L156.8 504.54 L158.4 508.86 L160 513.21 L161.6 515.12 L163.2 517.55 L164.8 518.45 L166.4 520.54 L168 520.96 L169.6 520.57 L171.2 520.08 L172.8 519.75 L174.4 518.48 L176 516.72 L177.6 514.15 L179.2 512.55 L180.8 511.4 L182.4 507.73 L184 503.71 L185.6 500.19 L187.2 497.73 L188.8 492.56 L190.4 487.68 L192 482.77 L193.6 478.83 L195.2 475.7 L196.8 470.41 L198.4 465.65 L200 460.78 L201.6 455.73 L203.2 450.08 L204.8 445 L206.4 439.93 L208 433.59 L209.6 426.91 L211.2 422.2 L212.8 419.4 L214.4 415.09 L216 412.84 L217.6 412.4 L219.2 412.11 L220.8 410.93 L222.4 408.8 L224 409.42 L225.6 410.96 L227.2 415.21 L228.8 420.65 L230.4 422.95 L232 426.44 L233.6 429.59 L235.2 435.04 L236.8 440.42 L238.4 450.08 L240 458.17 L241.6 467.1 L243.2 476.79 L244.8 487.13 L246.4 500.53 L248 511.65 L249.6 523.2 L251.2 532.41 L252.8 537.99 L254.4 543.56 L256 547.7 L257.6 551.6 L259.2 554.04 L260.8 555.64 L262.4 559.12 L264 560.5 L265.6 560.5 L267.2 561.52 L268.8 561.96 L270.4 561.99 L272 562.06 L273.6 562.84 L275.2 562.96 L276.8 562.49 L278.4 562.72 L280 563.4 L281.6 563.57 L283.2 562.73 L284.8 563.47 L286.4 564.24 L288 564.42 L289.6 564 L291.2 562.66 L292.8 563.2 L294.4 562.59 L296 562.42 L297.6 562.84 L299.2 563.39 L300.8 564.18 L302.4 564.07 L304 563.3 L305.6 564.07 L307.2 563.82 L308.8 563.78 L310.4 563.25 L312 563.55 L313.6 563.4 L315.2 564.23 L316.8 563.87 L318.4 563.73 L320 563.78 L321.6 563.81 L323.2 564.29 L324.8 564.47 L326.4 564.7 L328 563.89 L329.6 564.6 L331.2 565.14" fill="none" stroke="#1f0cff" stroke-width="2.8" stroke-linejoin="round" stroke-linecap="round" />
<path d="M22.4 540.49 L24 540.7 L25.6 541.54 L27.2 540.69 L28.8 540.61 L30.4 540.77 L32 539.91 L33.6 540.45 L35.2 540.82 L36.8 541.25 L38.4 539.79 L40 539.96 L41.6 539.52 L43.2 541.01 L44.8 541.04 L46.4 539.61 L48 541.39 L49.6 541.69 L51.2 541.06 L52.8 540.84 L54.4 539.78 L56 539.24 L57.6 540.25 L59.2 539.41 L60.8 539.49 L62.4 539.48 L64 538.8 L65.6 539.35 L67.2 539.11 L68.8 539.64 L70.4 538.65 L72 538.23 L73.6 537.28 L75.2 536.85 L76.8 535.68 L78.4 534.39 L80 535 L81.6 534.32 L83.2 532.94 L84.8 531.34 L86.4 528.95 L88 526.72 L89.6 524.58 L91.2 521.73 L92.8 520.72 L94.4 517.58 L96 515.61 L97.6 511.85 L99.2 510.06 L100.8 507.21 L102.4 502.43 L104 499.39 L105.6 497.5 L107.2 493.11 L108.8 490.14 L110.4 484.91 L112 479.61 L113.6 475.87 L115.2 470.94 L116.8 463.87 L118.4 457.09 L120 451.43 L121.6 447.21 L123.2 442.23 L124.8 437 L126.4 434.21 L128 431.93 L129.6 430.42 L131.2 431.22 L132.8 430.73 L134.4 432.89 L136 437.89 L137.6 444.68 L139.2 451.65 L140.8 456.37 L142.4 463.2 L144 468.11 L145.6 474.36 L147.2 479.74 L148.8 485.37 L150.4 492.21 L152 497.41 L153.6 501.21 L155.2 506.23 L156.8 508.33 L158.4 511.32 L160 514.21 L161.6 515.09 L163.2 514.77 L164.8 517.07 L166.4 515.85 L168 515.64 L169.6 516.66 L171.2 515.79 L172.8 515.34 L174.4 514.02 L176 512.68 L177.6 512.15 L179.2 509.83 L180.8 508.62 L182.4 505.8 L184 502.95 L185.6 500.76 L187.2 495.83 L188.8 490.96 L190.4 486.47 L192 480.29 L193.6 475.81 L195.2 473.6 L196.8 470.05 L198.4 465.06 L200 460.61 L201.6 457.19 L203.2 452.88 L204.8 446.08 L206.4 441.94 L208 436.03 L209.6 428.78 L211.2 422.25 L212.8 417.15 L214.4 413.35 L216 412.47 L217.6 409.1 L219.2 408.32 L220.8 406.14 L222.4 406 L224 406.48 L225.6 409.91 L227.2 416.83 L228.8 422.95 L230.4 424.9 L232 428.64 L233.6 435.25 L235.2 443.8 L236.8 451.78 L238.4 458.98 L240 468.49 L241.6 476.32 L243.2 486.61 L244.8 498.76 L246.4 510.8 L248 520.91 L249.6 529.95 L251.2 538.1 L252.8 544.45 L254.4 548.4 L256 552.41 L257.6 555.82 L259.2 557.96 L260.8 558.75 L262.4 559.8 L264 560.31 L265.6 559.69 L267.2 559.56 L268.8 559.71 L270.4 561.89 L272 562.02 L273.6 562.76 L275.2 560.94 L276.8 562.01 L278.4 561.94 L280 562.5 L281.6 561.73 L283.2 563.1 L284.8 561.36 L286.4 562.07 L288 562.65 L289.6 563.15 L291.2 562.9 L292.8 562.8 L294.4 562.99 L296 563.31 L297.6 562.14 L299.2 562.66 L300.8 563.24 L302.4 563.31 L304 562.33 L305.6 562.96 L307.2 563.26 L308.8 562.69 L310.4 562.7 L312 562.17 L313.6 562.51 L315.2 562.65 L316.8 561.52 L318.4 562.53 L320 563.52 L321.6 563.48 L323.2 563.14 L324.8 562.34 L326.4 562.95 L328 562.74 L329.6 562.4 L331.2 563.22" fill="none" stroke="#3a8a26" stroke-width="2.8" stroke-linejoin="round" stroke-linecap="round" />
<path d="M22.4 540.14 L24 540.53 L25.6 540.62 L27.2 539.48 L28.8 538.96 L30.4 539.65 L32 539.56 L33.6 540.72 L35.2 540.68 L36.8 540.48 L38.4 540.34 L40 540.53 L41.6 539.43 L43.2 539.85 L44.8 539.32 L46.4 540.85 L48 539.28 L49.6 540.63 L51.2 539.26 L52.8 540.32 L54.4 539.75 L56 539.77 L57.6 540.73 L59.2 539.09 L60.8 538.83 L62.4 540.55 L64 539.83 L65.6 538.56 L67.2 540.04 L68.8 540 L70.4 537.81 L72 537.59 L73.6 536.38 L75.2 535.95 L76.8 535.94 L78.4 534.31 L80 534.46 L81.6 532.3 L83.2 531.26 L84.8 531.48 L86.4 529.43 L88 527.52 L89.6 525.74 L91.2 523.21 L92.8 520.59 L94.4 517.26 L96 515.93 L97.6 513.96 L99.2 511.41 L100.8 508.07 L102.4 504.49 L104 501.36 L105.6 498.75 L107.2 495.28 L108.8 490.29 L110.4 486.37 L112 482.5 L113.6 478.41 L115.2 474.11 L116.8 468.25 L118.4 462.35 L120 459.51 L121.6 455 L123.2 451.64 L124.8 448.2 L126.4 446.25 L128 444.38 L129.6 443.73 L131.2 440.38 L132.8 440.02 L134.4 441.13 L136 447.52 L137.6 451.94 L139.2 456.99 L140.8 461.76 L142.4 467.1 L144 471.02 L145.6 477.25 L147.2 482.54 L148.8 488.09 L150.4 493.68 L152 499.87 L153.6 503.52 L155.2 507.98 L156.8 509.64 L158.4 513.51 L160 514 L161.6 514.5 L163.2 516.41 L164.8 517.45 L166.4 515.74 L168 516.06 L169.6 517.26 L171.2 516.28 L172.8 514.99 L174.4 513.22 L176 512.07 L177.6 512.14 L179.2 511.72 L180.8 509.98 L182.4 506.15 L184 501.53 L185.6 498.18 L187.2 494.64 L188.8 489.67 L190.4 483.93 L192 478.04 L193.6 474.11 L195.2 469.85 L196.8 465.71 L198.4 459.88 L200 454.81 L201.6 447.91 L203.2 439.47 L204.8 434.67 L206.4 431.62 L208 425.11 L209.6 420.91 L211.2 415.86 L212.8 412.34 L214.4 409.23 L216 405.52 L217.6 402.96 L219.2 400.44 L220.8 401.11 L222.4 402.1 L224 400.15 L225.6 410.13 L227.2 419.97 L228.8 424.57 L230.4 429.38 L232 437.59 L233.6 445.31 L235.2 453.74 L236.8 462.08 L238.4 470.01 L240 478.2 L241.6 487.72 L243.2 499.04 L244.8 510.77 L246.4 521.44 L248 530.67 L249.6 538.82 L251.2 544.77 L252.8 550.28 L254.4 553.48 L256 554.24 L257.6 557.13 L259.2 559.14 L260.8 560.04 L262.4 560.89 L264 561.31 L265.6 560.79 L267.2 561.44 L268.8 560.85 L270.4 560.26 L272 560.83 L273.6 560.97 L275.2 562.45 L276.8 562.28 L278.4 561.96 L280 562.11 L281.6 561.07 L283.2 561.78 L284.8 562.32 L286.4 561.77 L288 561.35 L289.6 561.64 L291.2 561.53 L292.8 562.32 L294.4 561.3 L296 560.99 L297.6 561.43 L299.2 562.37 L300.8 562.71 L302.4 562.57 L304 563.16 L305.6 562.03 L307.2 561.08 L308.8 561.9 L310.4 561.98 L312 561.42 L313.6 562.39 L315.2 561.87 L316.8 561.55 L318.4 561.69 L320 563.08 L321.6 561.31 L323.2 561.74 L324.8 561.66 L326.4 561.48 L328 561.96 L329.6 561.6 L331.2 563.08" fill="none" stroke="#eea33c" stroke-width="2.8" stroke-linejoin="round" stroke-linecap="round" />
</g>
<rect x="22.4" y="392.4" width="309.4" height="181" fill="none" stroke="#8c8c8c" stroke-width="1"/>
<text x="37.9" y="584.3" font-size="9.8" fill="#1a1a1a" text-anchor="middle" font-weight="normal" >200.0</text>
<text x="76.7" y="584.3" font-size="9.8" fill="#1a1a1a" text-anchor="middle" font-weight="normal" >197.5</text>
<text x="115.5" y="584.3" font-size="9.8" fill="#1a1a1a" text-anchor="middle" font-weight="normal" >195.0</text>
<text x="154.3" y="584.3" font-size="9.8" fill="#1a1a1a" text-anchor="middle" font-weight="normal" >192.5</text>
<text x="193.1" y="584.3" font-size="9.8" fill="#1a1a1a" text-anchor="middle" font-weight="normal" >190.0</text>
<text x="231.9" y="584.3" font-size="9.8" fill="#1a1a1a" text-anchor="middle" font-weight="normal" >187.5</text>
<text x="270.7" y="584.3" font-size="9.8" fill="#1a1a1a" text-anchor="middle" font-weight="normal" >185.0</text>
<text x="309.5" y="584.3" font-size="9.8" fill="#1a1a1a" text-anchor="middle" font-weight="normal" >182.5</text>
<path d="M37.3 573.4 V575 M76.1 573.4 V575 M114.9 573.4 V575 M153.7 573.4 V575 M192.5 573.4 V575 M231.3 573.4 V575 M270.1 573.4 V575 M308.9 573.4 V575" stroke="#8c8c8c" stroke-width="1" fill="none"/>
<text x="177" y="595.2" font-size="9.95" fill="#1a1a1a" text-anchor="middle" font-weight="normal" >Binding energy, eV</text>
<text x="0" y="0" font-size="10.55" fill="#1a1a1a" text-anchor="start" font-weight="normal" transform="translate(18.1 574) rotate(-90)">Normalized photoelectron count, a.u.</text>
<text x="-0.7" y="393.4" font-size="19" fill="#1a1a1a" text-anchor="start" font-weight="normal" >b)</text>
<line x1="25.3" y1="400.7" x2="43" y2="400.7" stroke="#1f0cff" stroke-width="2"/>
<line x1="25.3" y1="410.2" x2="43" y2="410.2" stroke="#3a8a26" stroke-width="2"/>
<line x1="25.3" y1="419.7" x2="43" y2="419.7" stroke="#eea33c" stroke-width="2"/>
<text x="48.7" y="403.1" font-size="6.85" fill="#151515" ><tspan>W</tspan><tspan font-size="4.0" dy="1.2">0.8</tspan><tspan dy="-1.2">Ta</tspan><tspan font-size="4.0" dy="1.2">0.2</tspan><tspan dy="-1.2">B</tspan><tspan font-size="4.0" dy="1.2">5-x</tspan></text>
<text x="48.7" y="412.6" font-size="6.85" fill="#151515" ><tspan>W</tspan><tspan font-size="4.0" dy="1.2">0.6</tspan><tspan dy="-1.2">Ta</tspan><tspan font-size="4.0" dy="1.2">0.4</tspan><tspan dy="-1.2">B</tspan><tspan font-size="4.0" dy="1.2">5-x</tspan></text>
<text x="48.7" y="422.1" font-size="6.85" fill="#151515" ><tspan>W</tspan><tspan font-size="4.0" dy="1.2">0.4</tspan><tspan dy="-1.2">Ta</tspan><tspan font-size="4.0" dy="1.2">0.6</tspan><tspan dy="-1.2">B</tspan><tspan font-size="4.0" dy="1.2">5-x</tspan></text>
<text x="328.3" y="405.8" font-size="11.9" fill="#111" text-anchor="end" font-weight="bold" >B1s</text>
<text x="117.5" y="404.4" font-size="9.4" fill="#222" text-anchor="start" font-weight="normal" >Interfacial</text>
<text x="119.3" y="415.1" font-size="9.4" fill="#222" text-anchor="start" font-weight="normal" >suboxide</text>
<path d="M116.3 416.6 L160.3 416.6 L168.1 521.2" fill="none" stroke="#111" stroke-width="1.1"/>
<text x="91.2" y="428.7" font-size="9.4" fill="#222" ><tspan>B</tspan><tspan font-size="5.0" dy="1.8">x</tspan><tspan dy="-1.8">O</tspan><tspan font-size="5.0" dy="1.8">y</tspan><tspan dy="-1.8"> I</tspan></text>
<path d="M87.8 432.3 L117.1 432.3 L127.3 451" fill="none" stroke="#111" stroke-width="1.1"/>
<text x="72" y="480.7" font-size="9.4" fill="#222" ><tspan>B</tspan><tspan font-size="5.0" dy="1.8">x</tspan><tspan dy="-1.8">O</tspan><tspan font-size="5.0" dy="1.8">y</tspan><tspan dy="-1.8"> II</tspan></text>
<path d="M70 484.2 L98.1 484.2 L109.1 503.6" fill="none" stroke="#111" stroke-width="1.1"/>
<text x="177.7" y="420.6" font-size="9.4" fill="#222" text-anchor="start" font-weight="normal" >B-B</text>
<path d="M173 422.6 L194.8 422.6 L204.4 466" fill="none" stroke="#111" stroke-width="1.1"/>
<text x="238.4" y="406.4" font-size="9.4" fill="#222" text-anchor="start" font-weight="normal" >Me*-B</text>
<path d="M265.9 408.6 L237.2 408.6 L226.3 427.6" fill="none" stroke="#111" stroke-width="1.1"/>
<text x="255.8" y="538.8" font-size="9.3" fill="#222" text-anchor="start" font-weight="normal" >Me*=W, Ta or mix</text>
<g clip-path="url(#cc)">
<path d="M365 535.1 L365.5 535.1 L366 535.1 L366.5 535.1 L367 535.1 L367.5 535.1 L368 535.1 L368.5 535.1 L369 535.1 L369.5 535.1 L370 535.1 L370.5 535.1 L371 535.1 L371.5 535.1 L372 535.1 L372.5 535.1 L373 535.1 L373.5 535.1 L374 535.1 L374.5 535.1 L375 535.1 L375.5 535.1 L376 535.1 L376.5 535.1 L377 535.1 L377.5 535.1 L378 535.1 L378.5 535.1 L379 535.1 L379.5 535.1 L380 535.1 L380.5 535.1 L381 535.1 L381.5 535.1 L382 535.1 L382.5 535.1 L383 535.1 L383.5 535.1 L384 535.1 L384.5 535.1 L385 535.1 L385.5 535.1 L386 535.1 L386.5 535.1 L387 535.1 L387.5 535.1 L388 535.1 L388.5 535.1 L389 535.1 L389.5 535.1 L390 535.1 L390.5 535.1 L391 535.1 L391.5 535.1 L392 535.1 L392.5 535.1 L393 535.1 L393.5 535.1 L394 535.1 L394.5 535.1 L395 535.1 L395.5 535.1 L396 535.1 L396.5 535.1 L397 535.1 L397.5 535.1 L398 535.1 L398.5 535.1 L399 535.1 L399.5 535.1 L400 535.1 L400.5 535.1 L401 535.1 L401.5 535.1 L402 535.1 L402.5 535.1 L403 535.1 L403.5 535.1 L404 535.1 L404.5 535.1 L405 535.1 L405.5 535.1 L406 535.1 L406.5 535.1 L407 535.1 L407.5 535.1 L408 535.1 L408.5 535.1 L409 535.1 L409.5 535.1 L410 535.1 L410.5 535.1 L411 535.1 L411.5 535.1 L412 535.1 L412.5 535.1 L413 535.1 L413.5 535.1 L414 535.1 L414.5 535.1 L415 535.1 L415.5 535.1 L416 535.1 L416.5 535.1 L417 535.1 L417.5 535.1 L418 535.1 L418.5 535.1 L419 535.1 L419.5 535.1 L420 535.1 L420.5 535.1 L421 535.1 L421.5 535.1 L422 535.1 L422.5 535.1 L423 535.1 L423.5 535.1 L424 535.1 L424.5 535.1 L425 535.1 L425.5 535.1 L426 535.1 L426.5 535.1 L427 535.1 L427.5 535.1 L428 535.1 L428.5 535.1 L429 535.1 L429.5 535.1 L430 535.1 L430.5 535.1 L431 535.1 L431.5 535.1 L432 535.1 L432.5 535.1 L433 535.1 L433.5 535.1 L434 535.1 L434.5 535.1 L435 535.1 L435.5 535.1 L436 535.1 L436.5 535.1 L437 535.1 L437.5 535.1 L438 535.1 L438.5 535.1 L439 535.1 L439.5 535.1 L440 535.1 L440.5 535.1 L441 535.1 L441.5 535.1 L442 535.1 L442.5 535.1 L443 535.1 L443.5 535.1 L444 535.1 L444.5 535.1 L445 535.1 L445.5 535.1 L446 535.1 L446.5 535.1 L447 535.1 L447.5 535.1 L448 535.1 L448.5 535.1 L449 535.1 L449.5 535.1 L450 535.1 L450.5 535.1 L451 535.1 L451.5 535.1 L452 535.1 L452.5 535.1 L453 535.1 L453.5 535.1 L454 535.1 L454.5 535.1 L455 535.1 L455.5 535.1 L456 535.1 L456.5 535.1 L457 535.1 L457.5 535.1 L458 535.1 L458.5 535.1 L459 535.1 L459.5 535.1 L460 535.1 L460.5 535.1 L461 535.1 L461.5 535.1 L462 535.1 L462.5 535.1 L463 535.1 L463.5 535.1 L464 535.1 L464.5 535.1 L465 535.1 L465.5 535.1 L466 535.1 L466.5 535.1 L467 535.1 L467.5 535.1 L468 535.1 L468.5 535.1 L469 535.1 L469.5 535.1 L470 535.1 L470.5 535.1 L471 535.1 L471.5 535.1 L472 535.1 L472.5 535.1 L473 535.1 L473.5 535.1 L474 535.1 L474.5 535.1 L475 535.1 L475.5 535.1 L476 535.1 L476.5 535.1 L477 535.1 L477.5 535.1 L478 535.1 L478.5 535.1 L479 535.1 L479.5 535.1 L480 535.1 L480.5 535.1 L481 535.1 L481.5 535.1 L482 535.1 L482.5 535.1 L483 535.1 L483.5 535.1 L484 535.1 L484.5 535.1 L485 535.1 L485.5 535.1 L486 535.1 L486.5 535.1 L487 535.1 L487.5 535.1 L488 535.11 L488.5 535.11 L489 535.11 L489.5 535.11 L490 535.11 L490.5 535.11 L491 535.11 L491.5 535.11 L492 535.11 L492.5 535.11 L493 535.11 L493.5 535.11 L494 535.11 L494.5 535.11 L495 535.11 L495.5 535.11 L496 535.11 L496.5 535.11 L497 535.11 L497.5 535.11 L498 535.11 L498.5 535.11 L499 535.11 L499.5 535.11 L500 535.12 L500.5 535.12 L501 535.12 L501.5 535.12 L502 535.12 L502.5 535.12 L503 535.12 L503.5 535.12 L504 535.12 L504.5 535.12 L505 535.12 L505.5 535.12 L506 535.13 L506.5 535.13 L507 535.13 L507.5 535.13 L508 535.13 L508.5 535.13 L509 535.13 L509.5 535.14 L510 535.14 L510.5 535.14 L511 535.14 L511.5 535.14 L512 535.14 L512.5 535.15 L513 535.15 L513.5 535.15 L514 535.15 L514.5 535.16 L515 535.16 L515.5 535.16 L516 535.16 L516.5 535.17 L517 535.17 L517.5 535.17 L518 535.18 L518.5 535.18 L519 535.18 L519.5 535.19 L520 535.19 L520.5 535.2 L521 535.2 L521.5 535.21 L522 535.21 L522.5 535.22 L523 535.22 L523.5 535.23 L524 535.23 L524.5 535.24 L525 535.25 L525.5 535.25 L526 535.26 L526.5 535.27 L527 535.27 L527.5 535.28 L528 535.29 L528.5 535.3 L529 535.31 L529.5 535.32 L530 535.33 L530.5 535.34 L531 535.35 L531.5 535.36 L532 535.37 L532.5 535.39 L533 535.4 L533.5 535.41 L534 535.43 L534.5 535.44 L535 535.46 L535.5 535.47 L536 535.49 L536.5 535.51 L537 535.53 L537.5 535.55 L538 535.57 L538.5 535.59 L539 535.61 L539.5 535.63 L540 535.66 L540.5 535.68 L541 535.71 L541.5 535.74 L542 535.77 L542.5 535.8 L543 535.83 L543.5 535.86 L544 535.9 L544.5 535.93 L545 535.97 L545.5 536.01 L546 536.05 L546.5 536.09 L547 536.14 L547.5 536.18 L548 536.23 L548.5 536.28 L549 536.33 L549.5 536.39 L550 536.44 L550.5 536.5 L551 536.57 L551.5 536.63 L552 536.7 L552.5 536.77 L553 536.84 L553.5 536.91 L554 536.99 L554.5 537.07 L555 537.16 L555.5 537.24 L556 537.34 L556.5 537.43 L557 537.53 L557.5 537.63 L558 537.74 L558.5 537.85 L559 537.96 L559.5 538.08 L560 538.2 L560.5 538.33 L561 538.46 L561.5 538.59 L562 538.73 L562.5 538.88 L563 539.02 L563.5 539.18 L564 539.34 L564.5 539.5 L565 539.67 L565.5 539.84 L566 540.02 L566.5 540.21 L567 540.39 L567.5 540.59 L568 540.79 L568.5 540.99 L569 541.2 L569.5 541.42 L570 541.64 L570.5 541.86 L571 542.09 L571.5 542.33 L572 542.57 L572.5 542.81 L573 543.06 L573.5 543.31 L574 543.57 L574.5 543.83 L575 544.1 L575.5 544.37 L576 544.64 L576.5 544.92 L577 545.2 L577.5 545.48 L578 545.76 L578.5 546.05 L579 546.34 L579.5 546.63 L580 546.92 L580.5 547.22 L581 547.51 L581.5 547.8 L582 548.1 L582.5 548.4 L583 548.69 L583.5 548.98 L584 549.28 L584.5 549.57 L585 549.86 L585.5 550.15 L586 550.44 L586.5 550.72 L587 551 L587.5 551.28 L588 551.56 L588.5 551.83 L589 552.1 L589.5 552.37 L590 552.63 L590.5 552.89 L591 553.14 L591.5 553.39 L592 553.63 L592.5 553.87 L593 554.11 L593.5 554.34 L594 554.56 L594.5 554.78 L595 555 L595.5 555.21 L596 555.41 L596.5 555.61 L597 555.81 L597.5 555.99 L598 556.18 L598.5 556.36 L599 556.53 L599.5 556.7 L600 556.86 L600.5 557.02 L601 557.18 L601.5 557.32 L602 557.47 L602.5 557.61 L603 557.74 L603.5 557.87 L604 558 L604.5 558.12 L605 558.24 L605.5 558.35 L606 558.46 L606.5 558.57 L607 558.67 L607.5 558.77 L608 558.86 L608.5 558.96 L609 559.04 L609.5 559.13 L610 559.21 L610.5 559.29 L611 559.36 L611.5 559.43 L612 559.5 L612.5 559.57 L613 559.63 L613.5 559.7 L614 559.76 L614.5 559.81 L615 559.87 L615.5 559.92 L616 559.97 L616.5 560.02 L617 560.06 L617.5 560.11 L618 560.15 L618.5 560.19 L619 560.23 L619.5 560.27 L620 560.3 L620.5 560.34 L621 560.37 L621.5 560.4 L622 560.43 L622.5 560.46 L623 560.49 L623.5 560.52 L624 560.54 L624.5 560.57 L625 560.59 L625.5 560.61 L626 560.63 L626.5 560.65 L627 560.67 L627.5 560.69 L628 560.71 L628.5 560.73 L629 560.74 L629.5 560.76 L630 560.77 L630.5 560.79 L631 560.8 L631.5 560.81 L632 560.83 L632.5 560.84 L633 560.85 L633.5 560.86 L634 560.87 L634.5 560.88 L635 560.89 L635.5 560.9 L636 560.91 L636.5 560.92 L637 560.93 L637.5 560.93 L638 560.94 L638.5 560.95 L639 560.95 L639.5 560.96 L640 560.97 L640.5 560.97 L641 560.98 L641.5 560.98 L642 560.99 L642.5 560.99 L643 561 L643.5 561 L644 561.01 L644.5 561.01 L645 561.02 L645.5 561.02 L646 561.02 L646.5 561.03 L647 561.03 L647.5 561.03 L648 561.04 L648.5 561.04 L649 561.04 L649.5 561.04 L650 561.05 L650.5 561.05 L651 561.05 L651.5 561.05 L652 561.06 L652.5 561.06 L653 561.06 L653.5 561.06 L654 561.06 L654.5 561.06 L655 561.07 L655.5 561.07 L656 561.07 L656.5 561.07 L657 561.07 L657.5 561.07 L658 561.07 L658.5 561.08 L659 561.08 L659.5 561.08 L660 561.08 L660.5 561.08 L661 561.08 L661.5 561.08 L662 561.08 L662.5 561.08 L663 561.08 L663.5 561.08 L664 561.08 L664.5 561.09 L665 561.09 L665.5 561.09 L666 561.09 L666.5 561.09 L667 561.09 L667.5 561.09 L668 561.09 L668.5 561.09 L669 561.09 L669.5 561.09 L670 561.09 L670.5 561.09 L671 561.09 L671.5 561.09 L672 561.09 L672.5 561.09 L673 561.09 L673.5 561.09 L674 561.09" fill="none" stroke="#1f0cff" stroke-width="1.2" stroke-linejoin="round"  stroke-dasharray="1.1 2.0" stroke-linecap="butt"/>
<path d="M494.45 534.94 L494.95 534.92 L495.45 534.9 L495.95 534.87 L496.45 534.84 L496.95 534.81 L497.45 534.77 L497.95 534.73 L498.45 534.68 L498.95 534.64 L499.45 534.58 L499.95 534.52 L500.45 534.45 L500.95 534.38 L501.45 534.3 L501.95 534.22 L502.45 534.12 L502.95 534.02 L503.45 533.9 L503.95 533.78 L504.45 533.65 L504.95 533.5 L505.45 533.35 L505.95 533.18 L506.45 533 L506.95 532.8 L507.45 532.59 L507.95 532.36 L508.45 532.12 L508.95 531.86 L509.45 531.58 L509.95 531.29 L510.45 530.97 L510.95 530.64 L511.45 530.28 L511.95 529.91 L512.45 529.51 L512.95 529.09 L513.45 528.65 L513.95 528.18 L514.45 527.69 L514.95 527.18 L515.45 526.64 L515.95 526.09 L516.45 525.5 L516.95 524.9 L517.45 524.27 L517.95 523.61 L518.45 522.94 L518.95 522.24 L519.45 521.52 L519.95 520.78 L520.45 520.02 L520.95 519.25 L521.45 518.45 L521.95 517.64 L522.45 516.82 L522.95 515.98 L523.45 515.14 L523.95 514.28 L524.45 513.42 L524.95 512.55 L525.45 511.68 L525.95 510.82 L526.45 509.95 L526.95 509.09 L527.45 508.23 L527.95 507.39 L528.45 506.56 L528.95 505.75 L529.45 504.95 L529.95 504.18 L530.45 503.42 L530.95 502.7 L531.45 502.01 L531.95 501.34 L532.45 500.71 L532.95 500.12 L533.45 499.57 L533.95 499.06 L534.45 498.59 L534.95 498.17 L535.45 497.8 L535.95 497.47 L536.45 497.2 L536.95 496.97 L537.45 496.8 L537.95 496.68 L538.45 496.62 L538.95 496.61 L539.45 496.65 L539.95 496.75 L540.45 496.91 L540.95 497.11 L541.45 497.37 L541.95 497.68 L542.45 498.05 L542.95 498.46 L543.45 498.92 L543.95 499.43 L544.45 499.98 L544.95 500.58 L545.45 501.21 L545.95 501.89 L546.45 502.6 L546.95 503.34 L547.45 504.12 L547.95 504.92 L548.45 505.75 L548.95 506.6 L549.45 507.48 L549.95 508.37 L550.45 509.28 L550.95 510.2 L551.45 511.13 L551.95 512.07 L552.45 513.02 L552.95 513.96 L553.45 514.91 L553.95 515.86 L554.45 516.8 L554.95 517.74 L555.45 518.67 L555.95 519.59 L556.45 520.51 L556.95 521.41 L557.45 522.29 L557.95 523.16 L558.45 524.02 L558.95 524.86 L559.45 525.68 L559.95 526.49 L560.45 527.28 L560.95 528.04 L561.45 528.79 L561.95 529.52 L562.45 530.23 L562.95 530.93 L563.45 531.6 L563.95 532.25 L564.45 532.89 L564.95 533.5 L565.45 534.1 L565.95 534.69 L566.45 535.25 L566.95 535.8 L567.45 536.34 L567.95 536.86 L568.45 537.36 L568.95 537.85 L569.45 538.33 L569.95 538.8 L570.45 539.25 L570.95 539.7 L571.45 540.13 L571.95 540.56 L572.45 540.98 L572.95 541.38 L573.45 541.78 L573.95 542.18 L574.45 542.57 L574.95 542.95 L575.45 543.32 L575.95 543.69 L576.45 544.06 L576.95 544.42 L577.45 544.77 L577.95 545.13 L578.45 545.47 L578.95 545.82 L579.45 546.16 L579.95 546.5 L580.45 546.84 L580.95 547.17 L581.45 547.5 L581.95 547.82 L582.45 548.15 L582.95 548.47 L583.45 548.78" fill="none" stroke="#1f0cff" stroke-width="1.25" stroke-linejoin="round"  stroke-dasharray="1.1 2.0" stroke-linecap="butt"/>
<path d="M517.25 534.83 L517.75 534.79 L518.25 534.75 L518.75 534.7 L519.25 534.65 L519.75 534.59 L520.25 534.53 L520.75 534.45 L521.25 534.38 L521.75 534.29 L522.25 534.2 L522.75 534.09 L523.25 533.98 L523.75 533.86 L524.25 533.72 L524.75 533.58 L525.25 533.42 L525.75 533.24 L526.25 533.05 L526.75 532.85 L527.25 532.63 L527.75 532.39 L528.25 532.13 L528.75 531.85 L529.25 531.55 L529.75 531.23 L530.25 530.88 L530.75 530.51 L531.25 530.11 L531.75 529.69 L532.25 529.23 L532.75 528.75 L533.25 528.24 L533.75 527.69 L534.25 527.11 L534.75 526.5 L535.25 525.85 L535.75 525.17 L536.25 524.45 L536.75 523.69 L537.25 522.89 L537.75 522.05 L538.25 521.17 L538.75 520.25 L539.25 519.29 L539.75 518.29 L540.25 517.25 L540.75 516.17 L541.25 515.04 L541.75 513.88 L542.25 512.67 L542.75 511.43 L543.25 510.14 L543.75 508.82 L544.25 507.46 L544.75 506.07 L545.25 504.65 L545.75 503.19 L546.25 501.71 L546.75 500.2 L547.25 498.66 L547.75 497.1 L548.25 495.53 L548.75 493.94 L549.25 492.34 L549.75 490.73 L550.25 489.12 L550.75 487.51 L551.25 485.9 L551.75 484.3 L552.25 482.71 L552.75 481.14 L553.25 479.59 L553.75 478.06 L554.25 476.57 L554.75 475.11 L555.25 473.68 L555.75 472.31 L556.25 470.98 L556.75 469.7 L557.25 468.48 L557.75 467.33 L558.25 466.24 L558.75 465.22 L559.25 464.27 L559.75 463.4 L560.25 462.61 L560.75 461.91 L561.25 461.29 L561.75 460.77 L562.25 460.33 L562.75 459.99 L563.25 459.75 L563.75 459.6 L564.25 459.56 L564.75 459.61 L565.25 459.76 L565.75 460.01 L566.25 460.36 L566.75 460.82 L567.25 461.37 L567.75 462.01 L568.25 462.76 L568.75 463.59 L569.25 464.52 L569.75 465.54 L570.25 466.64 L570.75 467.83 L571.25 469.09 L571.75 470.43 L572.25 471.85 L572.75 473.33 L573.25 474.88 L573.75 476.48 L574.25 478.14 L574.75 479.86 L575.25 481.62 L575.75 483.42 L576.25 485.25 L576.75 487.12 L577.25 489.02 L577.75 490.94 L578.25 492.88 L578.75 494.83 L579.25 496.79 L579.75 498.75 L580.25 500.72 L580.75 502.68 L581.25 504.63 L581.75 506.57 L582.25 508.5 L582.75 510.41 L583.25 512.29 L583.75 514.15 L584.25 515.98 L584.75 517.78 L585.25 519.55 L585.75 521.28 L586.25 522.97 L586.75 524.62 L587.25 526.23 L587.75 527.8 L588.25 529.33 L588.75 530.81 L589.25 532.25 L589.75 533.64 L590.25 534.98 L590.75 536.28 L591.25 537.53 L591.75 538.74 L592.25 539.89 L592.75 541 L593.25 542.07 L593.75 543.09 L594.25 544.07 L594.75 545 L595.25 545.89 L595.75 546.74 L596.25 547.55 L596.75 548.32 L597.25 549.05 L597.75 549.75 L598.25 550.41 L598.75 551.03 L599.25 551.62 L599.75 552.18 L600.25 552.71 L600.75 553.2 L601.25 553.67 L601.75 554.12 L602.25 554.54 L602.75 554.93 L603.25 555.3 L603.75 555.65 L604.25 555.97 L604.75 556.28 L605.25 556.57 L605.75 556.84 L606.25 557.09 L606.75 557.33 L607.25 557.55 L607.75 557.76 L608.25 557.96 L608.75 558.14 L609.25 558.31 L609.75 558.47 L610.25 558.62 L610.75 558.76 L611.25 558.89 L611.75 559.02 L612.25 559.13 L612.75 559.24" fill="none" stroke="#1f0cff" stroke-width="1.25" stroke-linejoin="round"  stroke-dasharray="1.1 2.0" stroke-linecap="butt"/>
<path d="M538.7 535.5 L539.2 535.51 L539.7 535.52 L540.2 535.52 L540.7 535.52 L541.2 535.53 L541.7 535.52 L542.2 535.52 L542.7 535.51 L543.2 535.51 L543.7 535.49 L544.2 535.47 L544.7 535.45 L545.2 535.42 L545.7 535.39 L546.2 535.35 L546.7 535.31 L547.2 535.25 L547.7 535.19 L548.2 535.12 L548.7 535.04 L549.2 534.95 L549.7 534.85 L550.2 534.74 L550.7 534.61 L551.2 534.47 L551.7 534.32 L552.2 534.16 L552.7 533.98 L553.2 533.78 L553.7 533.57 L554.2 533.34 L554.7 533.1 L555.2 532.84 L555.7 532.56 L556.2 532.27 L556.7 531.96 L557.2 531.63 L557.7 531.29 L558.2 530.93 L558.7 530.55 L559.2 530.16 L559.7 529.76 L560.2 529.35 L560.7 528.93 L561.2 528.49 L561.7 528.05 L562.2 527.61 L562.7 527.16 L563.2 526.71 L563.7 526.26 L564.2 525.82 L564.7 525.38 L565.2 524.94 L565.7 524.53 L566.2 524.12 L566.7 523.73 L567.2 523.36 L567.7 523.02 L568.2 522.7 L568.7 522.4 L569.2 522.14 L569.7 521.92 L570.2 521.72 L570.7 521.57 L571.2 521.46 L571.7 521.39 L572.2 521.37 L572.7 521.39 L573.2 521.45 L573.7 521.57 L574.2 521.73 L574.7 521.95 L575.2 522.21 L575.7 522.52 L576.2 522.88 L576.7 523.29 L577.2 523.74 L577.7 524.24 L578.2 524.79 L578.7 525.37 L579.2 526 L579.7 526.67 L580.2 527.36 L580.7 528.1 L581.2 528.86 L581.7 529.65 L582.2 530.46 L582.7 531.29 L583.2 532.15 L583.7 533.01 L584.2 533.89 L584.7 534.77 L585.2 535.67 L585.7 536.56 L586.2 537.45 L586.7 538.34 L587.2 539.22 L587.7 540.1 L588.2 540.96 L588.7 541.81 L589.2 542.65 L589.7 543.46 L590.2 544.26 L590.7 545.04 L591.2 545.8 L591.7 546.54 L592.2 547.25 L592.7 547.94 L593.2 548.6 L593.7 549.24 L594.2 549.86 L594.7 550.44 L595.2 551.01 L595.7 551.54 L596.2 552.06 L596.7 552.55 L597.2 553.01 L597.7 553.45 L598.2 553.87 L598.7 554.27 L599.2 554.64 L599.7 555 L600.2 555.33 L600.7 555.65 L601.2 555.95 L601.7 556.23 L602.2 556.49 L602.7 556.74 L603.2 556.97 L603.7 557.19 L604.2 557.4 L604.7 557.6 L605.2 557.78 L605.7 557.95 L606.2 558.11 L606.7 558.26 L607.2 558.41 L607.7 558.54 L608.2 558.67 L608.7 558.79 L609.2 558.9 L609.7 559.01 L610.2 559.11 L610.7 559.2 L611.2 559.29" fill="none" stroke="#1f0cff" stroke-width="1.25" stroke-linejoin="round"  stroke-dasharray="1.1 2.0" stroke-linecap="butt"/>
<path d="M365 534.5 L365.5 534.5 L366 534.5 L366.5 534.5 L367 534.5 L367.5 534.5 L368 534.5 L368.5 534.5 L369 534.5 L369.5 534.5 L370 534.5 L370.5 534.5 L371 534.5 L371.5 534.5 L372 534.5 L372.5 534.5 L373 534.5 L373.5 534.5 L374 534.5 L374.5 534.5 L375 534.5 L375.5 534.5 L376 534.5 L376.5 534.5 L377 534.5 L377.5 534.5 L378 534.5 L378.5 534.5 L379 534.5 L379.5 534.5 L380 534.5 L380.5 534.5 L381 534.5 L381.5 534.5 L382 534.5 L382.5 534.5 L383 534.5 L383.5 534.5 L384 534.5 L384.5 534.5 L385 534.5 L385.5 534.5 L386 534.5 L386.5 534.5 L387 534.5 L387.5 534.5 L388 534.5 L388.5 534.5 L389 534.5 L389.5 534.5 L390 534.5 L390.5 534.5 L391 534.5 L391.5 534.5 L392 534.5 L392.5 534.5 L393 534.5 L393.5 534.5 L394 534.5 L394.5 534.5 L395 534.5 L395.5 534.5 L396 534.5 L396.5 534.5 L397 534.5 L397.5 534.5 L398 534.5 L398.5 534.5 L399 534.5 L399.5 534.5 L400 534.5 L400.5 534.5 L401 534.5 L401.5 534.5 L402 534.5 L402.5 534.5 L403 534.5 L403.5 534.5 L404 534.5 L404.5 534.5 L405 534.5 L405.5 534.5 L406 534.5 L406.5 534.5 L407 534.5 L407.5 534.5 L408 534.5 L408.5 534.5 L409 534.5 L409.5 534.5 L410 534.5 L410.5 534.5 L411 534.5 L411.5 534.5 L412 534.5 L412.5 534.5 L413 534.5 L413.5 534.5 L414 534.5 L414.5 534.5 L415 534.5 L415.5 534.5 L416 534.5 L416.5 534.5 L417 534.5 L417.5 534.5 L418 534.5 L418.5 534.5 L419 534.5 L419.5 534.5 L420 534.5 L420.5 534.5 L421 534.5 L421.5 534.5 L422 534.5 L422.5 534.5 L423 534.5 L423.5 534.5 L424 534.5 L424.5 534.5 L425 534.5 L425.5 534.5 L426 534.5 L426.5 534.5 L427 534.5 L427.5 534.5 L428 534.5 L428.5 534.5 L429 534.5 L429.5 534.5 L430 534.5 L430.5 534.5 L431 534.5 L431.5 534.5 L432 534.5 L432.5 534.5 L433 534.5 L433.5 534.5 L434 534.5 L434.5 534.5 L435 534.5 L435.5 534.5 L436 534.5 L436.5 534.5 L437 534.5 L437.5 534.5 L438 534.5 L438.5 534.5 L439 534.5 L439.5 534.5 L440 534.5 L440.5 534.5 L441 534.5 L441.5 534.5 L442 534.5 L442.5 534.5 L443 534.5 L443.5 534.5 L444 534.5 L444.5 534.5 L445 534.5 L445.5 534.5 L446 534.5 L446.5 534.5 L447 534.5 L447.5 534.5 L448 534.5 L448.5 534.5 L449 534.5 L449.5 534.5 L450 534.5 L450.5 534.5 L451 534.5 L451.5 534.5 L452 534.5 L452.5 534.5 L453 534.5 L453.5 534.5 L454 534.5 L454.5 534.5 L455 534.5 L455.5 534.5 L456 534.5 L456.5 534.5 L457 534.5 L457.5 534.5 L458 534.5 L458.5 534.5 L459 534.5 L459.5 534.5 L460 534.5 L460.5 534.5 L461 534.5 L461.5 534.5 L462 534.5 L462.5 534.5 L463 534.5 L463.5 534.5 L464 534.5 L464.5 534.5 L465 534.5 L465.5 534.5 L466 534.5 L466.5 534.5 L467 534.5 L467.5 534.5 L468 534.5 L468.5 534.5 L469 534.5 L469.5 534.5 L470 534.5 L470.5 534.5 L471 534.5 L471.5 534.5 L472 534.5 L472.5 534.5 L473 534.5 L473.5 534.5 L474 534.5 L474.5 534.5 L475 534.5 L475.5 534.5 L476 534.5 L476.5 534.5 L477 534.5 L477.5 534.5 L478 534.5 L478.5 534.5 L479 534.5 L479.5 534.5 L480 534.5 L480.5 534.5 L481 534.5 L481.5 534.5 L482 534.5 L482.5 534.5 L483 534.5 L483.5 534.5 L484 534.5 L484.5 534.5 L485 534.5 L485.5 534.5 L486 534.5 L486.5 534.5 L487 534.5 L487.5 534.5 L488 534.5 L488.5 534.5 L489 534.5 L489.5 534.5 L490 534.5 L490.5 534.5 L491 534.51 L491.5 534.51 L492 534.51 L492.5 534.51 L493 534.51 L493.5 534.51 L494 534.51 L494.5 534.51 L495 534.51 L495.5 534.51 L496 534.51 L496.5 534.51 L497 534.51 L497.5 534.51 L498 534.51 L498.5 534.51 L499 534.51 L499.5 534.51 L500 534.51 L500.5 534.51 L501 534.51 L501.5 534.51 L502 534.51 L502.5 534.51 L503 534.52 L503.5 534.52 L504 534.52 L504.5 534.52 L505 534.52 L505.5 534.52 L506 534.52 L506.5 534.52 L507 534.52 L507.5 534.52 L508 534.52 L508.5 534.52 L509 534.53 L509.5 534.53 L510 534.53 L510.5 534.53 L511 534.53 L511.5 534.53 L512 534.53 L512.5 534.54 L513 534.54 L513.5 534.54 L514 534.54 L514.5 534.54 L515 534.54 L515.5 534.55 L516 534.55 L516.5 534.55 L517 534.55 L517.5 534.56 L518 534.56 L518.5 534.56 L519 534.56 L519.5 534.57 L520 534.57 L520.5 534.57 L521 534.58 L521.5 534.58 L522 534.58 L522.5 534.59 L523 534.59 L523.5 534.6 L524 534.6 L524.5 534.61 L525 534.61 L525.5 534.62 L526 534.62 L526.5 534.63 L527 534.63 L527.5 534.64 L528 534.65 L528.5 534.65 L529 534.66 L529.5 534.67 L530 534.67 L530.5 534.68 L531 534.69 L531.5 534.7 L532 534.71 L532.5 534.72 L533 534.73 L533.5 534.74 L534 534.75 L534.5 534.76 L535 534.77 L535.5 534.79 L536 534.8 L536.5 534.81 L537 534.83 L537.5 534.84 L538 534.86 L538.5 534.87 L539 534.89 L539.5 534.91 L540 534.93 L540.5 534.95 L541 534.97 L541.5 534.99 L542 535.01 L542.5 535.03 L543 535.06 L543.5 535.08 L544 535.11 L544.5 535.14 L545 535.17 L545.5 535.2 L546 535.23 L546.5 535.26 L547 535.3 L547.5 535.33 L548 535.37 L548.5 535.41 L549 535.45 L549.5 535.49 L550 535.54 L550.5 535.58 L551 535.63 L551.5 535.68 L552 535.73 L552.5 535.79 L553 535.84 L553.5 535.9 L554 535.97 L554.5 536.03 L555 536.1 L555.5 536.17 L556 536.24 L556.5 536.31 L557 536.39 L557.5 536.47 L558 536.56 L558.5 536.64 L559 536.74 L559.5 536.83 L560 536.93 L560.5 537.03 L561 537.14 L561.5 537.25 L562 537.36 L562.5 537.48 L563 537.6 L563.5 537.73 L564 537.86 L564.5 537.99 L565 538.13 L565.5 538.28 L566 538.42 L566.5 538.58 L567 538.74 L567.5 538.9 L568 539.07 L568.5 539.24 L569 539.42 L569.5 539.61 L570 539.79 L570.5 539.99 L571 540.19 L571.5 540.39 L572 540.6 L572.5 540.82 L573 541.04 L573.5 541.26 L574 541.49 L574.5 541.73 L575 541.97 L575.5 542.21 L576 542.46 L576.5 542.71 L577 542.97 L577.5 543.23 L578 543.5 L578.5 543.77 L579 544.04 L579.5 544.32 L580 544.6 L580.5 544.88 L581 545.16 L581.5 545.45 L582 545.74 L582.5 546.03 L583 546.32 L583.5 546.62 L584 546.91 L584.5 547.2 L585 547.5 L585.5 547.8 L586 548.09 L586.5 548.38 L587 548.68 L587.5 548.97 L588 549.26 L588.5 549.55 L589 549.84 L589.5 550.12 L590 550.4 L590.5 550.68 L591 550.96 L591.5 551.23 L592 551.5 L592.5 551.77 L593 552.03 L593.5 552.29 L594 552.54 L594.5 552.79 L595 553.03 L595.5 553.27 L596 553.51 L596.5 553.74 L597 553.96 L597.5 554.18 L598 554.4 L598.5 554.61 L599 554.81 L599.5 555.01 L600 555.21 L600.5 555.39 L601 555.58 L601.5 555.76 L602 555.93 L602.5 556.1 L603 556.26 L603.5 556.42 L604 556.58 L604.5 556.72 L605 556.87 L605.5 557.01 L606 557.14 L606.5 557.27 L607 557.4 L607.5 557.52 L608 557.64 L608.5 557.75 L609 557.86 L609.5 557.97 L610 558.07 L610.5 558.17 L611 558.26 L611.5 558.36 L612 558.44 L612.5 558.53 L613 558.61 L613.5 558.69 L614 558.76 L614.5 558.83 L615 558.9 L615.5 558.97 L616 559.03 L616.5 559.1 L617 559.16 L617.5 559.21 L618 559.27 L618.5 559.32 L619 559.37 L619.5 559.42 L620 559.46 L620.5 559.51 L621 559.55 L621.5 559.59 L622 559.63 L622.5 559.67 L623 559.7 L623.5 559.74 L624 559.77 L624.5 559.8 L625 559.83 L625.5 559.86 L626 559.89 L626.5 559.92 L627 559.94 L627.5 559.97 L628 559.99 L628.5 560.01 L629 560.03 L629.5 560.05 L630 560.07 L630.5 560.09 L631 560.11 L631.5 560.13 L632 560.14 L632.5 560.16 L633 560.17 L633.5 560.19 L634 560.2 L634.5 560.21 L635 560.23 L635.5 560.24 L636 560.25 L636.5 560.26 L637 560.27 L637.5 560.28 L638 560.29 L638.5 560.3 L639 560.31 L639.5 560.32 L640 560.33 L640.5 560.33 L641 560.34 L641.5 560.35 L642 560.35 L642.5 560.36 L643 560.37 L643.5 560.37 L644 560.38 L644.5 560.38 L645 560.39 L645.5 560.39 L646 560.4 L646.5 560.4 L647 560.41 L647.5 560.41 L648 560.42 L648.5 560.42 L649 560.42 L649.5 560.43 L650 560.43 L650.5 560.43 L651 560.44 L651.5 560.44 L652 560.44 L652.5 560.44 L653 560.45 L653.5 560.45 L654 560.45 L654.5 560.45 L655 560.46 L655.5 560.46 L656 560.46 L656.5 560.46 L657 560.46 L657.5 560.46 L658 560.47 L658.5 560.47 L659 560.47 L659.5 560.47 L660 560.47 L660.5 560.47 L661 560.47 L661.5 560.48 L662 560.48 L662.5 560.48 L663 560.48 L663.5 560.48 L664 560.48 L664.5 560.48 L665 560.48 L665.5 560.48 L666 560.48 L666.5 560.48 L667 560.48 L667.5 560.49 L668 560.49 L668.5 560.49 L669 560.49 L669.5 560.49 L670 560.49 L670.5 560.49 L671 560.49 L671.5 560.49 L672 560.49 L672.5 560.49 L673 560.49 L673.5 560.49 L674 560.49" fill="none" stroke="#3a8a26" stroke-width="1.2" stroke-linejoin="round"  stroke-dasharray="1.1 2.0" stroke-linecap="butt"/>
<path d="M491.45 534.34 L491.95 534.32 L492.45 534.3 L492.95 534.27 L493.45 534.25 L493.95 534.21 L494.45 534.18 L494.95 534.14 L495.45 534.1 L495.95 534.05 L496.45 534 L496.95 533.94 L497.45 533.87 L497.95 533.8 L498.45 533.73 L498.95 533.64 L499.45 533.55 L499.95 533.45 L500.45 533.34 L500.95 533.22 L501.45 533.09 L501.95 532.96 L502.45 532.8 L502.95 532.64 L503.45 532.47 L503.95 532.28 L504.45 532.07 L504.95 531.86 L505.45 531.62 L505.95 531.37 L506.45 531.1 L506.95 530.82 L507.45 530.52 L507.95 530.19 L508.45 529.85 L508.95 529.49 L509.45 529.11 L509.95 528.7 L510.45 528.27 L510.95 527.83 L511.45 527.36 L511.95 526.86 L512.45 526.35 L512.95 525.81 L513.45 525.25 L513.95 524.66 L514.45 524.05 L514.95 523.43 L515.45 522.77 L515.95 522.1 L516.45 521.41 L516.95 520.7 L517.45 519.97 L517.95 519.22 L518.45 518.45 L518.95 517.67 L519.45 516.88 L519.95 516.07 L520.45 515.26 L520.95 514.43 L521.45 513.6 L521.95 512.77 L522.45 511.93 L522.95 511.09 L523.45 510.25 L523.95 509.42 L524.45 508.6 L524.95 507.78 L525.45 506.98 L525.95 506.2 L526.45 505.43 L526.95 504.68 L527.45 503.95 L527.95 503.25 L528.45 502.58 L528.95 501.94 L529.45 501.33 L529.95 500.76 L530.45 500.22 L530.95 499.72 L531.45 499.27 L531.95 498.86 L532.45 498.49 L532.95 498.17 L533.45 497.9 L533.95 497.68 L534.45 497.51 L534.95 497.39 L535.45 497.32 L535.95 497.3 L536.45 497.33 L536.95 497.42 L537.45 497.56 L537.95 497.75 L538.45 497.98 L538.95 498.27 L539.45 498.61 L539.95 499 L540.45 499.43 L540.95 499.9 L541.45 500.42 L541.95 500.98 L542.45 501.58 L542.95 502.21 L543.45 502.88 L543.95 503.58 L544.45 504.31 L544.95 505.06 L545.45 505.84 L545.95 506.65 L546.45 507.47 L546.95 508.31 L547.45 509.16 L547.95 510.02 L548.45 510.89 L548.95 511.77 L549.45 512.66 L549.95 513.54 L550.45 514.43 L550.95 515.31 L551.45 516.19 L551.95 517.07 L552.45 517.93 L552.95 518.79 L553.45 519.63 L553.95 520.47 L554.45 521.28 L554.95 522.09 L555.45 522.88 L555.95 523.65 L556.45 524.4 L556.95 525.13 L557.45 525.85 L557.95 526.55 L558.45 527.23 L558.95 527.89 L559.45 528.53 L559.95 529.15 L560.45 529.75 L560.95 530.33 L561.45 530.89 L561.95 531.44 L562.45 531.96 L562.95 532.47 L563.45 532.97 L563.95 533.45 L564.45 533.91 L564.95 534.35 L565.45 534.79 L565.95 535.21 L566.45 535.62 L566.95 536.01 L567.45 536.4 L567.95 536.77 L568.45 537.14 L568.95 537.5 L569.45 537.85 L569.95 538.19 L570.45 538.52 L570.95 538.85 L571.45 539.18 L571.95 539.5 L572.45 539.82 L572.95 540.13 L573.45 540.44 L573.95 540.75 L574.45 541.05 L574.95 541.36 L575.45 541.66 L575.95 541.96 L576.45 542.27 L576.95 542.57 L577.45 542.87 L577.95 543.17 L578.45 543.47 L578.95 543.77 L579.45 544.08 L579.95 544.38 L580.45 544.68" fill="none" stroke="#3a8a26" stroke-width="1.25" stroke-linejoin="round"  stroke-dasharray="1.1 2.0" stroke-linecap="butt"/>
<path d="M513.85 534.23 L514.35 534.2 L514.85 534.16 L515.35 534.11 L515.85 534.07 L516.35 534.01 L516.85 533.95 L517.35 533.89 L517.85 533.82 L518.35 533.74 L518.85 533.66 L519.35 533.56 L519.85 533.46 L520.35 533.35 L520.85 533.22 L521.35 533.09 L521.85 532.95 L522.35 532.79 L522.85 532.62 L523.35 532.43 L523.85 532.23 L524.35 532.01 L524.85 531.78 L525.35 531.53 L525.85 531.26 L526.35 530.96 L526.85 530.65 L527.35 530.32 L527.85 529.96 L528.35 529.57 L528.85 529.16 L529.35 528.73 L529.85 528.27 L530.35 527.77 L530.85 527.25 L531.35 526.7 L531.85 526.11 L532.35 525.5 L532.85 524.85 L533.35 524.16 L533.85 523.44 L534.35 522.69 L534.85 521.89 L535.35 521.07 L535.85 520.2 L536.35 519.3 L536.85 518.36 L537.35 517.38 L537.85 516.37 L538.35 515.32 L538.85 514.23 L539.35 513.11 L539.85 511.95 L540.35 510.76 L540.85 509.53 L541.35 508.28 L541.85 506.99 L542.35 505.68 L542.85 504.34 L543.35 502.97 L543.85 501.59 L544.35 500.18 L544.85 498.76 L545.35 497.33 L545.85 495.88 L546.35 494.42 L546.85 492.97 L547.35 491.51 L547.85 490.05 L548.35 488.6 L548.85 487.16 L549.35 485.73 L549.85 484.32 L550.35 482.94 L550.85 481.58 L551.35 480.25 L551.85 478.95 L552.35 477.69 L552.85 476.48 L553.35 475.31 L553.85 474.19 L554.35 473.13 L554.85 472.13 L555.35 471.18 L555.85 470.3 L556.35 469.49 L556.85 468.76 L557.35 468.09 L557.85 467.51 L558.35 467 L558.85 466.58 L559.35 466.23 L559.85 465.98 L560.35 465.81 L560.85 465.73 L561.35 465.73 L561.85 465.83 L562.35 466.01 L562.85 466.29 L563.35 466.65 L563.85 467.1 L564.35 467.63 L564.85 468.26 L565.35 468.96 L565.85 469.75 L566.35 470.62 L566.85 471.56 L567.35 472.58 L567.85 473.67 L568.35 474.83 L568.85 476.05 L569.35 477.34 L569.85 478.68 L570.35 480.09 L570.85 481.54 L571.35 483.03 L571.85 484.58 L572.35 486.16 L572.85 487.77 L573.35 489.42 L573.85 491.09 L574.35 492.79 L574.85 494.5 L575.35 496.23 L575.85 497.97 L576.35 499.72 L576.85 501.47 L577.35 503.22 L577.85 504.96 L578.35 506.7 L578.85 508.43 L579.35 510.15 L579.85 511.85 L580.35 513.53 L580.85 515.18 L581.35 516.82 L581.85 518.43 L582.35 520.01 L582.85 521.56 L583.35 523.07 L583.85 524.56 L584.35 526.01 L584.85 527.42 L585.35 528.8 L585.85 530.14 L586.35 531.44 L586.85 532.7 L587.35 533.93 L587.85 535.11 L588.35 536.26 L588.85 537.36 L589.35 538.43 L589.85 539.46 L590.35 540.45 L590.85 541.4 L591.35 542.31 L591.85 543.19 L592.35 544.03 L592.85 544.84 L593.35 545.61 L593.85 546.34 L594.35 547.05 L594.85 547.72 L595.35 548.36 L595.85 548.97 L596.35 549.55 L596.85 550.11 L597.35 550.64 L597.85 551.14 L598.35 551.61 L598.85 552.07 L599.35 552.5 L599.85 552.9 L600.35 553.29 L600.85 553.66 L601.35 554 L601.85 554.33 L602.35 554.64 L602.85 554.94 L603.35 555.22 L603.85 555.48 L604.35 555.74 L604.85 555.97 L605.35 556.2 L605.85 556.41 L606.35 556.61 L606.85 556.8 L607.35 556.98 L607.85 557.15 L608.35 557.32 L608.85 557.47 L609.35 557.62" fill="none" stroke="#3a8a26" stroke-width="1.25" stroke-linejoin="round"  stroke-dasharray="1.1 2.0" stroke-linecap="butt"/>
<path d="M528.7 534.55 L529.2 534.54 L529.7 534.52 L530.2 534.51 L530.7 534.49 L531.2 534.47 L531.7 534.45 L532.2 534.42 L532.7 534.39 L533.2 534.35 L533.7 534.31 L534.2 534.26 L534.7 534.2 L535.2 534.14 L535.7 534.07 L536.2 533.99 L536.7 533.9 L537.2 533.81 L537.7 533.7 L538.2 533.58 L538.7 533.45 L539.2 533.3 L539.7 533.14 L540.2 532.97 L540.7 532.78 L541.2 532.57 L541.7 532.35 L542.2 532.1 L542.7 531.84 L543.2 531.56 L543.7 531.26 L544.2 530.94 L544.7 530.6 L545.2 530.23 L545.7 529.85 L546.2 529.44 L546.7 529.01 L547.2 528.56 L547.7 528.09 L548.2 527.6 L548.7 527.09 L549.2 526.56 L549.7 526.01 L550.2 525.44 L550.7 524.86 L551.2 524.27 L551.7 523.67 L552.2 523.05 L552.7 522.43 L553.2 521.81 L553.7 521.18 L554.2 520.55 L554.7 519.93 L555.2 519.31 L555.7 518.71 L556.2 518.11 L556.7 517.54 L557.2 516.98 L557.7 516.45 L558.2 515.94 L558.7 515.46 L559.2 515.02 L559.7 514.61 L560.2 514.24 L560.7 513.91 L561.2 513.63 L561.7 513.39 L562.2 513.2 L562.7 513.07 L563.2 512.98 L563.7 512.95 L564.2 512.98 L564.7 513.06 L565.2 513.19 L565.7 513.38 L566.2 513.63 L566.7 513.94 L567.2 514.3 L567.7 514.71 L568.2 515.17 L568.7 515.69 L569.2 516.25 L569.7 516.86 L570.2 517.51 L570.7 518.21 L571.2 518.94 L571.7 519.71 L572.2 520.51 L572.7 521.34 L573.2 522.19 L573.7 523.07 L574.2 523.96 L574.7 524.88 L575.2 525.8 L575.7 526.73 L576.2 527.67 L576.7 528.62 L577.2 529.56 L577.7 530.5 L578.2 531.44 L578.7 532.36 L579.2 533.28 L579.7 534.19 L580.2 535.08 L580.7 535.96 L581.2 536.82 L581.7 537.67 L582.2 538.49 L582.7 539.3 L583.2 540.08 L583.7 540.84 L584.2 541.58 L584.7 542.29 L585.2 542.99 L585.7 543.66 L586.2 544.31 L586.7 544.93 L587.2 545.53 L587.7 546.11 L588.2 546.67 L588.7 547.21 L589.2 547.73 L589.7 548.23 L590.2 548.7 L590.7 549.16 L591.2 549.6 L591.7 550.03 L592.2 550.43 L592.7 550.82 L593.2 551.2 L593.7 551.56 L594.2 551.9 L594.7 552.23 L595.2 552.55 L595.7 552.86 L596.2 553.15 L596.7 553.43 L597.2 553.71 L597.7 553.97 L598.2 554.22 L598.7 554.46 L599.2 554.69 L599.7 554.92 L600.2 555.13 L600.7 555.34 L601.2 555.54" fill="none" stroke="#3a8a26" stroke-width="1.25" stroke-linejoin="round"  stroke-dasharray="1.1 2.0" stroke-linecap="butt"/>
<path d="M365 534.1 L365.5 534.1 L366 534.1 L366.5 534.1 L367 534.1 L367.5 534.1 L368 534.1 L368.5 534.1 L369 534.1 L369.5 534.1 L370 534.1 L370.5 534.1 L371 534.1 L371.5 534.1 L372 534.1 L372.5 534.1 L373 534.1 L373.5 534.1 L374 534.1 L374.5 534.1 L375 534.1 L375.5 534.1 L376 534.1 L376.5 534.1 L377 534.1 L377.5 534.1 L378 534.1 L378.5 534.1 L379 534.1 L379.5 534.1 L380 534.1 L380.5 534.1 L381 534.1 L381.5 534.1 L382 534.1 L382.5 534.1 L383 534.1 L383.5 534.1 L384 534.1 L384.5 534.1 L385 534.1 L385.5 534.1 L386 534.1 L386.5 534.1 L387 534.1 L387.5 534.1 L388 534.1 L388.5 534.1 L389 534.1 L389.5 534.1 L390 534.1 L390.5 534.1 L391 534.1 L391.5 534.1 L392 534.1 L392.5 534.1 L393 534.1 L393.5 534.1 L394 534.1 L394.5 534.1 L395 534.1 L395.5 534.1 L396 534.1 L396.5 534.1 L397 534.1 L397.5 534.1 L398 534.1 L398.5 534.1 L399 534.1 L399.5 534.1 L400 534.1 L400.5 534.1 L401 534.1 L401.5 534.1 L402 534.1 L402.5 534.1 L403 534.1 L403.5 534.1 L404 534.1 L404.5 534.1 L405 534.1 L405.5 534.1 L406 534.1 L406.5 534.1 L407 534.1 L407.5 534.1 L408 534.1 L408.5 534.1 L409 534.1 L409.5 534.1 L410 534.1 L410.5 534.1 L411 534.1 L411.5 534.1 L412 534.1 L412.5 534.1 L413 534.1 L413.5 534.1 L414 534.1 L414.5 534.1 L415 534.1 L415.5 534.1 L416 534.1 L416.5 534.1 L417 534.1 L417.5 534.1 L418 534.1 L418.5 534.1 L419 534.1 L419.5 534.1 L420 534.1 L420.5 534.1 L421 534.1 L421.5 534.1 L422 534.1 L422.5 534.1 L423 534.1 L423.5 534.1 L424 534.1 L424.5 534.1 L425 534.1 L425.5 534.1 L426 534.1 L426.5 534.1 L427 534.1 L427.5 534.1 L428 534.1 L428.5 534.1 L429 534.1 L429.5 534.1 L430 534.1 L430.5 534.1 L431 534.1 L431.5 534.1 L432 534.1 L432.5 534.1 L433 534.1 L433.5 534.1 L434 534.1 L434.5 534.1 L435 534.1 L435.5 534.1 L436 534.1 L436.5 534.1 L437 534.1 L437.5 534.1 L438 534.1 L438.5 534.1 L439 534.1 L439.5 534.1 L440 534.1 L440.5 534.1 L441 534.1 L441.5 534.1 L442 534.1 L442.5 534.1 L443 534.1 L443.5 534.1 L444 534.1 L444.5 534.1 L445 534.1 L445.5 534.1 L446 534.1 L446.5 534.1 L447 534.1 L447.5 534.1 L448 534.1 L448.5 534.1 L449 534.1 L449.5 534.1 L450 534.1 L450.5 534.1 L451 534.1 L451.5 534.1 L452 534.1 L452.5 534.1 L453 534.1 L453.5 534.1 L454 534.1 L454.5 534.1 L455 534.1 L455.5 534.1 L456 534.1 L456.5 534.1 L457 534.1 L457.5 534.1 L458 534.1 L458.5 534.1 L459 534.1 L459.5 534.1 L460 534.1 L460.5 534.1 L461 534.1 L461.5 534.1 L462 534.1 L462.5 534.1 L463 534.1 L463.5 534.1 L464 534.1 L464.5 534.1 L465 534.1 L465.5 534.1 L466 534.1 L466.5 534.1 L467 534.1 L467.5 534.1 L468 534.1 L468.5 534.1 L469 534.1 L469.5 534.1 L470 534.1 L470.5 534.1 L471 534.1 L471.5 534.1 L472 534.1 L472.5 534.1 L473 534.1 L473.5 534.1 L474 534.1 L474.5 534.1 L475 534.1 L475.5 534.1 L476 534.1 L476.5 534.1 L477 534.1 L477.5 534.1 L478 534.1 L478.5 534.1 L479 534.1 L479.5 534.1 L480 534.1 L480.5 534.1 L481 534.1 L481.5 534.1 L482 534.1 L482.5 534.1 L483 534.1 L483.5 534.1 L484 534.1 L484.5 534.1 L485 534.1 L485.5 534.1 L486 534.1 L486.5 534.1 L487 534.1 L487.5 534.1 L488 534.1 L488.5 534.1 L489 534.1 L489.5 534.1 L490 534.1 L490.5 534.1 L491 534.11 L491.5 534.11 L492 534.11 L492.5 534.11 L493 534.11 L493.5 534.11 L494 534.11 L494.5 534.11 L495 534.11 L495.5 534.11 L496 534.11 L496.5 534.11 L497 534.11 L497.5 534.11 L498 534.11 L498.5 534.11 L499 534.11 L499.5 534.11 L500 534.11 L500.5 534.11 L501 534.11 L501.5 534.11 L502 534.11 L502.5 534.11 L503 534.12 L503.5 534.12 L504 534.12 L504.5 534.12 L505 534.12 L505.5 534.12 L506 534.12 L506.5 534.12 L507 534.12 L507.5 534.12 L508 534.12 L508.5 534.12 L509 534.13 L509.5 534.13 L510 534.13 L510.5 534.13 L511 534.13 L511.5 534.13 L512 534.13 L512.5 534.14 L513 534.14 L513.5 534.14 L514 534.14 L514.5 534.14 L515 534.14 L515.5 534.15 L516 534.15 L516.5 534.15 L517 534.15 L517.5 534.16 L518 534.16 L518.5 534.16 L519 534.16 L519.5 534.17 L520 534.17 L520.5 534.17 L521 534.18 L521.5 534.18 L522 534.18 L522.5 534.19 L523 534.19 L523.5 534.2 L524 534.2 L524.5 534.21 L525 534.21 L525.5 534.22 L526 534.22 L526.5 534.23 L527 534.23 L527.5 534.24 L528 534.25 L528.5 534.25 L529 534.26 L529.5 534.27 L530 534.27 L530.5 534.28 L531 534.29 L531.5 534.3 L532 534.31 L532.5 534.32 L533 534.33 L533.5 534.34 L534 534.35 L534.5 534.36 L535 534.37 L535.5 534.39 L536 534.4 L536.5 534.41 L537 534.43 L537.5 534.44 L538 534.46 L538.5 534.47 L539 534.49 L539.5 534.51 L540 534.53 L540.5 534.55 L541 534.57 L541.5 534.59 L542 534.61 L542.5 534.63 L543 534.66 L543.5 534.68 L544 534.71 L544.5 534.74 L545 534.77 L545.5 534.8 L546 534.83 L546.5 534.86 L547 534.9 L547.5 534.93 L548 534.97 L548.5 535.01 L549 535.05 L549.5 535.09 L550 535.14 L550.5 535.18 L551 535.23 L551.5 535.28 L552 535.33 L552.5 535.39 L553 535.44 L553.5 535.5 L554 535.57 L554.5 535.63 L555 535.7 L555.5 535.77 L556 535.84 L556.5 535.91 L557 535.99 L557.5 536.07 L558 536.16 L558.5 536.24 L559 536.34 L559.5 536.43 L560 536.53 L560.5 536.63 L561 536.74 L561.5 536.85 L562 536.96 L562.5 537.08 L563 537.2 L563.5 537.33 L564 537.46 L564.5 537.59 L565 537.73 L565.5 537.88 L566 538.02 L566.5 538.18 L567 538.34 L567.5 538.5 L568 538.67 L568.5 538.84 L569 539.02 L569.5 539.21 L570 539.39 L570.5 539.59 L571 539.79 L571.5 539.99 L572 540.2 L572.5 540.42 L573 540.64 L573.5 540.86 L574 541.09 L574.5 541.33 L575 541.57 L575.5 541.81 L576 542.06 L576.5 542.31 L577 542.57 L577.5 542.83 L578 543.1 L578.5 543.37 L579 543.64 L579.5 543.92 L580 544.2 L580.5 544.48 L581 544.76 L581.5 545.05 L582 545.34 L582.5 545.63 L583 545.92 L583.5 546.22 L584 546.51 L584.5 546.8 L585 547.1 L585.5 547.4 L586 547.69 L586.5 547.98 L587 548.28 L587.5 548.57 L588 548.86 L588.5 549.15 L589 549.44 L589.5 549.72 L590 550 L590.5 550.28 L591 550.56 L591.5 550.83 L592 551.1 L592.5 551.37 L593 551.63 L593.5 551.89 L594 552.14 L594.5 552.39 L595 552.63 L595.5 552.87 L596 553.11 L596.5 553.34 L597 553.56 L597.5 553.78 L598 554 L598.5 554.21 L599 554.41 L599.5 554.61 L600 554.81 L600.5 554.99 L601 555.18 L601.5 555.36 L602 555.53 L602.5 555.7 L603 555.86 L603.5 556.02 L604 556.18 L604.5 556.32 L605 556.47 L605.5 556.61 L606 556.74 L606.5 556.87 L607 557 L607.5 557.12 L608 557.24 L608.5 557.35 L609 557.46 L609.5 557.57 L610 557.67 L610.5 557.77 L611 557.86 L611.5 557.96 L612 558.04 L612.5 558.13 L613 558.21 L613.5 558.29 L614 558.36 L614.5 558.43 L615 558.5 L615.5 558.57 L616 558.63 L616.5 558.7 L617 558.76 L617.5 558.81 L618 558.87 L618.5 558.92 L619 558.97 L619.5 559.02 L620 559.06 L620.5 559.11 L621 559.15 L621.5 559.19 L622 559.23 L622.5 559.27 L623 559.3 L623.5 559.34 L624 559.37 L624.5 559.4 L625 559.43 L625.5 559.46 L626 559.49 L626.5 559.52 L627 559.54 L627.5 559.57 L628 559.59 L628.5 559.61 L629 559.63 L629.5 559.65 L630 559.67 L630.5 559.69 L631 559.71 L631.5 559.73 L632 559.74 L632.5 559.76 L633 559.77 L633.5 559.79 L634 559.8 L634.5 559.81 L635 559.83 L635.5 559.84 L636 559.85 L636.5 559.86 L637 559.87 L637.5 559.88 L638 559.89 L638.5 559.9 L639 559.91 L639.5 559.92 L640 559.93 L640.5 559.93 L641 559.94 L641.5 559.95 L642 559.95 L642.5 559.96 L643 559.97 L643.5 559.97 L644 559.98 L644.5 559.98 L645 559.99 L645.5 559.99 L646 560 L646.5 560 L647 560.01 L647.5 560.01 L648 560.02 L648.5 560.02 L649 560.02 L649.5 560.03 L650 560.03 L650.5 560.03 L651 560.04 L651.5 560.04 L652 560.04 L652.5 560.04 L653 560.05 L653.5 560.05 L654 560.05 L654.5 560.05 L655 560.06 L655.5 560.06 L656 560.06 L656.5 560.06 L657 560.06 L657.5 560.06 L658 560.07 L658.5 560.07 L659 560.07 L659.5 560.07 L660 560.07 L660.5 560.07 L661 560.07 L661.5 560.08 L662 560.08 L662.5 560.08 L663 560.08 L663.5 560.08 L664 560.08 L664.5 560.08 L665 560.08 L665.5 560.08 L666 560.08 L666.5 560.08 L667 560.08 L667.5 560.09 L668 560.09 L668.5 560.09 L669 560.09 L669.5 560.09 L670 560.09 L670.5 560.09 L671 560.09 L671.5 560.09 L672 560.09 L672.5 560.09 L673 560.09 L673.5 560.09 L674 560.09" fill="none" stroke="#eea33c" stroke-width="1.2" stroke-linejoin="round"  stroke-dasharray="1.1 2.0" stroke-linecap="butt"/>
<path d="M490.45 533.94 L490.95 533.92 L491.45 533.9 L491.95 533.87 L492.45 533.84 L492.95 533.81 L493.45 533.78 L493.95 533.74 L494.45 533.69 L494.95 533.65 L495.45 533.59 L495.95 533.54 L496.45 533.47 L496.95 533.4 L497.45 533.33 L497.95 533.24 L498.45 533.15 L498.95 533.05 L499.45 532.94 L499.95 532.82 L500.45 532.69 L500.95 532.55 L501.45 532.4 L501.95 532.24 L502.45 532.06 L502.95 531.88 L503.45 531.67 L503.95 531.45 L504.45 531.22 L504.95 530.97 L505.45 530.7 L505.95 530.42 L506.45 530.11 L506.95 529.79 L507.45 529.45 L507.95 529.09 L508.45 528.7 L508.95 528.3 L509.45 527.87 L509.95 527.42 L510.45 526.95 L510.95 526.46 L511.45 525.94 L511.95 525.4 L512.45 524.84 L512.95 524.26 L513.45 523.65 L513.95 523.02 L514.45 522.37 L514.95 521.7 L515.45 521.01 L515.95 520.29 L516.45 519.56 L516.95 518.81 L517.45 518.05 L517.95 517.27 L518.45 516.47 L518.95 515.67 L519.45 514.85 L519.95 514.03 L520.45 513.19 L520.95 512.36 L521.45 511.52 L521.95 510.68 L522.45 509.85 L522.95 509.01 L523.45 508.19 L523.95 507.38 L524.45 506.57 L524.95 505.79 L525.45 505.02 L525.95 504.27 L526.45 503.54 L526.95 502.84 L527.45 502.17 L527.95 501.52 L528.45 500.92 L528.95 500.34 L529.45 499.8 L529.95 499.31 L530.45 498.85 L530.95 498.44 L531.45 498.07 L531.95 497.75 L532.45 497.48 L532.95 497.26 L533.45 497.08 L533.95 496.96 L534.45 496.89 L534.95 496.87 L535.45 496.91 L535.95 496.99 L536.45 497.13 L536.95 497.31 L537.45 497.55 L537.95 497.84 L538.45 498.18 L538.95 498.56 L539.45 498.99 L539.95 499.46 L540.45 499.98 L540.95 500.54 L541.45 501.13 L541.95 501.76 L542.45 502.43 L542.95 503.13 L543.45 503.85 L543.95 504.61 L544.45 505.38 L544.95 506.18 L545.45 507 L545.95 507.84 L546.45 508.69 L546.95 509.55 L547.45 510.42 L547.95 511.29 L548.45 512.18 L548.95 513.06 L549.45 513.94 L549.95 514.82 L550.45 515.7 L550.95 516.57 L551.45 517.43 L551.95 518.28 L552.45 519.12 L552.95 519.95 L553.45 520.76 L553.95 521.56 L554.45 522.34 L554.95 523.11 L555.45 523.85 L555.95 524.58 L556.45 525.29 L556.95 525.98 L557.45 526.66 L557.95 527.31 L558.45 527.94 L558.95 528.55 L559.45 529.15 L559.95 529.72 L560.45 530.28 L560.95 530.81 L561.45 531.33 L561.95 531.84 L562.45 532.32 L562.95 532.79 L563.45 533.24 L563.95 533.68 L564.45 534.1 L564.95 534.52 L565.45 534.91 L565.95 535.3 L566.45 535.68 L566.95 536.04 L567.45 536.4 L567.95 536.74 L568.45 537.08 L568.95 537.42 L569.45 537.74 L569.95 538.06 L570.45 538.38 L570.95 538.69 L571.45 538.99 L571.95 539.3 L572.45 539.6 L572.95 539.89 L573.45 540.19 L573.95 540.49 L574.45 540.78 L574.95 541.07 L575.45 541.37 L575.95 541.66 L576.45 541.95 L576.95 542.24 L577.45 542.54 L577.95 542.83 L578.45 543.13 L578.95 543.43 L579.45 543.72" fill="none" stroke="#eea33c" stroke-width="1.25" stroke-linejoin="round"  stroke-dasharray="1.1 2.0" stroke-linecap="butt"/>
<path d="M510.55 533.81 L511.05 533.77 L511.55 533.73 L512.05 533.68 L512.55 533.63 L513.05 533.57 L513.55 533.51 L514.05 533.44 L514.55 533.37 L515.05 533.29 L515.55 533.19 L516.05 533.1 L516.55 532.99 L517.05 532.87 L517.55 532.74 L518.05 532.6 L518.55 532.44 L519.05 532.28 L519.55 532.1 L520.05 531.9 L520.55 531.69 L521.05 531.46 L521.55 531.21 L522.05 530.95 L522.55 530.66 L523.05 530.35 L523.55 530.02 L524.05 529.67 L524.55 529.29 L525.05 528.89 L525.55 528.45 L526.05 528 L526.55 527.51 L527.05 526.99 L527.55 526.44 L528.05 525.86 L528.55 525.24 L529.05 524.59 L529.55 523.91 L530.05 523.18 L530.55 522.43 L531.05 521.63 L531.55 520.8 L532.05 519.92 L532.55 519.01 L533.05 518.06 L533.55 517.07 L534.05 516.04 L534.55 514.97 L535.05 513.86 L535.55 512.72 L536.05 511.54 L536.55 510.32 L537.05 509.06 L537.55 507.77 L538.05 506.45 L538.55 505.09 L539.05 503.71 L539.55 502.29 L540.05 500.86 L540.55 499.39 L541.05 497.91 L541.55 496.41 L542.05 494.9 L542.55 493.37 L543.05 491.84 L543.55 490.29 L544.05 488.75 L544.55 487.21 L545.05 485.68 L545.55 484.16 L546.05 482.65 L546.55 481.16 L547.05 479.69 L547.55 478.25 L548.05 476.84 L548.55 475.47 L549.05 474.13 L549.55 472.84 L550.05 471.6 L550.55 470.41 L551.05 469.28 L551.55 468.2 L552.05 467.2 L552.55 466.26 L553.05 465.39 L553.55 464.59 L554.05 463.87 L554.55 463.23 L555.05 462.68 L555.55 462.21 L556.05 461.82 L556.55 461.53 L557.05 461.32 L557.55 461.21 L558.05 461.19 L558.55 461.26 L559.05 461.42 L559.55 461.68 L560.05 462.02 L560.55 462.46 L561.05 462.99 L561.55 463.61 L562.05 464.31 L562.55 465.1 L563.05 465.97 L563.55 466.92 L564.05 467.95 L564.55 469.06 L565.05 470.23 L565.55 471.48 L566.05 472.78 L566.55 474.15 L567.05 475.58 L567.55 477.06 L568.05 478.59 L568.55 480.16 L569.05 481.77 L569.55 483.42 L570.05 485.1 L570.55 486.81 L571.05 488.55 L571.55 490.3 L572.05 492.07 L572.55 493.85 L573.05 495.64 L573.55 497.43 L574.05 499.23 L574.55 501.02 L575.05 502.8 L575.55 504.57 L576.05 506.33 L576.55 508.08 L577.05 509.8 L577.55 511.5 L578.05 513.18 L578.55 514.84 L579.05 516.46 L579.55 518.06 L580.05 519.62 L580.55 521.15 L581.05 522.65 L581.55 524.11 L582.05 525.53 L582.55 526.92 L583.05 528.27 L583.55 529.58 L584.05 530.85 L584.55 532.08 L585.05 533.28 L585.55 534.43 L586.05 535.55 L586.55 536.62 L587.05 537.66 L587.55 538.66 L588.05 539.62 L588.55 540.55 L589.05 541.43 L589.55 542.29 L590.05 543.11 L590.55 543.89 L591.05 544.64 L591.55 545.36 L592.05 546.05 L592.55 546.71 L593.05 547.34 L593.55 547.94 L594.05 548.51 L594.55 549.06 L595.05 549.58 L595.55 550.08 L596.05 550.55 L596.55 551.01 L597.05 551.44 L597.55 551.84 L598.05 552.23 L598.55 552.61 L599.05 552.96 L599.55 553.29 L600.05 553.61 L600.55 553.92 L601.05 554.2 L601.55 554.48 L602.05 554.74 L602.55 554.99 L603.05 555.22 L603.55 555.45 L604.05 555.66 L604.55 555.87 L605.05 556.06 L605.55 556.24 L606.05 556.42" fill="none" stroke="#eea33c" stroke-width="1.25" stroke-linejoin="round"  stroke-dasharray="1.1 2.0" stroke-linecap="butt"/>
<path d="M536.3 534.3 L536.8 534.3 L537.3 534.3 L537.8 534.29 L538.3 534.28 L538.8 534.27 L539.3 534.26 L539.8 534.24 L540.3 534.22 L540.8 534.19 L541.3 534.16 L541.8 534.13 L542.3 534.08 L542.8 534.04 L543.3 533.98 L543.8 533.92 L544.3 533.85 L544.8 533.77 L545.3 533.68 L545.8 533.58 L546.3 533.47 L546.8 533.35 L547.3 533.21 L547.8 533.06 L548.3 532.9 L548.8 532.72 L549.3 532.53 L549.8 532.32 L550.3 532.09 L550.8 531.84 L551.3 531.58 L551.8 531.3 L552.3 530.99 L552.8 530.67 L553.3 530.33 L553.8 529.97 L554.3 529.59 L554.8 529.19 L555.3 528.77 L555.8 528.33 L556.3 527.88 L556.8 527.4 L557.3 526.92 L557.8 526.41 L558.3 525.9 L558.8 525.37 L559.3 524.84 L559.8 524.29 L560.3 523.75 L560.8 523.19 L561.3 522.64 L561.8 522.09 L562.3 521.55 L562.8 521.01 L563.3 520.49 L563.8 519.98 L564.3 519.48 L564.8 519.01 L565.3 518.56 L565.8 518.14 L566.3 517.75 L566.8 517.39 L567.3 517.06 L567.8 516.78 L568.3 516.54 L568.8 516.34 L569.3 516.19 L569.8 516.08 L570.3 516.03 L570.8 516.03 L571.3 516.08 L571.8 516.18 L572.3 516.34 L572.8 516.55 L573.3 516.82 L573.8 517.14 L574.3 517.52 L574.8 517.95 L575.3 518.43 L575.8 518.95 L576.3 519.53 L576.8 520.15 L577.3 520.82 L577.8 521.53 L578.3 522.27 L578.8 523.06 L579.3 523.87 L579.8 524.71 L580.3 525.58 L580.8 526.47 L581.3 527.38 L581.8 528.31 L582.3 529.24 L582.8 530.19 L583.3 531.14 L583.8 532.1 L584.3 533.05 L584.8 534.01 L585.3 534.95 L585.8 535.89 L586.3 536.82 L586.8 537.73 L587.3 538.63 L587.8 539.51 L588.3 540.37 L588.8 541.21 L589.3 542.03 L589.8 542.82 L590.3 543.6 L590.8 544.34 L591.3 545.07 L591.8 545.76 L592.3 546.43 L592.8 547.08 L593.3 547.7 L593.8 548.29 L594.3 548.86 L594.8 549.4 L595.3 549.92 L595.8 550.42 L596.3 550.89 L596.8 551.34 L597.3 551.77 L597.8 552.17 L598.3 552.56 L598.8 552.92 L599.3 553.27 L599.8 553.6 L600.3 553.91 L600.8 554.21 L601.3 554.49 L601.8 554.75 L602.3 555.01 L602.8 555.24 L603.3 555.47 L603.8 555.68 L604.3 555.89 L604.8 556.08 L605.3 556.26 L605.8 556.44 L606.3 556.6 L606.8 556.76 L607.3 556.91 L607.8 557.05 L608.3 557.19 L608.8 557.31" fill="none" stroke="#eea33c" stroke-width="1.25" stroke-linejoin="round"  stroke-dasharray="1.1 2.0" stroke-linecap="butt"/>
<path d="M365 534.6 L365.5 534.6 L366 534.6 L366.5 534.61 L367 534.61 L367.5 534.61 L368 534.61 L368.5 534.61 L369 534.61 L369.5 534.61 L370 534.62 L370.5 534.62 L371 534.62 L371.5 534.62 L372 534.62 L372.5 534.62 L373 534.63 L373.5 534.63 L374 534.63 L374.5 534.63 L375 534.63 L375.5 534.63 L376 534.63 L376.5 534.64 L377 534.64 L377.5 534.64 L378 534.64 L378.5 534.64 L379 534.64 L379.5 534.64 L380 534.65 L380.5 534.65 L381 534.65 L381.5 534.65 L382 534.65 L382.5 534.65 L383 534.65 L383.5 534.65 L384 534.66 L384.5 534.66 L385 534.66 L385.5 534.66 L386 534.66 L386.5 534.66 L387 534.66 L387.5 534.66 L388 534.66 L388.5 534.67 L389 534.67 L389.5 534.67 L390 534.67 L390.5 534.67 L391 534.67 L391.5 534.67 L392 534.67 L392.5 534.68 L393 534.68 L393.5 534.68 L394 534.68 L394.5 534.68 L395 534.68 L395.5 534.68 L396 534.68 L396.5 534.68 L397 534.69 L397.5 534.69 L398 534.69 L398.5 534.69 L399 534.69 L399.5 534.69 L400 534.69 L400.5 534.69 L401 534.69 L401.5 534.69 L402 534.7 L402.5 534.7 L403 534.7 L403.5 534.7 L404 534.7 L404.5 534.7 L405 534.7 L405.5 534.7 L406 534.7 L406.5 534.71 L407 534.71 L407.5 534.71 L408 534.71 L408.5 534.71 L409 534.71 L409.5 534.71 L410 534.71 L410.5 534.71 L411 534.71 L411.5 534.72 L412 534.72 L412.5 534.72 L413 534.72 L413.5 534.72 L414 534.72 L414.5 534.72 L415 534.72 L415.5 534.72 L416 534.73 L416.5 534.73 L417 534.73 L417.5 534.73 L418 534.73 L418.5 534.73 L419 534.73 L419.5 534.73 L420 534.74 L420.5 534.74 L421 534.74 L421.5 534.74 L422 534.74 L422.5 534.74 L423 534.74 L423.5 534.74 L424 534.74 L424.5 534.75 L425 534.75 L425.5 534.75 L426 534.75 L426.5 534.75 L427 534.75 L427.5 534.75 L428 534.76 L428.5 534.76 L429 534.76 L429.5 534.76 L430 534.76 L430.5 534.76 L431 534.76 L431.5 534.77 L432 534.77 L432.5 534.77 L433 534.77 L433.5 534.77 L434 534.77 L434.5 534.77 L435 534.78 L435.5 534.78 L436 534.78 L436.5 534.78 L437 534.78 L437.5 534.78 L438 534.78 L438.5 534.79 L439 534.79 L439.5 534.79 L440 534.79 L440.5 534.79 L441 534.79 L441.5 534.8 L442 534.8 L442.5 534.8 L443 534.8 L443.5 534.8 L444 534.81 L444.5 534.81 L445 534.81 L445.5 534.81 L446 534.81 L446.5 534.81 L447 534.82 L447.5 534.82 L448 534.82 L448.5 534.82 L449 534.82 L449.5 534.83 L450 534.83 L450.5 534.83 L451 534.83 L451.5 534.83 L452 534.84 L452.5 534.84 L453 534.84 L453.5 534.84 L454 534.85 L454.5 534.85 L455 534.85 L455.5 534.85 L456 534.86 L456.5 534.86 L457 534.86 L457.5 534.86 L458 534.86 L458.5 534.87 L459 534.87 L459.5 534.87 L460 534.87 L460.5 534.88 L461 534.88 L461.5 534.88 L462 534.89 L462.5 534.89 L463 534.89 L463.5 534.89 L464 534.9 L464.5 534.9 L465 534.9 L465.5 534.9 L466 534.91 L466.5 534.91 L467 534.91 L467.5 534.92 L468 534.92 L468.5 534.92 L469 534.92 L469.5 534.93 L470 534.93 L470.5 534.93 L471 534.94 L471.5 534.94 L472 534.94 L472.5 534.95 L473 534.95 L473.5 534.95 L474 534.96 L474.5 534.96 L475 534.96 L475.5 534.97 L476 534.97 L476.5 534.97 L477 534.98 L477.5 534.98 L478 534.99 L478.5 534.99 L479 534.99 L479.5 535 L480 535 L480.5 535 L481 535.01 L481.5 535.01 L482 535.02 L482.5 535.03 L483 535.03 L483.5 535.04 L484 535.05 L484.5 535.06 L485 535.07 L485.5 535.08 L486 535.09 L486.5 535.1 L487 535.12 L487.5 535.13 L488 535.14 L488.5 535.16 L489 535.17 L489.5 535.19 L490 535.2 L490.5 535.22 L491 535.24 L491.5 535.25 L492 535.27 L492.5 535.29 L493 535.31 L493.5 535.33 L494 535.35 L494.5 535.37 L495 535.39 L495.5 535.41 L496 535.43 L496.5 535.46 L497 535.48 L497.5 535.5 L498 535.53 L498.5 535.55 L499 535.58 L499.5 535.6 L500 535.63 L500.5 535.66 L501 535.68 L501.5 535.71 L502 535.74 L502.5 535.77 L503 535.8 L503.5 535.83 L504 535.86 L504.5 535.89 L505 535.92 L505.5 535.95 L506 535.98 L506.5 536.01 L507 536.04 L507.5 536.07 L508 536.11 L508.5 536.14 L509 536.17 L509.5 536.21 L510 536.24 L510.5 536.28 L511 536.31 L511.5 536.35 L512 536.38 L512.5 536.42 L513 536.46 L513.5 536.49 L514 536.53 L514.5 536.57 L515 536.61 L515.5 536.64 L516 536.68 L516.5 536.72 L517 536.76 L517.5 536.8 L518 536.84 L518.5 536.88 L519 536.92 L519.5 536.96 L520 537 L520.5 537.04 L521 537.09 L521.5 537.14 L522 537.19 L522.5 537.25 L523 537.31 L523.5 537.37 L524 537.43 L524.5 537.5 L525 537.57 L525.5 537.64 L526 537.72 L526.5 537.8 L527 537.87 L527.5 537.96 L528 538.04 L528.5 538.12 L529 538.21 L529.5 538.3 L530 538.39 L530.5 538.48 L531 538.57 L531.5 538.67 L532 538.76 L532.5 538.85 L533 538.95 L533.5 539.05 L534 539.14 L534.5 539.24 L535 539.34 L535.5 539.44 L536 539.53 L536.5 539.63 L537 539.73 L537.5 539.82 L538 539.92 L538.5 540.02 L539 540.11 L539.5 540.21 L540 540.3 L540.5 540.39 L541 540.49 L541.5 540.6 L542 540.7 L542.5 540.81 L543 540.92 L543.5 541.03 L544 541.14 L544.5 541.26 L545 541.37 L545.5 541.48 L546 541.6 L546.5 541.71 L547 541.82 L547.5 541.93 L548 542.04 L548.5 542.15 L549 542.25 L549.5 542.36 L550 542.45 L550.5 542.55 L551 542.64 L551.5 542.72 L552 542.8 L552.5 542.88 L553 542.96 L553.5 543.04 L554 543.13 L554.5 543.21 L555 543.29 L555.5 543.38 L556 543.46 L556.5 543.53 L557 543.61 L557.5 543.68 L558 543.74 L558.5 543.8 L559 543.86 L559.5 543.9 L560 543.94 L560.5 543.97 L561 543.99 L561.5 544 L562 543.99 L562.5 543.91 L563 543.77 L563.5 543.57 L564 543.34 L564.5 543.06 L565 542.76 L565.5 542.45 L566 542.13 L566.5 541.81 L567 541.5 L567.5 541.19 L568 540.86 L568.5 540.51 L569 540.14 L569.5 539.75 L570 539.34 L570.5 538.91 L571 538.47 L571.5 538.01 L572 537.53 L572.5 537.03 L573 536.52 L573.5 535.99 L574 535.43 L574.5 534.82 L575 534.17 L575.5 533.49 L576 532.77 L576.5 532.03 L577 531.27 L577.5 530.49 L578 529.69 L578.5 528.88 L579 528.07 L579.5 527.25 L580 526.44 L580.5 525.64 L581 524.84 L581.5 524.06 L582 523.29 L582.5 522.48 L583 521.62 L583.5 520.74 L584 519.84 L584.5 518.95 L585 518.07 L585.5 517.22 L586 516.42 L586.5 515.68 L587 515.03 L587.5 514.46 L588 514 L588.5 513.6 L589 513.2 L589.5 512.82 L590 512.45 L590.5 512.11 L591 511.8 L591.5 511.53 L592 511.31 L592.5 511.14 L593 511.04 L593.5 511 L594 511.02 L594.5 511.09 L595 511.2 L595.5 511.33 L596 511.5 L596.5 511.68 L597 511.88 L597.5 512.09 L598 512.3 L598.5 512.54 L599 512.82 L599.5 513.15 L600 513.52 L600.5 513.92 L601 514.36 L601.5 514.82 L602 515.3 L602.5 515.84 L603 516.44 L603.5 517.1 L604 517.81 L604.5 518.58 L605 519.38 L605.5 520.22 L606 521.08 L606.5 521.97 L607 522.87 L607.5 523.78 L608 524.7 L608.5 525.61 L609 526.51 L609.5 527.4 L610 528.26 L610.5 529.1 L611 529.95 L611.5 530.79 L612 531.64 L612.5 532.49 L613 533.34 L613.5 534.2 L614 535.07 L614.5 535.95 L615 536.84 L615.5 537.73 L616 538.64 L616.5 539.56 L617 540.49 L617.5 541.47 L618 542.51 L618.5 543.58 L619 544.67 L619.5 545.75 L620 546.82 L620.5 547.85 L621 548.81 L621.5 549.7 L622 550.5 L622.5 551.24 L623 551.97 L623.5 552.68 L624 553.38 L624.5 554.04 L625 554.68 L625.5 555.27 L626 555.83 L626.5 556.33 L627 556.78 L627.5 557.17 L628 557.5 L628.5 557.79 L629 558.07 L629.5 558.34 L630 558.6 L630.5 558.86 L631 559.1 L631.5 559.32 L632 559.53 L632.5 559.73 L633 559.9 L633.5 560.06 L634 560.19 L634.5 560.31 L635 560.4 L635.5 560.46 L636 560.5 L636.5 560.52 L637 560.55 L637.5 560.57 L638 560.59 L638.5 560.61 L639 560.64 L639.5 560.66 L640 560.68 L640.5 560.69 L641 560.71 L641.5 560.73 L642 560.75 L642.5 560.76 L643 560.78 L643.5 560.8 L644 560.81 L644.5 560.82 L645 560.84 L645.5 560.85 L646 560.86 L646.5 560.88 L647 560.89 L647.5 560.9 L648 560.91 L648.5 560.92 L649 560.93 L649.5 560.94 L650 560.95 L650.5 560.96 L651 560.97 L651.5 560.98 L652 560.99 L652.5 561 L653 561.01 L653.5 561.01 L654 561.02 L654.5 561.03 L655 561.04 L655.5 561.04 L656 561.05 L656.5 561.06 L657 561.06 L657.5 561.07 L658 561.07 L658.5 561.08 L659 561.09 L659.5 561.09 L660 561.1 L660.5 561.1 L661 561.11 L661.5 561.12 L662 561.12 L662.5 561.13 L663 561.13 L663.5 561.14 L664 561.14 L664.5 561.15 L665 561.16 L665.5 561.16 L666 561.17 L666.5 561.18 L667 561.18 L667.5 561.19 L668 561.2 L668.5 561.2 L669 561.21 L669.5 561.22 L670 561.23 L670.5 561.23 L671 561.24 L671.5 561.25 L672 561.26 L672.5 561.27 L673 561.28 L673.5 561.29 L674 561.3" fill="none" stroke="#1f0cff" stroke-width="1.3" stroke-linejoin="round" stroke-linecap="round" />
<path d="M365 534.3 L365.5 534.3 L366 534.3 L366.5 534.3 L367 534.3 L367.5 534.3 L368 534.31 L368.5 534.31 L369 534.31 L369.5 534.31 L370 534.31 L370.5 534.31 L371 534.31 L371.5 534.31 L372 534.31 L372.5 534.31 L373 534.31 L373.5 534.31 L374 534.31 L374.5 534.32 L375 534.32 L375.5 534.32 L376 534.32 L376.5 534.32 L377 534.32 L377.5 534.32 L378 534.32 L378.5 534.32 L379 534.32 L379.5 534.32 L380 534.32 L380.5 534.32 L381 534.32 L381.5 534.32 L382 534.33 L382.5 534.33 L383 534.33 L383.5 534.33 L384 534.33 L384.5 534.33 L385 534.33 L385.5 534.33 L386 534.33 L386.5 534.33 L387 534.33 L387.5 534.33 L388 534.33 L388.5 534.33 L389 534.33 L389.5 534.33 L390 534.34 L390.5 534.34 L391 534.34 L391.5 534.34 L392 534.34 L392.5 534.34 L393 534.34 L393.5 534.34 L394 534.34 L394.5 534.34 L395 534.34 L395.5 534.34 L396 534.34 L396.5 534.34 L397 534.34 L397.5 534.34 L398 534.34 L398.5 534.34 L399 534.35 L399.5 534.35 L400 534.35 L400.5 534.35 L401 534.35 L401.5 534.35 L402 534.35 L402.5 534.35 L403 534.35 L403.5 534.35 L404 534.35 L404.5 534.35 L405 534.35 L405.5 534.35 L406 534.35 L406.5 534.35 L407 534.35 L407.5 534.35 L408 534.36 L408.5 534.36 L409 534.36 L409.5 534.36 L410 534.36 L410.5 534.36 L411 534.36 L411.5 534.36 L412 534.36 L412.5 534.36 L413 534.36 L413.5 534.36 L414 534.36 L414.5 534.36 L415 534.36 L415.5 534.36 L416 534.36 L416.5 534.36 L417 534.37 L417.5 534.37 L418 534.37 L418.5 534.37 L419 534.37 L419.5 534.37 L420 534.37 L420.5 534.37 L421 534.37 L421.5 534.37 L422 534.37 L422.5 534.37 L423 534.37 L423.5 534.37 L424 534.37 L424.5 534.37 L425 534.37 L425.5 534.38 L426 534.38 L426.5 534.38 L427 534.38 L427.5 534.38 L428 534.38 L428.5 534.38 L429 534.38 L429.5 534.38 L430 534.38 L430.5 534.38 L431 534.38 L431.5 534.38 L432 534.38 L432.5 534.39 L433 534.39 L433.5 534.39 L434 534.39 L434.5 534.39 L435 534.39 L435.5 534.39 L436 534.39 L436.5 534.39 L437 534.39 L437.5 534.39 L438 534.39 L438.5 534.39 L439 534.4 L439.5 534.4 L440 534.4 L440.5 534.4 L441 534.4 L441.5 534.4 L442 534.4 L442.5 534.4 L443 534.4 L443.5 534.4 L444 534.4 L444.5 534.4 L445 534.41 L445.5 534.41 L446 534.41 L446.5 534.41 L447 534.41 L447.5 534.41 L448 534.41 L448.5 534.41 L449 534.41 L449.5 534.41 L450 534.42 L450.5 534.42 L451 534.42 L451.5 534.42 L452 534.42 L452.5 534.42 L453 534.42 L453.5 534.42 L454 534.42 L454.5 534.43 L455 534.43 L455.5 534.43 L456 534.43 L456.5 534.43 L457 534.43 L457.5 534.43 L458 534.43 L458.5 534.43 L459 534.44 L459.5 534.44 L460 534.44 L460.5 534.44 L461 534.44 L461.5 534.44 L462 534.44 L462.5 534.44 L463 534.45 L463.5 534.45 L464 534.45 L464.5 534.45 L465 534.45 L465.5 534.45 L466 534.45 L466.5 534.46 L467 534.46 L467.5 534.46 L468 534.46 L468.5 534.46 L469 534.46 L469.5 534.46 L470 534.47 L470.5 534.47 L471 534.47 L471.5 534.47 L472 534.47 L472.5 534.47 L473 534.48 L473.5 534.48 L474 534.48 L474.5 534.48 L475 534.48 L475.5 534.48 L476 534.49 L476.5 534.49 L477 534.49 L477.5 534.49 L478 534.49 L478.5 534.49 L479 534.5 L479.5 534.5 L480 534.5 L480.5 534.5 L481 534.5 L481.5 534.51 L482 534.51 L482.5 534.51 L483 534.52 L483.5 534.52 L484 534.52 L484.5 534.53 L485 534.53 L485.5 534.54 L486 534.54 L486.5 534.55 L487 534.56 L487.5 534.56 L488 534.57 L488.5 534.58 L489 534.58 L489.5 534.59 L490 534.6 L490.5 534.6 L491 534.61 L491.5 534.62 L492 534.63 L492.5 534.64 L493 534.65 L493.5 534.65 L494 534.66 L494.5 534.67 L495 534.68 L495.5 534.69 L496 534.7 L496.5 534.71 L497 534.72 L497.5 534.73 L498 534.74 L498.5 534.75 L499 534.77 L499.5 534.78 L500 534.79 L500.5 534.8 L501 534.81 L501.5 534.82 L502 534.83 L502.5 534.85 L503 534.86 L503.5 534.87 L504 534.88 L504.5 534.89 L505 534.91 L505.5 534.92 L506 534.93 L506.5 534.94 L507 534.96 L507.5 534.97 L508 534.98 L508.5 535 L509 535.01 L509.5 535.02 L510 535.03 L510.5 535.05 L511 535.06 L511.5 535.07 L512 535.09 L512.5 535.1 L513 535.11 L513.5 535.13 L514 535.14 L514.5 535.15 L515 535.17 L515.5 535.18 L516 535.19 L516.5 535.21 L517 535.22 L517.5 535.23 L518 535.25 L518.5 535.26 L519 535.27 L519.5 535.29 L520 535.3 L520.5 535.31 L521 535.33 L521.5 535.35 L522 535.37 L522.5 535.39 L523 535.41 L523.5 535.43 L524 535.45 L524.5 535.47 L525 535.49 L525.5 535.52 L526 535.54 L526.5 535.56 L527 535.58 L527.5 535.6 L528 535.62 L528.5 535.64 L529 535.65 L529.5 535.67 L530 535.68 L530.5 535.69 L531 535.69 L531.5 535.7 L532 535.7 L532.5 535.7 L533 535.69 L533.5 535.69 L534 535.68 L534.5 535.67 L535 535.65 L535.5 535.63 L536 535.62 L536.5 535.59 L537 535.57 L537.5 535.55 L538 535.52 L538.5 535.49 L539 535.46 L539.5 535.43 L540 535.4 L540.5 535.36 L541 535.3 L541.5 535.23 L542 535.14 L542.5 535.04 L543 534.93 L543.5 534.81 L544 534.68 L544.5 534.54 L545 534.39 L545.5 534.23 L546 534.07 L546.5 533.91 L547 533.74 L547.5 533.57 L548 533.4 L548.5 533.22 L549 533.03 L549.5 532.82 L550 532.61 L550.5 532.37 L551 532.13 L551.5 531.87 L552 531.61 L552.5 531.33 L553 531.04 L553.5 530.74 L554 530.43 L554.5 530.11 L555 529.78 L555.5 529.44 L556 529.1 L556.5 528.74 L557 528.38 L557.5 527.98 L558 527.55 L558.5 527.1 L559 526.62 L559.5 526.12 L560 525.61 L560.5 525.07 L561 524.52 L561.5 523.97 L562 523.4 L562.5 522.83 L563 522.26 L563.5 521.69 L564 521.12 L564.5 520.55 L565 520 L565.5 519.45 L566 518.89 L566.5 518.33 L567 517.76 L567.5 517.19 L568 516.61 L568.5 516.03 L569 515.45 L569.5 514.86 L570 514.27 L570.5 513.68 L571 513.08 L571.5 512.48 L572 511.88 L572.5 511.28 L573 510.68 L573.5 510.08 L574 509.45 L574.5 508.8 L575 508.13 L575.5 507.44 L576 506.75 L576.5 506.07 L577 505.39 L577.5 504.73 L578 504.1 L578.5 503.51 L579 502.95 L579.5 502.45 L580 502 L580.5 501.57 L581 501.14 L581.5 500.7 L582 500.27 L582.5 499.86 L583 499.47 L583.5 499.12 L584 498.81 L584.5 498.56 L585 498.37 L585.5 498.24 L586 498.2 L586.5 498.22 L587 498.29 L587.5 498.4 L588 498.54 L588.5 498.71 L589 498.91 L589.5 499.14 L590 499.39 L590.5 499.65 L591 499.93 L591.5 500.21 L592 500.5 L592.5 500.83 L593 501.24 L593.5 501.71 L594 502.24 L594.5 502.83 L595 503.46 L595.5 504.13 L596 504.83 L596.5 505.55 L597 506.29 L597.5 507.03 L598 507.77 L598.5 508.5 L599 509.24 L599.5 510.02 L600 510.84 L600.5 511.68 L601 512.55 L601.5 513.44 L602 514.35 L602.5 515.27 L603 516.21 L603.5 517.16 L604 518.12 L604.5 519.07 L605 520.03 L605.5 520.98 L606 521.93 L606.5 522.86 L607 523.78 L607.5 524.7 L608 525.63 L608.5 526.56 L609 527.49 L609.5 528.42 L610 529.36 L610.5 530.29 L611 531.23 L611.5 532.17 L612 533.11 L612.5 534.05 L613 534.98 L613.5 535.91 L614 536.85 L614.5 537.82 L615 538.79 L615.5 539.78 L616 540.77 L616.5 541.76 L617 542.74 L617.5 543.69 L618 544.63 L618.5 545.53 L619 546.4 L619.5 547.23 L620 548 L620.5 548.75 L621 549.49 L621.5 550.23 L622 550.95 L622.5 551.65 L623 552.32 L623.5 552.97 L624 553.57 L624.5 554.13 L625 554.65 L625.5 555.1 L626 555.5 L626.5 555.86 L627 556.21 L627.5 556.55 L628 556.89 L628.5 557.2 L629 557.51 L629.5 557.8 L630 558.07 L630.5 558.32 L631 558.56 L631.5 558.78 L632 558.97 L632.5 559.14 L633 559.29 L633.5 559.41 L634 559.5 L634.5 559.58 L635 559.65 L635.5 559.73 L636 559.79 L636.5 559.86 L637 559.92 L637.5 559.98 L638 560.04 L638.5 560.09 L639 560.14 L639.5 560.19 L640 560.23 L640.5 560.28 L641 560.31 L641.5 560.35 L642 560.38 L642.5 560.41 L643 560.43 L643.5 560.45 L644 560.47 L644.5 560.49 L645 560.5 L645.5 560.51 L646 560.52 L646.5 560.53 L647 560.54 L647.5 560.55 L648 560.56 L648.5 560.57 L649 560.57 L649.5 560.58 L650 560.59 L650.5 560.6 L651 560.6 L651.5 560.61 L652 560.62 L652.5 560.62 L653 560.63 L653.5 560.63 L654 560.64 L654.5 560.64 L655 560.65 L655.5 560.65 L656 560.66 L656.5 560.66 L657 560.67 L657.5 560.67 L658 560.68 L658.5 560.68 L659 560.69 L659.5 560.69 L660 560.69 L660.5 560.7 L661 560.7 L661.5 560.7 L662 560.71 L662.5 560.71 L663 560.71 L663.5 560.72 L664 560.72 L664.5 560.72 L665 560.73 L665.5 560.73 L666 560.73 L666.5 560.74 L667 560.74 L667.5 560.74 L668 560.75 L668.5 560.75 L669 560.76 L669.5 560.76 L670 560.76 L670.5 560.77 L671 560.77 L671.5 560.78 L672 560.78 L672.5 560.79 L673 560.79 L673.5 560.79 L674 560.8" fill="none" stroke="#3a8a26" stroke-width="1.3" stroke-linejoin="round" stroke-linecap="round" />
<path d="M365 533.9 L365.5 533.9 L366 533.9 L366.5 533.9 L367 533.9 L367.5 533.9 L368 533.91 L368.5 533.91 L369 533.91 L369.5 533.91 L370 533.91 L370.5 533.91 L371 533.91 L371.5 533.91 L372 533.91 L372.5 533.91 L373 533.91 L373.5 533.91 L374 533.91 L374.5 533.92 L375 533.92 L375.5 533.92 L376 533.92 L376.5 533.92 L377 533.92 L377.5 533.92 L378 533.92 L378.5 533.92 L379 533.92 L379.5 533.92 L380 533.92 L380.5 533.92 L381 533.92 L381.5 533.92 L382 533.93 L382.5 533.93 L383 533.93 L383.5 533.93 L384 533.93 L384.5 533.93 L385 533.93 L385.5 533.93 L386 533.93 L386.5 533.93 L387 533.93 L387.5 533.93 L388 533.93 L388.5 533.93 L389 533.93 L389.5 533.93 L390 533.94 L390.5 533.94 L391 533.94 L391.5 533.94 L392 533.94 L392.5 533.94 L393 533.94 L393.5 533.94 L394 533.94 L394.5 533.94 L395 533.94 L395.5 533.94 L396 533.94 L396.5 533.94 L397 533.94 L397.5 533.94 L398 533.94 L398.5 533.94 L399 533.95 L399.5 533.95 L400 533.95 L400.5 533.95 L401 533.95 L401.5 533.95 L402 533.95 L402.5 533.95 L403 533.95 L403.5 533.95 L404 533.95 L404.5 533.95 L405 533.95 L405.5 533.95 L406 533.95 L406.5 533.95 L407 533.95 L407.5 533.95 L408 533.96 L408.5 533.96 L409 533.96 L409.5 533.96 L410 533.96 L410.5 533.96 L411 533.96 L411.5 533.96 L412 533.96 L412.5 533.96 L413 533.96 L413.5 533.96 L414 533.96 L414.5 533.96 L415 533.96 L415.5 533.96 L416 533.96 L416.5 533.96 L417 533.97 L417.5 533.97 L418 533.97 L418.5 533.97 L419 533.97 L419.5 533.97 L420 533.97 L420.5 533.97 L421 533.97 L421.5 533.97 L422 533.97 L422.5 533.97 L423 533.97 L423.5 533.97 L424 533.97 L424.5 533.97 L425 533.97 L425.5 533.98 L426 533.98 L426.5 533.98 L427 533.98 L427.5 533.98 L428 533.98 L428.5 533.98 L429 533.98 L429.5 533.98 L430 533.98 L430.5 533.98 L431 533.98 L431.5 533.98 L432 533.98 L432.5 533.99 L433 533.99 L433.5 533.99 L434 533.99 L434.5 533.99 L435 533.99 L435.5 533.99 L436 533.99 L436.5 533.99 L437 533.99 L437.5 533.99 L438 533.99 L438.5 533.99 L439 534 L439.5 534 L440 534 L440.5 534 L441 534 L441.5 534 L442 534 L442.5 534 L443 534 L443.5 534 L444 534 L444.5 534 L445 534.01 L445.5 534.01 L446 534.01 L446.5 534.01 L447 534.01 L447.5 534.01 L448 534.01 L448.5 534.01 L449 534.01 L449.5 534.01 L450 534.02 L450.5 534.02 L451 534.02 L451.5 534.02 L452 534.02 L452.5 534.02 L453 534.02 L453.5 534.02 L454 534.02 L454.5 534.03 L455 534.03 L455.5 534.03 L456 534.03 L456.5 534.03 L457 534.03 L457.5 534.03 L458 534.03 L458.5 534.03 L459 534.04 L459.5 534.04 L460 534.04 L460.5 534.04 L461 534.04 L461.5 534.04 L462 534.04 L462.5 534.04 L463 534.05 L463.5 534.05 L464 534.05 L464.5 534.05 L465 534.05 L465.5 534.05 L466 534.05 L466.5 534.06 L467 534.06 L467.5 534.06 L468 534.06 L468.5 534.06 L469 534.06 L469.5 534.06 L470 534.07 L470.5 534.07 L471 534.07 L471.5 534.07 L472 534.07 L472.5 534.07 L473 534.08 L473.5 534.08 L474 534.08 L474.5 534.08 L475 534.08 L475.5 534.08 L476 534.09 L476.5 534.09 L477 534.09 L477.5 534.09 L478 534.09 L478.5 534.09 L479 534.1 L479.5 534.1 L480 534.1 L480.5 534.1 L481 534.1 L481.5 534.11 L482 534.11 L482.5 534.11 L483 534.12 L483.5 534.12 L484 534.12 L484.5 534.13 L485 534.13 L485.5 534.14 L486 534.14 L486.5 534.15 L487 534.16 L487.5 534.16 L488 534.17 L488.5 534.18 L489 534.18 L489.5 534.19 L490 534.2 L490.5 534.2 L491 534.21 L491.5 534.22 L492 534.23 L492.5 534.24 L493 534.25 L493.5 534.25 L494 534.26 L494.5 534.27 L495 534.28 L495.5 534.29 L496 534.3 L496.5 534.31 L497 534.32 L497.5 534.33 L498 534.34 L498.5 534.35 L499 534.37 L499.5 534.38 L500 534.39 L500.5 534.4 L501 534.41 L501.5 534.42 L502 534.43 L502.5 534.45 L503 534.46 L503.5 534.47 L504 534.48 L504.5 534.49 L505 534.51 L505.5 534.52 L506 534.53 L506.5 534.54 L507 534.56 L507.5 534.57 L508 534.58 L508.5 534.6 L509 534.61 L509.5 534.62 L510 534.63 L510.5 534.65 L511 534.66 L511.5 534.67 L512 534.69 L512.5 534.7 L513 534.71 L513.5 534.73 L514 534.74 L514.5 534.75 L515 534.77 L515.5 534.78 L516 534.79 L516.5 534.81 L517 534.82 L517.5 534.83 L518 534.85 L518.5 534.86 L519 534.87 L519.5 534.89 L520 534.9 L520.5 534.91 L521 534.93 L521.5 534.95 L522 534.97 L522.5 534.99 L523 535.01 L523.5 535.03 L524 535.05 L524.5 535.07 L525 535.09 L525.5 535.12 L526 535.14 L526.5 535.16 L527 535.18 L527.5 535.2 L528 535.22 L528.5 535.24 L529 535.25 L529.5 535.27 L530 535.28 L530.5 535.29 L531 535.29 L531.5 535.3 L532 535.3 L532.5 535.3 L533 535.29 L533.5 535.29 L534 535.28 L534.5 535.27 L535 535.25 L535.5 535.23 L536 535.22 L536.5 535.19 L537 535.17 L537.5 535.15 L538 535.12 L538.5 535.09 L539 535.06 L539.5 535.03 L540 535 L540.5 534.96 L541 534.9 L541.5 534.83 L542 534.74 L542.5 534.64 L543 534.53 L543.5 534.41 L544 534.28 L544.5 534.14 L545 533.99 L545.5 533.83 L546 533.67 L546.5 533.51 L547 533.34 L547.5 533.17 L548 533 L548.5 532.82 L549 532.63 L549.5 532.42 L550 532.21 L550.5 531.97 L551 531.73 L551.5 531.47 L552 531.21 L552.5 530.93 L553 530.64 L553.5 530.34 L554 530.03 L554.5 529.71 L555 529.38 L555.5 529.04 L556 528.7 L556.5 528.34 L557 527.98 L557.5 527.58 L558 527.15 L558.5 526.7 L559 526.22 L559.5 525.72 L560 525.21 L560.5 524.67 L561 524.12 L561.5 523.57 L562 523 L562.5 522.43 L563 521.86 L563.5 521.29 L564 520.72 L564.5 520.15 L565 519.6 L565.5 519.05 L566 518.49 L566.5 517.93 L567 517.36 L567.5 516.79 L568 516.21 L568.5 515.63 L569 515.05 L569.5 514.46 L570 513.87 L570.5 513.28 L571 512.68 L571.5 512.08 L572 511.48 L572.5 510.88 L573 510.28 L573.5 509.68 L574 509.05 L574.5 508.4 L575 507.73 L575.5 507.04 L576 506.35 L576.5 505.67 L577 504.99 L577.5 504.33 L578 503.7 L578.5 503.11 L579 502.55 L579.5 502.05 L580 501.6 L580.5 501.17 L581 500.74 L581.5 500.3 L582 499.87 L582.5 499.46 L583 499.07 L583.5 498.72 L584 498.41 L584.5 498.16 L585 497.97 L585.5 497.84 L586 497.8 L586.5 497.82 L587 497.89 L587.5 498 L588 498.14 L588.5 498.31 L589 498.51 L589.5 498.74 L590 498.99 L590.5 499.25 L591 499.53 L591.5 499.81 L592 500.1 L592.5 500.43 L593 500.84 L593.5 501.31 L594 501.84 L594.5 502.43 L595 503.06 L595.5 503.73 L596 504.43 L596.5 505.15 L597 505.89 L597.5 506.63 L598 507.37 L598.5 508.1 L599 508.84 L599.5 509.62 L600 510.44 L600.5 511.28 L601 512.15 L601.5 513.04 L602 513.95 L602.5 514.87 L603 515.81 L603.5 516.76 L604 517.72 L604.5 518.67 L605 519.63 L605.5 520.58 L606 521.53 L606.5 522.46 L607 523.38 L607.5 524.3 L608 525.23 L608.5 526.16 L609 527.09 L609.5 528.02 L610 528.96 L610.5 529.89 L611 530.83 L611.5 531.77 L612 532.71 L612.5 533.65 L613 534.58 L613.5 535.51 L614 536.45 L614.5 537.42 L615 538.39 L615.5 539.38 L616 540.37 L616.5 541.36 L617 542.34 L617.5 543.29 L618 544.23 L618.5 545.13 L619 546 L619.5 546.83 L620 547.6 L620.5 548.35 L621 549.09 L621.5 549.83 L622 550.55 L622.5 551.25 L623 551.92 L623.5 552.57 L624 553.17 L624.5 553.73 L625 554.25 L625.5 554.7 L626 555.1 L626.5 555.46 L627 555.81 L627.5 556.15 L628 556.49 L628.5 556.8 L629 557.11 L629.5 557.4 L630 557.67 L630.5 557.92 L631 558.16 L631.5 558.38 L632 558.57 L632.5 558.74 L633 558.89 L633.5 559.01 L634 559.1 L634.5 559.18 L635 559.25 L635.5 559.33 L636 559.39 L636.5 559.46 L637 559.52 L637.5 559.58 L638 559.64 L638.5 559.69 L639 559.74 L639.5 559.79 L640 559.83 L640.5 559.88 L641 559.91 L641.5 559.95 L642 559.98 L642.5 560.01 L643 560.03 L643.5 560.05 L644 560.07 L644.5 560.09 L645 560.1 L645.5 560.11 L646 560.12 L646.5 560.13 L647 560.14 L647.5 560.15 L648 560.16 L648.5 560.17 L649 560.17 L649.5 560.18 L650 560.19 L650.5 560.2 L651 560.2 L651.5 560.21 L652 560.22 L652.5 560.22 L653 560.23 L653.5 560.23 L654 560.24 L654.5 560.24 L655 560.25 L655.5 560.25 L656 560.26 L656.5 560.26 L657 560.27 L657.5 560.27 L658 560.28 L658.5 560.28 L659 560.29 L659.5 560.29 L660 560.29 L660.5 560.3 L661 560.3 L661.5 560.3 L662 560.31 L662.5 560.31 L663 560.31 L663.5 560.32 L664 560.32 L664.5 560.32 L665 560.33 L665.5 560.33 L666 560.33 L666.5 560.34 L667 560.34 L667.5 560.34 L668 560.35 L668.5 560.35 L669 560.36 L669.5 560.36 L670 560.36 L670.5 560.37 L671 560.37 L671.5 560.38 L672 560.38 L672.5 560.39 L673 560.39 L673.5 560.39 L674 560.4" fill="none" stroke="#eea33c" stroke-width="1.3" stroke-linejoin="round" stroke-linecap="round" />
<path d="M365 536.37 L367.2 535.77 L369.4 535.98 L371.6 536.46 L373.8 534.34 L376 535.39 L378.2 536.41 L380.4 536.4 L382.6 535.39 L384.8 533.92 L387 534.59 L389.2 536.63 L391.4 533.82 L393.6 534.27 L395.8 536.4 L398 534.34 L400.2 532.21 L402.4 531.06 L404.6 531.8 L406.8 527.85 L409 525.38 L411.2 523.47 L413.4 521.62 L415.6 517.04 L417.8 512.18 L420 513.15 L422.2 511.72 L424.4 513.75 L426.6 515.95 L428.8 518.66 L431 516.2 L433.2 516.6 L435.4 512.83 L437.6 510.89 L439.8 508.44 L442 509.94 L444.2 509.97 L446.4 507.27 L448.6 509.24 L450.8 511.06 L453 516.6 L455.2 518.14 L457.4 520.24 L459.6 525.04 L461.8 527.31 L464 528.84 L466.2 529.5 L468.4 532.59 L470.6 533.6 L472.8 534.18 L475 534.01 L477.2 536.78 L479.4 536.73 L481.6 535.86 L483.8 536.38 L486 534.45 L488.2 532.77 L490.4 530.56 L492.6 530.66 L494.8 528.74 L497 526.87 L499.2 527.81 L501.4 526.1 L503.6 521.65 L505.8 523.57 L508 518.64 L510.2 519.28 L512.4 515.48 L514.6 514.58 L516.8 513.29 L519 508.86 L521.2 507.08 L523.4 500.02 L525.6 498.69 L527.8 491.31 L530 487.99 L532.2 482.09 L534.4 473.59 L536.6 469.6 L538.8 457.91 L541 451.34 L543.2 444.65 L545.4 443.53 L547.6 437.3 L549.8 431.33 L552 426.79 L554.2 423.89 L556.4 421.95 L558.6 414.47 L560.8 410.94 L563 413.14 L565.2 411.69 L567.4 409.15 L569.6 410.76 L571.8 410.28 L574 412.39 L576.2 415.4 L578.4 418.45 L580.6 422.98 L582.8 428.55 L585 435.61 L587.2 445.18 L589.4 454.72 L591.6 461.46 L593.8 469.05 L596 475.06 L598.2 483.5 L600.4 493.8 L602.6 500.91 L604.8 510.68 L607 518.3 L609.2 522.35 L611.4 529.23 L613.6 536.19 L615.8 543.14 L618 546.11 L620.2 550.17 L622.4 554.63 L624.6 555.29 L626.8 558.33 L629 557.97 L631.2 560.13 L633.4 559.79 L635.6 558.81 L637.8 560.19 L640 559.28 L642.2 561.35 L644.4 560.94 L646.6 560.41 L648.8 561.56 L651 560.57 L653.2 561.75 L655.4 561.13 L657.6 559.48 L659.8 559.67 L662 561.36 L664.2 559.3 L666.4 561.76 L668.6 559.2 L670.8 561.09 L673 560.9" fill="none" stroke="#1f0cff" stroke-width="2.6" stroke-linejoin="round" stroke-linecap="round" />
<path d="M365 534.41 L367.2 536.01 L369.4 535.99 L371.6 535.48 L373.8 534.57 L376 536.36 L378.2 536.59 L380.4 535.65 L382.6 535.53 L384.8 534.64 L387 533.79 L389.2 534.91 L391.4 535.72 L393.6 534.11 L395.8 536.27 L398 534.02 L400.2 532.74 L402.4 530.67 L404.6 532.93 L406.8 531.09 L409 530.23 L411.2 528 L413.4 524.51 L415.6 524.53 L417.8 524.6 L420 522.74 L422.2 526.49 L424.4 525.09 L426.6 524.82 L428.8 528.06 L431 525.42 L433.2 527.48 L435.4 524.52 L437.6 524.12 L439.8 522.92 L442 523.21 L444.2 521.83 L446.4 521.18 L448.6 525.33 L450.8 523.95 L453 527.13 L455.2 525.99 L457.4 529.99 L459.6 531.19 L461.8 531.82 L464 532.78 L466.2 532.76 L468.4 533.86 L470.6 532.28 L472.8 533.82 L475 535.47 L477.2 533.57 L479.4 535.7 L481.6 535.25 L483.8 532.67 L486 531.27 L488.2 530.43 L490.4 528.53 L492.6 528.95 L494.8 524.56 L497 520.96 L499.2 519.53 L501.4 520.88 L503.6 520.91 L505.8 517.28 L508 515.27 L510.2 513.03 L512.4 510.82 L514.6 504.77 L516.8 503.03 L519 499.38 L521.2 496.05 L523.4 489.84 L525.6 485.59 L527.8 482.64 L530 481.23 L532.2 472.2 L534.4 465.9 L536.6 456.15 L538.8 448.05 L541 441.53 L543.2 440.44 L545.4 435.61 L547.6 428.9 L549.8 426.81 L552 422.14 L554.2 418.59 L556.4 414.48 L558.6 405.86 L560.8 406.57 L563 405.13 L565.2 401.56 L567.4 404.27 L569.6 403.43 L571.8 403.71 L574 404.13 L576.2 411.28 L578.4 411.54 L580.6 416.45 L582.8 429.04 L585 437.67 L587.2 444.68 L589.4 454.82 L591.6 459.63 L593.8 468.72 L596 476.7 L598.2 485.58 L600.4 492.6 L602.6 500.11 L604.8 509.02 L607 519.14 L609.2 526.76 L611.4 532.54 L613.6 538.07 L615.8 542.52 L618 548.75 L620.2 550.86 L622.4 553.64 L624.6 553.34 L626.8 554.89 L629 557.83 L631.2 558.74 L633.4 559.57 L635.6 558.95 L637.8 558.4 L640 558.86 L642.2 559.75 L644.4 558.25 L646.6 558.81 L648.8 558.11 L651 559.54 L653.2 557.43 L655.4 559.26 L657.6 560.26 L659.8 557.59 L662 559.04 L664.2 559.35 L666.4 560.02 L668.6 559.31 L670.8 558.27 L673 558.64" fill="none" stroke="#3a8a26" stroke-width="2.6" stroke-linejoin="round" stroke-linecap="round" />
<path d="M365 535.15 L367.2 532.45 L369.4 531.85 L371.6 535.35 L373.8 532.89 L376 532.51 L378.2 534.44 L380.4 533.64 L382.6 535.54 L384.8 533.5 L387 535.9 L389.2 533.96 L391.4 534.78 L393.6 536.02 L395.8 535.25 L398 535.47 L400.2 533.76 L402.4 529.93 L404.6 531.56 L406.8 529.29 L409 526.31 L411.2 524.06 L413.4 525.68 L415.6 523.83 L417.8 524.5 L420 523.41 L422.2 523.91 L424.4 522.06 L426.6 522.33 L428.8 521.77 L431 519.73 L433.2 521.78 L435.4 518.02 L437.6 519.01 L439.8 519.15 L442 517.21 L444.2 514.77 L446.4 518.61 L448.6 519.57 L450.8 518.89 L453 519.49 L455.2 523.05 L457.4 522.72 L459.6 527.91 L461.8 528.05 L464 529.53 L466.2 530.74 L468.4 532.99 L470.6 534.7 L472.8 533.02 L475 533.36 L477.2 534.24 L479.4 533.18 L481.6 533.75 L483.8 533.05 L486 531.87 L488.2 531.87 L490.4 529.92 L492.6 526.11 L494.8 527.68 L497 523.67 L499.2 522.41 L501.4 521.01 L503.6 522.01 L505.8 521.03 L508 517.45 L510.2 514.3 L512.4 509.48 L514.6 509.75 L516.8 503.21 L519 501.71 L521.2 497.58 L523.4 493.71 L525.6 490.13 L527.8 485.92 L530 480.53 L532.2 477.75 L534.4 472.66 L536.6 464.41 L538.8 455 L541 451.75 L543.2 441.75 L545.4 438.69 L547.6 437.86 L549.8 435.14 L552 427.98 L554.2 426.14 L556.4 419.6 L558.6 414.83 L560.8 411.63 L563 412.28 L565.2 410.6 L567.4 410.14 L569.6 414.04 L571.8 417.02 L574 419.08 L576.2 426.44 L578.4 432.44 L580.6 438.9 L582.8 449.67 L585 451.07 L587.2 461.07 L589.4 469.1 L591.6 473.93 L593.8 479.46 L596 488.98 L598.2 494.28 L600.4 499.76 L602.6 505.15 L604.8 516.21 L607 520.59 L609.2 525.96 L611.4 532.68 L613.6 538.75 L615.8 545.14 L618 547.05 L620.2 549.95 L622.4 551.45 L624.6 553.98 L626.8 554.33 L629 555.6 L631.2 557.56 L633.4 558.73 L635.6 558.64 L637.8 556.23 L640 557.01 L642.2 558.5 L644.4 556.2 L646.6 556.48 L648.8 557.37 L651 557.13 L653.2 558.21 L655.4 558.23 L657.6 557.47 L659.8 556.74 L662 556.62 L664.2 556.71 L666.4 556.12 L668.6 557.86 L670.8 556.51 L673 558.57" fill="none" stroke="#eea33c" stroke-width="2.6" stroke-linejoin="round" stroke-linecap="round" />
</g>
<rect x="365" y="392.4" width="309.3" height="181" fill="none" stroke="#8c8c8c" stroke-width="1"/>
<text x="403" y="584.2" font-size="9.8" fill="#1a1a1a" text-anchor="middle" font-weight="normal" >40</text>
<text x="464.75" y="584.2" font-size="9.8" fill="#1a1a1a" text-anchor="middle" font-weight="normal" >35</text>
<text x="526.5" y="584.2" font-size="9.8" fill="#1a1a1a" text-anchor="middle" font-weight="normal" >30</text>
<text x="588.25" y="584.2" font-size="9.8" fill="#1a1a1a" text-anchor="middle" font-weight="normal" >25</text>
<text x="650" y="584.2" font-size="9.8" fill="#1a1a1a" text-anchor="middle" font-weight="normal" >20</text>
<path d="M402.6 573.4 V575 M464.35 573.4 V575 M526.1 573.4 V575 M587.85 573.4 V575 M649.6 573.4 V575" stroke="#8c8c8c" stroke-width="1" fill="none"/>
<text x="519.6" y="595.2" font-size="9.95" fill="#1a1a1a" text-anchor="middle" font-weight="normal" >Binding energy, eV</text>
<text x="0" y="0" font-size="10.55" fill="#1a1a1a" text-anchor="start" font-weight="normal" transform="translate(360.8 574.3) rotate(-90)">Normalized photoelectron count, a.u.</text>
<text x="338.3" y="393.4" font-size="19" fill="#1a1a1a" text-anchor="start" font-weight="normal" >c)</text>
<line x1="369" y1="400.7" x2="386" y2="400.7" stroke="#1f0cff" stroke-width="2"/>
<line x1="369" y1="410.2" x2="386" y2="410.2" stroke="#3a8a26" stroke-width="2"/>
<line x1="369" y1="419.7" x2="386" y2="419.7" stroke="#eea33c" stroke-width="2"/>
<text x="391.4" y="403.1" font-size="6.85" fill="#151515" ><tspan>W</tspan><tspan font-size="4.0" dy="1.2">0.8</tspan><tspan dy="-1.2">Ta</tspan><tspan font-size="4.0" dy="1.2">0.2</tspan><tspan dy="-1.2">B</tspan><tspan font-size="4.0" dy="1.2">5-x</tspan></text>
<text x="391.4" y="412.6" font-size="6.85" fill="#151515" ><tspan>W</tspan><tspan font-size="4.0" dy="1.2">0.6</tspan><tspan dy="-1.2">Ta</tspan><tspan font-size="4.0" dy="1.2">0.4</tspan><tspan dy="-1.2">B</tspan><tspan font-size="4.0" dy="1.2">5-x</tspan></text>
<text x="391.4" y="422.1" font-size="6.85" fill="#151515" ><tspan>W</tspan><tspan font-size="4.0" dy="1.2">0.4</tspan><tspan dy="-1.2">Ta</tspan><tspan font-size="4.0" dy="1.2">0.6</tspan><tspan dy="-1.2">B</tspan><tspan font-size="4.0" dy="1.2">5-x</tspan></text>
<text x="670.6" y="405.8" font-size="11.7" fill="#111" text-anchor="end" font-weight="bold" >Ta4f</text>
<text x="523" y="410" font-size="9.4" fill="#222" text-anchor="middle" font-weight="normal" >Ta-O</text>
<text x="511.9" y="420.8" font-size="8.9" fill="#222" ><tspan>Ta4f</tspan><tspan font-size="4.6" dy="1.8">7/2</tspan></text>
<path d="M506.3 424.3 L536.4 424.3 L557.7 461.4" fill="none" stroke="#111" stroke-width="1.1"/>
<text x="501.3" y="442.1" font-size="9.4" fill="#222" text-anchor="middle" font-weight="normal" >Ta-O</text>
<text x="477.7" y="452.9" font-size="9.7" fill="#222" text-anchor="start" font-weight="normal" >Sub-Oxide</text>
<path d="M477.9 455.6 L522.8 455.6 L560.2 512.8" fill="none" stroke="#111" stroke-width="1.1"/>
<text x="495.5" y="471.4" font-size="9.4" fill="#222" text-anchor="middle" font-weight="normal" >Ta-O</text>
<text x="484.5" y="481.4" font-size="8.9" fill="#222" ><tspan>Ta4f</tspan><tspan font-size="4.6" dy="1.8">5/2</tspan></text>
<path d="M480.5 485.2 L509.4 485.2 L532 495.5" fill="none" stroke="#111" stroke-width="1.1"/>
<text x="395.6" y="502.2" font-size="9.3" fill="#222" ><tspan>Ta</tspan><tspan font-size="4.8" dy="1.8">2</tspan><tspan dy="-1.8">O</tspan><tspan font-size="4.8" dy="1.8">5</tspan><tspan dy="-1.8"> loss feature</tspan></text>
<text x="609.6" y="464.8" font-size="9.4" fill="#222" text-anchor="start" font-weight="normal" >Ta-C/Ta-B</text>
<path d="M653.8 467.3 L609.6 467.3 L587 497.3" fill="none" stroke="#111" stroke-width="1.1"/>
</svg>
</body></html>
